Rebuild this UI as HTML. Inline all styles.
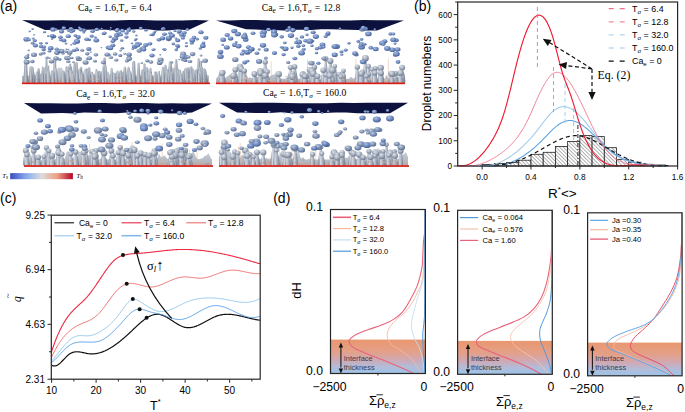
<!DOCTYPE html><html><head><meta charset="utf-8"><style>html,body{margin:0;padding:0;background:#fff;overflow:hidden;width:685px;height:412px;}svg{display:block;}</style></head><body>
<svg width="685" height="412" viewBox="0 0 685 412">
<rect width="685" height="412" fill="#fff"/>
<defs>
<radialGradient id="gd" cx="0.38" cy="0.32" r="0.75">
<stop offset="0" stop-color="#aabde0"/><stop offset="0.5" stop-color="#6f8bc2"/><stop offset="1" stop-color="#435886"/></radialGradient>
<radialGradient id="gg" cx="0.38" cy="0.32" r="0.75">
<stop offset="0" stop-color="#c2cddd"/><stop offset="0.5" stop-color="#8698b6"/><stop offset="1" stop-color="#566788"/></radialGradient>
<radialGradient id="gm" cx="0.38" cy="0.32" r="0.75"><stop offset="0" stop-color="#bccadf"/><stop offset="0.5" stop-color="#7d93ba"/><stop offset="1" stop-color="#506389"/></radialGradient>
<radialGradient id="gc" cx="0.38" cy="0.3" r="0.75"><stop offset="0" stop-color="#dfe4ea"/><stop offset="0.5" stop-color="#a6b0bf"/><stop offset="1" stop-color="#687387"/></radialGradient>
<linearGradient id="gs" x1="0" y1="0" x2="1" y2="0"><stop offset="0" stop-color="#6f7a89"/><stop offset="0.35" stop-color="#c6ccd5"/><stop offset="0.7" stop-color="#9aa3b2"/><stop offset="1" stop-color="#606a7c"/></linearGradient>
<linearGradient id="gp" x1="0" y1="0" x2="1" y2="0">
<stop offset="0" stop-color="#7c879a"/><stop offset="0.3" stop-color="#d3d9e1"/><stop offset="0.6" stop-color="#a9b2c1"/><stop offset="1" stop-color="#6c778b"/></linearGradient>
<linearGradient id="gfloor" x1="0" y1="0" x2="0" y2="1">
<stop offset="0" stop-color="#c6cbd3"/><stop offset="0.7" stop-color="#b4bac4"/><stop offset="1" stop-color="#bfa297"/></linearGradient>
<linearGradient id="gcb" x1="0" y1="0" x2="1" y2="0">
<stop offset="0" stop-color="#3b4cc0"/><stop offset="0.25" stop-color="#86a9ee"/><stop offset="0.5" stop-color="#dcdcdc"/><stop offset="0.75" stop-color="#eda083"/><stop offset="1" stop-color="#b40426"/></linearGradient>
<linearGradient id="gband" x1="0" y1="0" x2="0" y2="1">
<stop offset="0" stop-color="#e9976f"/><stop offset="0.35" stop-color="#e4a088"/><stop offset="0.6" stop-color="#d0a9b4"/><stop offset="0.8" stop-color="#b2bcd9"/><stop offset="1" stop-color="#9dc3e8"/></linearGradient>
<pattern id="hatch" patternUnits="userSpaceOnUse" width="2.6" height="2.6" patternTransform="rotate(-45)">
<rect width="2.6" height="2.6" fill="#fff"/><line x1="0" y1="0" x2="0" y2="2.6" stroke="#4a4a4a" stroke-width="0.85"/></pattern>
</defs>
<text x="0.00" y="10.60" font-size="14.00" text-anchor="start" font-family='"Liberation Sans", sans-serif' >(a)</text>
<text x="414.00" y="10.60" font-size="14.00" text-anchor="start" font-family='"Liberation Sans", sans-serif' >(b)</text>
<text x="0.00" y="202.80" font-size="14.00" text-anchor="start" font-family='"Liberation Sans", sans-serif' >(c)</text>
<text x="273.20" y="202.60" font-size="14.00" text-anchor="start" font-family='"Liberation Sans", sans-serif' >(d)</text>
<path d="M22.0,20.1 L35.4,20.6 L48.7,20.6 L62.1,20.2 L75.4,20.4 L88.8,20.4 L102.1,20.5 L115.5,20.6 L128.9,20.1 L142.2,20.1 L155.6,20.6 L168.9,20.4 L182.3,20.6 L195.6,20.1 L209.0,20.4 L188.0,30.2 L177.8,29.6 L167.6,30.4 L157.4,30.4 L147.1,29.3 L136.9,29.3 L126.7,29.9 L116.5,30.4 L106.3,29.8 L96.1,29.6 L85.9,29.8 L75.6,29.3 L65.4,29.6 L55.2,29.8 L45.0,29.9 Z" fill="#0c123d"/>
<ellipse cx="79.4" cy="27.7" rx="1.4" ry="1.1" fill="url(#gd)"/>
<ellipse cx="110.9" cy="27.9" rx="1.0" ry="0.8" fill="url(#gd)"/>
<ellipse cx="163.4" cy="28.8" rx="2.2" ry="1.7" fill="url(#gd)"/>
<ellipse cx="72.8" cy="30.4" rx="2.5" ry="2.0" fill="url(#gd)"/>
<ellipse cx="63.8" cy="28.1" rx="2.3" ry="1.8" fill="url(#gd)"/>
<ellipse cx="145.9" cy="30.2" rx="1.8" ry="1.4" fill="url(#gd)"/>
<ellipse cx="162.4" cy="29.2" rx="1.5" ry="1.2" fill="url(#gd)"/>
<ellipse cx="128.7" cy="30.0" rx="2.5" ry="2.0" fill="url(#gd)"/>
<ellipse cx="117.2" cy="29.0" rx="1.1" ry="0.8" fill="url(#gd)"/>
<ellipse cx="80.7" cy="29.7" rx="1.7" ry="1.4" fill="url(#gd)"/>
<ellipse cx="71.0" cy="28.8" rx="2.3" ry="1.8" fill="url(#gd)"/>
<ellipse cx="140.8" cy="28.2" rx="1.8" ry="1.4" fill="url(#gd)"/>
<ellipse cx="117.7" cy="29.6" rx="1.9" ry="1.5" fill="url(#gd)"/>
<ellipse cx="101.7" cy="28.6" rx="1.1" ry="0.8" fill="url(#gd)"/>
<ellipse cx="53.0" cy="29.4" rx="2.8" ry="2.2" fill="url(#gd)"/>
<ellipse cx="129.5" cy="28.3" rx="1.3" ry="1.0" fill="url(#gd)"/>
<ellipse cx="116.8" cy="30.3" rx="2.4" ry="1.9" fill="url(#gd)"/>
<ellipse cx="122.0" cy="29.9" rx="1.4" ry="1.1" fill="url(#gd)"/>
<path d="M22.0,82.8 L22.0,75.8 L22.5,75.8 L23.0,75.8 L23.5,75.8 L24.0,75.8 L24.5,75.7 L25.0,75.4 L25.5,75.0 L26.0,74.9 L26.5,75.2 L27.0,75.5 L27.5,75.7 L28.0,75.8 L28.5,75.8 L29.0,75.8 L29.5,75.8 L30.0,75.6 L30.5,75.3 L31.0,74.6 L31.5,73.4 L32.0,71.9 L32.5,70.5 L33.0,70.0 L33.5,70.5 L34.0,71.9 L34.5,73.4 L35.0,74.6 L35.5,75.3 L36.0,75.6 L36.5,75.7 L37.0,75.6 L37.5,75.6 L38.0,75.4 L38.5,75.3 L39.0,75.0 L39.5,74.7 L40.0,74.3 L40.5,73.8 L41.0,73.4 L41.5,73.0 L42.0,72.8 L42.5,72.7 L43.0,72.9 L43.5,73.2 L44.0,73.6 L44.5,74.1 L45.0,74.6 L45.5,74.9 L46.0,75.2 L46.5,75.5 L47.0,75.6 L47.5,75.7 L48.0,75.7 L48.5,75.7 L49.0,75.6 L49.5,75.5 L50.0,75.3 L50.5,75.1 L51.0,74.8 L51.5,74.5 L52.0,74.2 L52.5,73.7 L53.0,73.1 L53.5,72.4 L54.0,71.5 L54.5,70.9 L55.0,70.5 L55.5,70.7 L56.0,71.1 L56.5,71.5 L57.0,71.1 L57.5,69.5 L58.0,67.8 L58.5,67.8 L59.0,67.8 L59.5,67.8 L60.0,67.8 L60.5,67.8 L61.0,67.8 L61.5,67.8 L62.0,67.9 L62.5,69.3 L63.0,70.4 L63.5,71.4 L64.0,72.3 L64.5,73.0 L65.0,73.6 L65.5,74.0 L66.0,74.3 L66.5,74.3 L67.0,74.1 L67.5,73.6 L68.0,73.0 L68.5,72.4 L69.0,71.9 L69.5,71.5 L70.0,71.2 L70.5,71.2 L71.0,71.2 L71.5,71.3 L72.0,71.5 L72.5,71.8 L73.0,72.1 L73.5,72.5 L74.0,73.0 L74.5,73.4 L75.0,73.6 L75.5,73.6 L76.0,73.3 L76.5,72.8 L77.0,72.3 L77.5,71.7 L78.0,71.3 L78.5,71.0 L79.0,70.9 L79.5,70.8 L80.0,70.9 L80.5,71.2 L81.0,71.5 L81.5,72.0 L82.0,72.5 L82.5,72.9 L83.0,73.1 L83.5,73.2 L84.0,73.0 L84.5,72.7 L85.0,72.2 L85.5,71.9 L86.0,71.7 L86.5,71.7 L87.0,71.9 L87.5,72.4 L88.0,73.0 L88.5,73.6 L89.0,74.2 L89.5,74.7 L90.0,75.1 L90.5,75.4 L91.0,75.5 L91.5,75.6 L92.0,75.5 L92.5,75.3 L93.0,75.1 L93.5,74.9 L94.0,74.7 L94.5,74.7 L95.0,74.8 L95.5,75.1 L96.0,75.3 L96.5,75.5 L97.0,75.7 L97.5,75.7 L98.0,75.8 L98.5,75.8 L99.0,75.7 L99.5,75.6 L100.0,75.2 L100.5,74.1 L101.0,72.2 L101.5,70.7 L102.0,71.0 L102.5,72.8 L103.0,74.5 L103.5,75.4 L104.0,75.7 L104.5,75.8 L105.0,75.7 L105.5,75.5 L106.0,74.9 L106.5,73.9 L107.0,72.4 L107.5,71.3 L108.0,71.2 L108.5,72.1 L109.0,73.3 L109.5,74.1 L110.0,74.5 L110.5,74.4 L111.0,73.9 L111.5,73.2 L112.0,72.6 L112.5,72.3 L113.0,72.2 L113.5,72.5 L114.0,73.0 L114.5,73.2 L115.0,73.1 L115.5,72.7 L116.0,71.9 L116.5,71.1 L117.0,70.5 L117.5,70.4 L118.0,70.6 L118.5,71.1 L119.0,71.7 L119.5,72.2 L120.0,72.5 L120.5,72.6 L121.0,72.4 L121.5,72.2 L122.0,71.9 L122.5,71.8 L123.0,72.0 L123.5,72.5 L124.0,73.1 L124.5,73.8 L125.0,74.5 L125.5,75.0 L126.0,75.3 L126.5,75.2 L127.0,74.6 L127.5,73.5 L128.0,71.9 L128.5,70.5 L129.0,69.8 L129.5,70.1 L130.0,71.1 L130.5,72.4 L131.0,73.7 L131.5,74.6 L132.0,75.3 L132.5,75.6 L133.0,75.7 L133.5,75.8 L134.0,75.8 L134.5,75.8 L135.0,75.8 L135.5,75.8 L136.0,75.8 L136.5,75.7 L137.0,75.7 L137.5,75.6 L138.0,75.5 L138.5,75.4 L139.0,75.4 L139.5,75.4 L140.0,75.5 L140.5,75.6 L141.0,75.7 L141.5,75.8 L142.0,75.8 L142.5,75.7 L143.0,75.7 L143.5,75.5 L144.0,75.3 L144.5,74.9 L145.0,74.3 L145.5,73.6 L146.0,72.6 L146.5,71.5 L147.0,70.5 L147.5,69.6 L148.0,69.1 L148.5,69.0 L149.0,69.5 L149.5,70.3 L150.0,71.4 L150.5,72.6 L151.0,73.6 L151.5,74.4 L152.0,75.0 L152.5,75.4 L153.0,75.6 L153.5,75.7 L154.0,75.6 L154.5,75.3 L155.0,74.5 L155.5,73.2 L156.0,71.8 L156.5,71.2 L157.0,71.6 L157.5,72.6 L158.0,73.8 L158.5,74.8 L159.0,75.4 L159.5,75.7 L160.0,75.8 L160.5,75.8 L161.0,75.7 L161.5,75.6 L162.0,75.5 L162.5,75.3 L163.0,75.2 L163.5,75.2 L164.0,75.3 L164.5,75.4 L165.0,75.6 L165.5,75.6 L166.0,75.5 L166.5,75.3 L167.0,74.8 L167.5,74.2 L168.0,73.6 L168.5,73.0 L169.0,72.4 L169.5,71.8 L170.0,71.2 L170.5,70.4 L171.0,69.6 L171.5,68.8 L172.0,68.0 L172.5,67.8 L173.0,67.8 L173.5,67.8 L174.0,67.8 L174.5,68.4 L175.0,69.1 L175.5,69.9 L176.0,70.8 L176.5,71.6 L177.0,72.4 L177.5,73.2 L178.0,73.8 L178.5,74.4 L179.0,74.8 L179.5,75.0 L180.0,75.0 L180.5,74.8 L181.0,74.5 L181.5,74.0 L182.0,73.4 L182.5,72.7 L183.0,71.9 L183.5,71.0 L184.0,69.8 L184.5,68.3 L185.0,67.8 L185.5,67.8 L186.0,67.8 L186.5,67.8 L187.0,67.9 L187.5,71.5 L188.0,73.8 L188.5,74.9 L189.0,75.4 L189.5,75.6 L190.0,75.7 L190.5,75.7 L191.0,75.8 L191.5,75.8 L192.0,75.8 L192.5,75.8 L193.0,75.8 L193.5,75.8 L194.0,75.8 L194.5,75.8 L195.0,75.8 L195.5,75.8 L196.0,75.8 L196.5,75.8 L197.0,75.8 L197.5,75.8 L198.0,75.8 L198.5,75.7 L199.0,75.5 L199.5,74.9 L200.0,73.3 L200.5,71.1 L201.0,69.7 L201.5,70.3 L202.0,71.8 L202.5,72.6 L203.0,72.6 L203.5,72.5 L204.0,72.4 L204.5,72.5 L205.0,72.7 L205.5,73.1 L206.0,73.6 L206.5,74.1 L207.0,74.6 L207.5,75.0 L208.0,75.3 L208.5,75.5 L209.0,75.7 L209.0,82.8 Z" fill="url(#gfloor)"/>
<path d="M101.7,82.8 L103.2,58.5 Q104.4,55.9 105.7,58.5 L107.1,82.8 Z" fill="url(#gs)"/>
<path d="M195.7,82.8 L197.6,59.2 Q198.7,57.0 199.7,59.2 L201.6,82.8 Z" fill="url(#gs)"/>
<path d="M23.5,82.8 L24.4,60.0 Q25.7,57.4 27.0,60.0 L28.0,82.8 Z" fill="url(#gs)"/>
<path d="M173.5,82.8 L175.1,60.0 Q176.2,57.8 177.3,60.0 L178.8,82.8 Z" fill="url(#gs)"/>
<path d="M44.3,82.8 L45.5,60.6 Q46.4,58.8 47.3,60.6 L48.4,82.8 Z" fill="url(#gs)"/>
<path d="M53.2,82.8 L53.6,61.2 Q54.8,58.7 56.1,61.2 L56.5,82.8 Z" fill="url(#gs)"/>
<path d="M199.1,82.8 L199.6,61.7 Q200.8,59.2 202.0,61.7 L202.5,82.8 Z" fill="url(#gs)"/>
<path d="M131.4,82.8 L132.3,62.0 Q133.7,59.3 135.1,62.0 L136.0,82.8 Z" fill="url(#gs)"/>
<path d="M167.6,82.8 L168.9,62.3 Q170.3,59.5 171.7,62.3 L172.9,82.8 Z" fill="url(#gs)"/>
<path d="M74.8,82.8 L75.5,62.9 Q76.5,60.8 77.6,62.9 L78.3,82.8 Z" fill="url(#gs)"/>
<path d="M72.1,82.8 L73.5,63.2 Q74.5,61.4 75.4,63.2 L76.8,82.8 Z" fill="url(#gs)"/>
<path d="M136.3,82.8 L137.6,63.4 Q138.6,61.5 139.5,63.4 L140.8,82.8 Z" fill="url(#gs)"/>
<path d="M68.1,82.8 L69.7,63.9 Q70.4,62.5 71.1,63.9 L72.7,82.8 Z" fill="url(#gs)"/>
<path d="M142.2,82.8 L143.4,64.3 Q144.4,62.3 145.4,64.3 L146.6,82.8 Z" fill="url(#gs)"/>
<path d="M68.0,82.8 L68.9,64.7 Q69.9,62.8 70.9,64.7 L71.9,82.8 Z" fill="url(#gs)"/>
<path d="M162.7,82.8 L164.2,65.8 Q165.4,63.4 166.6,65.8 L168.1,82.8 Z" fill="url(#gs)"/>
<path d="M45.6,82.8 L46.7,66.3 Q47.9,64.0 49.0,66.3 L50.1,82.8 Z" fill="url(#gs)"/>
<path d="M103.5,82.8 L104.7,66.2 Q105.6,64.5 106.4,66.2 L107.6,82.8 Z" fill="url(#gs)"/>
<path d="M65.0,82.8 L65.6,67.0 Q66.5,65.2 67.4,67.0 L68.0,82.8 Z" fill="url(#gs)"/>
<path d="M28.4,82.8 L29.5,67.4 Q30.8,64.8 32.1,67.4 L33.2,82.8 Z" fill="url(#gs)"/>
<path d="M173.1,82.8 L174.8,67.2 Q175.8,65.0 176.9,67.2 L178.6,82.8 Z" fill="url(#gs)"/>
<path d="M65.6,82.8 L67.6,67.2 Q68.6,65.1 69.6,67.2 L71.6,82.8 Z" fill="url(#gs)"/>
<path d="M68.2,82.8 L70.0,67.2 Q71.0,65.2 72.0,67.2 L73.7,82.8 Z" fill="url(#gs)"/>
<path d="M188.4,82.8 L189.6,67.6 Q191.0,64.9 192.4,67.6 L193.6,82.8 Z" fill="url(#gs)"/>
<path d="M40.7,82.8 L41.9,67.1 Q42.7,65.5 43.5,67.1 L44.6,82.8 Z" fill="url(#gs)"/>
<path d="M160.5,82.8 L161.9,67.5 Q162.9,65.3 164.0,67.5 L165.4,82.8 Z" fill="url(#gs)"/>
<path d="M126.5,82.8 L127.8,67.2 Q128.5,65.8 129.2,67.2 L130.5,82.8 Z" fill="url(#gs)"/>
<path d="M79.1,82.8 L80.1,67.5 Q81.1,65.5 82.1,67.5 L83.2,82.8 Z" fill="url(#gs)"/>
<path d="M67.9,82.8 L68.7,67.8 Q70.0,65.2 71.3,67.8 L72.1,82.8 Z" fill="url(#gs)"/>
<path d="M122.5,82.8 L123.7,67.8 Q124.9,65.3 126.1,67.8 L127.3,82.8 Z" fill="url(#gs)"/>
<path d="M29.5,82.8 L31.1,67.8 Q32.4,65.3 33.6,67.8 L35.2,82.8 Z" fill="url(#gs)"/>
<path d="M66.1,82.8 L67.1,67.8 Q68.4,65.3 69.6,67.8 L70.6,82.8 Z" fill="url(#gs)"/>
<path d="M167.3,82.8 L168.6,67.8 Q169.8,65.4 170.9,67.8 L172.2,82.8 Z" fill="url(#gs)"/>
<path d="M144.4,82.8 L145.9,67.7 Q146.9,65.7 147.8,67.7 L149.3,82.8 Z" fill="url(#gs)"/>
<path d="M199.5,82.8 L200.8,68.0 Q201.9,65.7 203.1,68.0 L204.4,82.8 Z" fill="url(#gs)"/>
<path d="M85.9,82.8 L87.6,68.3 Q88.8,65.8 90.1,68.3 L91.7,82.8 Z" fill="url(#gs)"/>
<path d="M197.3,82.8 L198.8,68.3 Q200.0,65.8 201.3,68.3 L202.8,82.8 Z" fill="url(#gs)"/>
<path d="M185.2,82.8 L186.8,68.2 Q188.0,66.0 189.1,68.2 L190.7,82.8 Z" fill="url(#gs)"/>
<path d="M101.1,82.8 L102.2,68.1 Q103.1,66.3 104.0,68.1 L105.1,82.8 Z" fill="url(#gs)"/>
<path d="M42.2,82.8 L43.5,68.6 Q44.8,66.0 46.1,68.6 L47.3,82.8 Z" fill="url(#gs)"/>
<path d="M195.8,82.8 L197.4,68.2 Q198.2,66.5 199.0,68.2 L200.5,82.8 Z" fill="url(#gs)"/>
<path d="M147.6,82.8 L149.3,68.4 Q150.4,66.4 151.4,68.4 L153.1,82.8 Z" fill="url(#gs)"/>
<path d="M188.9,82.8 L190.4,68.4 Q191.1,66.9 191.9,68.4 L193.3,82.8 Z" fill="url(#gs)"/>
<path d="M126.3,82.8 L127.3,69.0 Q128.5,66.5 129.7,69.0 L130.8,82.8 Z" fill="url(#gs)"/>
<path d="M109.5,82.8 L110.7,68.7 Q111.6,66.8 112.6,68.7 L113.7,82.8 Z" fill="url(#gs)"/>
<path d="M28.4,82.8 L30.2,68.6 Q30.9,67.2 31.6,68.6 L33.3,82.8 Z" fill="url(#gs)"/>
<path d="M77.8,82.8 L78.7,69.3 Q80.0,66.6 81.4,69.3 L82.3,82.8 Z" fill="url(#gs)"/>
<path d="M53.4,82.8 L55.0,68.9 Q55.9,67.0 56.9,68.9 L58.5,82.8 Z" fill="url(#gs)"/>
<path d="M44.0,82.8 L45.4,69.1 Q46.5,66.9 47.6,69.1 L49.1,82.8 Z" fill="url(#gs)"/>
<path d="M36.7,82.8 L37.7,68.9 Q38.5,67.2 39.4,68.9 L40.4,82.8 Z" fill="url(#gs)"/>
<path d="M35.6,82.8 L37.6,69.1 Q38.5,67.3 39.4,69.1 L41.3,82.8 Z" fill="url(#gs)"/>
<path d="M84.5,82.8 L84.8,69.6 Q86.1,67.0 87.4,69.6 L87.7,82.8 Z" fill="url(#gs)"/>
<path d="M190.4,82.8 L191.7,69.2 Q192.7,67.3 193.6,69.2 L194.9,82.8 Z" fill="url(#gs)"/>
<path d="M188.5,82.8 L189.6,69.5 Q190.8,67.1 192.0,69.5 L193.1,82.8 Z" fill="url(#gs)"/>
<path d="M202.5,82.8 L203.1,69.5 Q204.3,67.1 205.5,69.5 L206.0,82.8 Z" fill="url(#gs)"/>
<path d="M185.3,82.8 L186.6,69.6 Q187.9,67.1 189.2,69.6 L190.5,82.8 Z" fill="url(#gs)"/>
<path d="M184.1,82.8 L184.8,69.6 Q186.0,67.3 187.1,69.6 L187.9,82.8 Z" fill="url(#gs)"/>
<path d="M172.8,82.8 L173.6,69.6 Q174.7,67.4 175.8,69.6 L176.5,82.8 Z" fill="url(#gs)"/>
<path d="M78.2,82.8 L78.7,69.8 Q79.9,67.3 81.2,69.8 L81.7,82.8 Z" fill="url(#gs)"/>
<path d="M93.5,82.8 L95.4,69.6 Q96.3,67.7 97.2,69.6 L99.1,82.8 Z" fill="url(#gs)"/>
<path d="M176.4,82.8 L176.9,70.2 Q178.3,67.5 179.6,70.2 L180.1,82.8 Z" fill="url(#gs)"/>
<path d="M164.8,82.8 L166.1,70.2 Q167.4,67.7 168.7,70.2 L169.9,82.8 Z" fill="url(#gs)"/>
<path d="M195.0,82.8 L195.3,70.4 Q196.6,67.7 197.9,70.4 L198.1,82.8 Z" fill="url(#gs)"/>
<path d="M173.6,82.8 L175.1,70.0 Q176.0,68.2 176.9,70.0 L178.5,82.8 Z" fill="url(#gs)"/>
<path d="M140.3,82.8 L141.2,70.5 Q142.4,68.0 143.7,70.5 L144.6,82.8 Z" fill="url(#gs)"/>
<path d="M202.6,82.8 L204.5,70.1 Q205.3,68.5 206.2,70.1 L208.0,82.8 Z" fill="url(#gs)"/>
<path d="M140.4,82.8 L142.1,70.2 Q142.9,68.6 143.7,70.2 L145.3,82.8 Z" fill="url(#gs)"/>
<path d="M201.5,82.8 L203.4,70.5 Q204.4,68.5 205.5,70.5 L207.4,82.8 Z" fill="url(#gs)"/>
<path d="M130.4,82.8 L132.1,70.7 Q133.3,68.3 134.5,70.7 L136.1,82.8 Z" fill="url(#gs)"/>
<path d="M177.7,82.8 L179.3,70.4 Q180.1,68.7 181.0,70.4 L182.5,82.8 Z" fill="url(#gs)"/>
<path d="M191.4,82.8 L192.9,70.4 Q193.7,68.8 194.5,70.4 L196.0,82.8 Z" fill="url(#gs)"/>
<path d="M68.4,82.8 L68.9,70.9 Q70.1,68.5 71.3,70.9 L71.8,82.8 Z" fill="url(#gs)"/>
<path d="M65.3,82.8 L66.1,71.1 Q67.4,68.6 68.6,71.1 L69.4,82.8 Z" fill="url(#gs)"/>
<path d="M118.9,82.8 L119.6,71.1 Q120.8,68.7 122.0,71.1 L122.6,82.8 Z" fill="url(#gs)"/>
<path d="M49.3,82.8 L51.0,70.8 Q51.9,69.0 52.8,70.8 L54.4,82.8 Z" fill="url(#gs)"/>
<path d="M41.5,82.8 L42.2,71.0 Q43.2,69.0 44.1,71.0 L44.8,82.8 Z" fill="url(#gs)"/>
<path d="M85.3,82.8 L86.8,70.8 Q87.5,69.2 88.3,70.8 L89.8,82.8 Z" fill="url(#gs)"/>
<path d="M122.8,82.8 L123.8,71.0 Q124.6,69.5 125.3,71.0 L126.3,82.8 Z" fill="url(#gs)"/>
<path d="M68.8,82.8 L69.8,71.5 Q71.2,68.9 72.5,71.5 L73.6,82.8 Z" fill="url(#gs)"/>
<path d="M202.0,82.8 L203.1,71.0 Q203.8,69.5 204.5,71.0 L205.6,82.8 Z" fill="url(#gs)"/>
<path d="M82.5,82.8 L83.7,71.5 Q85.0,69.0 86.3,71.5 L87.6,82.8 Z" fill="url(#gs)"/>
<path d="M45.5,82.8 L47.3,71.4 Q48.4,69.2 49.5,71.4 L51.3,82.8 Z" fill="url(#gs)"/>
<path d="M97.3,82.8 L98.1,71.7 Q99.4,69.1 100.6,71.7 L101.4,82.8 Z" fill="url(#gs)"/>
<path d="M185.7,82.8 L186.2,71.6 Q187.4,69.2 188.6,71.6 L189.1,82.8 Z" fill="url(#gs)"/>
<path d="M61.9,82.8 L62.6,71.4 Q63.5,69.5 64.5,71.4 L65.2,82.8 Z" fill="url(#gs)"/>
<path d="M197.9,82.8 L199.2,71.4 Q200.2,69.5 201.1,71.4 L202.4,82.8 Z" fill="url(#gs)"/>
<path d="M157.2,82.8 L158.1,71.5 Q159.0,69.8 159.9,71.5 L160.8,82.8 Z" fill="url(#gs)"/>
<path d="M127.3,82.8 L129.0,71.7 Q130.0,69.6 131.1,71.7 L132.8,82.8 Z" fill="url(#gs)"/>
<path d="M160.8,82.8 L162.3,71.5 Q163.2,69.8 164.0,71.5 L165.5,82.8 Z" fill="url(#gs)"/>
<path d="M180.5,82.8 L182.2,71.6 Q183.1,69.8 184.0,71.6 L185.7,82.8 Z" fill="url(#gs)"/>
<path d="M94.9,82.8 L96.0,72.1 Q97.3,69.4 98.6,72.1 L99.7,82.8 Z" fill="url(#gs)"/>
<path d="M83.2,82.8 L85.5,71.5 Q86.2,70.1 87.0,71.5 L89.2,82.8 Z" fill="url(#gs)"/>
<path d="M60.4,82.8 L61.8,72.1 Q63.1,69.5 64.4,72.1 L65.8,82.8 Z" fill="url(#gs)"/>
<path d="M170.2,82.8 L171.2,71.9 Q172.2,69.9 173.1,71.9 L174.1,82.8 Z" fill="url(#gs)"/>
<path d="M35.0,82.8 L36.0,72.3 Q37.3,69.6 38.7,72.3 L39.7,82.8 Z" fill="url(#gs)"/>
<path d="M141.4,82.8 L142.2,72.3 Q143.5,69.7 144.8,72.3 L145.6,82.8 Z" fill="url(#gs)"/>
<path d="M71.5,82.8 L73.3,71.8 Q74.1,70.2 74.9,71.8 L76.8,82.8 Z" fill="url(#gs)"/>
<path d="M39.1,82.8 L41.2,71.8 Q41.9,70.4 42.6,71.8 L44.8,82.8 Z" fill="url(#gs)"/>
<path d="M148.4,82.8 L149.0,72.3 Q150.1,70.0 151.3,72.3 L151.8,82.8 Z" fill="url(#gs)"/>
<path d="M153.4,82.8 L154.1,72.2 Q155.0,70.2 156.0,72.2 L156.6,82.8 Z" fill="url(#gs)"/>
<path d="M90.2,82.8 L90.9,72.5 Q91.9,70.4 92.9,72.5 L93.6,82.8 Z" fill="url(#gs)"/>
<path d="M146.2,82.8 L147.6,72.9 Q148.9,70.3 150.3,72.9 L151.7,82.8 Z" fill="url(#gs)"/>
<path d="M52.3,82.8 L53.1,72.4 Q53.8,71.0 54.6,72.4 L55.4,82.8 Z" fill="url(#gs)"/>
<path d="M147.1,82.8 L149.1,72.4 Q149.8,71.0 150.5,72.4 L152.6,82.8 Z" fill="url(#gs)"/>
<path d="M66.0,82.8 L67.1,72.6 Q67.9,71.0 68.7,72.6 L69.8,82.8 Z" fill="url(#gs)"/>
<path d="M176.6,82.8 L177.5,72.5 Q178.2,71.1 178.9,72.5 L179.8,82.8 Z" fill="url(#gs)"/>
<path d="M50.4,82.8 L51.6,73.2 Q52.8,70.8 54.1,73.2 L55.3,82.8 Z" fill="url(#gs)"/>
<path d="M72.0,82.8 L73.2,73.4 Q74.5,70.8 75.8,73.4 L77.0,82.8 Z" fill="url(#gs)"/>
<path d="M74.5,82.8 L76.0,73.2 Q77.0,71.2 78.0,73.2 L79.5,82.8 Z" fill="url(#gs)"/>
<path d="M198.3,82.8 L199.4,73.7 Q200.8,70.9 202.1,73.7 L203.2,82.8 Z" fill="url(#gs)"/>
<path d="M166.1,82.8 L167.6,73.3 Q168.5,71.6 169.4,73.3 L171.0,82.8 Z" fill="url(#gs)"/>
<path d="M80.2,82.8 L80.4,74.0 Q81.8,71.3 83.1,74.0 L83.4,82.8 Z" fill="url(#gs)"/>
<path d="M148.5,82.8 L150.0,73.6 Q150.9,71.7 151.9,73.6 L153.3,82.8 Z" fill="url(#gs)"/>
<path d="M111.9,82.8 L113.2,73.8 Q114.3,71.6 115.4,73.8 L116.7,82.8 Z" fill="url(#gs)"/>
<path d="M34.7,82.8 L36.2,73.5 Q37.0,72.0 37.7,73.5 L39.3,82.8 Z" fill="url(#gs)"/>
<path d="M115.6,82.8 L116.7,73.8 Q117.7,71.9 118.6,73.8 L119.7,82.8 Z" fill="url(#gs)"/>
<path d="M42.9,82.8 L43.4,74.2 Q44.7,71.6 46.0,74.2 L46.5,82.8 Z" fill="url(#gs)"/>
<path d="M197.0,82.8 L197.9,74.1 Q199.1,71.8 200.3,74.1 L201.2,82.8 Z" fill="url(#gs)"/>
<path d="M178.5,82.8 L179.8,74.2 Q181.1,71.8 182.3,74.2 L183.6,82.8 Z" fill="url(#gs)"/>
<path d="M79.1,82.8 L80.4,74.3 Q81.7,71.8 82.9,74.3 L84.2,82.8 Z" fill="url(#gs)"/>
<path d="M169.5,82.8 L170.0,74.5 Q171.4,71.7 172.8,74.5 L173.3,82.8 Z" fill="url(#gs)"/>
<path d="M40.7,82.8 L41.1,74.4 Q42.4,71.8 43.8,74.4 L44.1,82.8 Z" fill="url(#gs)"/>
<path d="M69.9,82.8 L71.4,74.4 Q72.7,71.8 74.0,74.4 L75.5,82.8 Z" fill="url(#gs)"/>
<path d="M188.8,82.8 L189.6,73.9 Q190.4,72.4 191.1,73.9 L192.0,82.8 Z" fill="url(#gs)"/>
<path d="M188.8,82.8 L190.5,74.6 Q191.6,72.5 192.6,74.6 L194.3,82.8 Z" fill="url(#gs)"/>
<path d="M91.0,82.8 L91.7,75.0 Q93.1,72.2 94.5,75.0 L95.2,82.8 Z" fill="url(#gs)"/>
<path d="M29.4,82.8 L29.9,74.7 Q31.0,72.6 32.1,74.7 L32.6,82.8 Z" fill="url(#gs)"/>
<path d="M164.2,82.8 L165.5,74.5 Q166.3,72.9 167.1,74.5 L168.5,82.8 Z" fill="url(#gs)"/>
<ellipse cx="96.1" cy="80.3" rx="2.0" ry="0.4" fill="#c98f77" opacity="0.55"/>
<ellipse cx="39.7" cy="80.8" rx="0.9" ry="0.4" fill="#8e97a6" opacity="0.55"/>
<ellipse cx="33.8" cy="78.1" rx="1.8" ry="0.6" fill="#8e97a6" opacity="0.55"/>
<ellipse cx="172.3" cy="81.1" rx="1.2" ry="0.7" fill="#e0bda8" opacity="0.55"/>
<ellipse cx="116.0" cy="77.8" rx="2.1" ry="0.7" fill="#8e97a6" opacity="0.55"/>
<ellipse cx="199.9" cy="79.7" rx="0.9" ry="0.8" fill="#8e97a6" opacity="0.55"/>
<ellipse cx="119.9" cy="79.6" rx="2.0" ry="0.7" fill="#d9a98e" opacity="0.55"/>
<ellipse cx="188.9" cy="81.0" rx="1.2" ry="0.5" fill="#c98f77" opacity="0.55"/>
<ellipse cx="95.0" cy="78.4" rx="1.4" ry="0.5" fill="#d9a98e" opacity="0.55"/>
<ellipse cx="31.1" cy="80.9" rx="1.7" ry="0.6" fill="#c98f77" opacity="0.55"/>
<ellipse cx="82.0" cy="78.2" rx="1.8" ry="0.7" fill="#d9a98e" opacity="0.55"/>
<ellipse cx="120.3" cy="77.5" rx="2.1" ry="0.6" fill="#c98f77" opacity="0.55"/>
<ellipse cx="129.0" cy="79.1" rx="1.2" ry="0.7" fill="#c98f77" opacity="0.55"/>
<ellipse cx="194.6" cy="81.6" rx="1.9" ry="1.0" fill="#d9a98e" opacity="0.55"/>
<ellipse cx="47.9" cy="79.4" rx="1.6" ry="1.0" fill="#e0bda8" opacity="0.55"/>
<ellipse cx="153.0" cy="80.5" rx="1.3" ry="1.0" fill="#c98f77" opacity="0.55"/>
<ellipse cx="97.5" cy="79.1" rx="2.2" ry="0.7" fill="#e0bda8" opacity="0.55"/>
<ellipse cx="28.4" cy="78.1" rx="1.1" ry="0.5" fill="#d9a98e" opacity="0.55"/>
<ellipse cx="57.2" cy="78.9" rx="1.8" ry="0.4" fill="#d9a98e" opacity="0.55"/>
<ellipse cx="204.0" cy="80.2" rx="1.8" ry="0.5" fill="#d9a98e" opacity="0.55"/>
<ellipse cx="139.9" cy="79.4" rx="0.9" ry="0.4" fill="#e0bda8" opacity="0.55"/>
<ellipse cx="142.0" cy="77.7" rx="2.0" ry="0.4" fill="#c98f77" opacity="0.55"/>
<ellipse cx="189.5" cy="79.2" rx="1.9" ry="0.5" fill="#e0bda8" opacity="0.55"/>
<ellipse cx="133.6" cy="81.1" rx="2.0" ry="0.7" fill="#c98f77" opacity="0.55"/>
<ellipse cx="123.7" cy="81.5" rx="1.9" ry="0.8" fill="#c98f77" opacity="0.55"/>
<ellipse cx="98.4" cy="76.8" rx="1.5" ry="0.6" fill="#8e97a6" opacity="0.55"/>
<ellipse cx="37.1" cy="79.9" rx="1.5" ry="0.7" fill="#8e97a6" opacity="0.55"/>
<ellipse cx="30.4" cy="81.1" rx="1.4" ry="0.5" fill="#c98f77" opacity="0.55"/>
<ellipse cx="151.8" cy="80.0" rx="1.6" ry="0.9" fill="#c98f77" opacity="0.55"/>
<ellipse cx="202.6" cy="79.5" rx="1.6" ry="0.7" fill="#8e97a6" opacity="0.55"/>
<ellipse cx="123.3" cy="80.9" rx="2.1" ry="0.6" fill="#c98f77" opacity="0.55"/>
<ellipse cx="106.7" cy="77.5" rx="1.4" ry="0.5" fill="#e0bda8" opacity="0.55"/>
<ellipse cx="69.8" cy="76.8" rx="1.4" ry="0.8" fill="#d9a98e" opacity="0.55"/>
<ellipse cx="91.1" cy="78.8" rx="2.1" ry="0.9" fill="#d9a98e" opacity="0.55"/>
<ellipse cx="189.3" cy="81.4" rx="2.0" ry="0.6" fill="#8e97a6" opacity="0.55"/>
<ellipse cx="73.3" cy="80.7" rx="1.7" ry="0.9" fill="#c98f77" opacity="0.55"/>
<ellipse cx="94.9" cy="80.8" rx="1.5" ry="0.5" fill="#e0bda8" opacity="0.55"/>
<ellipse cx="56.1" cy="29.4" rx="1.5" ry="1.1" fill="url(#gd)"/>
<ellipse cx="77.0" cy="41.4" rx="3.1" ry="2.3" fill="url(#gd)"/>
<ellipse cx="158.9" cy="39.8" rx="2.5" ry="1.8" fill="url(#gd)"/>
<ellipse cx="112.9" cy="45.3" rx="2.5" ry="1.9" fill="url(#gd)"/>
<ellipse cx="154.6" cy="49.4" rx="1.2" ry="0.9" fill="url(#gd)"/>
<ellipse cx="66.5" cy="49.3" rx="1.1" ry="0.8" fill="url(#gd)"/>
<ellipse cx="197.3" cy="39.1" rx="1.8" ry="1.4" fill="url(#gd)"/>
<ellipse cx="41.1" cy="46.5" rx="2.3" ry="1.7" fill="url(#gd)"/>
<ellipse cx="121.7" cy="40.5" rx="1.7" ry="1.3" fill="url(#gd)"/>
<ellipse cx="43.7" cy="49.4" rx="2.2" ry="1.6" fill="url(#gd)"/>
<ellipse cx="46.5" cy="43.1" rx="1.6" ry="1.2" fill="url(#gd)"/>
<ellipse cx="168.6" cy="39.1" rx="2.8" ry="2.1" fill="url(#gd)"/>
<ellipse cx="40.8" cy="43.2" rx="1.8" ry="1.3" fill="url(#gd)"/>
<ellipse cx="116.9" cy="35.2" rx="2.9" ry="2.1" fill="url(#gd)"/>
<ellipse cx="44.2" cy="46.9" rx="1.8" ry="1.3" fill="url(#gd)"/>
<ellipse cx="119.3" cy="33.2" rx="1.9" ry="1.4" fill="url(#gd)"/>
<ellipse cx="77.2" cy="49.8" rx="2.0" ry="1.5" fill="url(#gd)"/>
<ellipse cx="63.8" cy="40.4" rx="2.6" ry="1.9" fill="url(#gd)"/>
<ellipse cx="26.5" cy="39.2" rx="3.1" ry="2.3" fill="url(#gd)"/>
<ellipse cx="200.3" cy="48.4" rx="1.6" ry="1.2" fill="url(#gd)"/>
<ellipse cx="162.5" cy="38.2" rx="2.8" ry="2.0" fill="url(#gd)"/>
<ellipse cx="152.8" cy="34.8" rx="1.9" ry="1.4" fill="url(#gd)"/>
<ellipse cx="126.5" cy="33.1" rx="2.3" ry="1.7" fill="url(#gd)"/>
<ellipse cx="135.2" cy="40.2" rx="1.3" ry="1.0" fill="url(#gd)"/>
<ellipse cx="150.9" cy="34.9" rx="1.6" ry="1.2" fill="url(#gd)"/>
<ellipse cx="110.2" cy="36.7" rx="1.7" ry="1.3" fill="url(#gd)"/>
<ellipse cx="184.3" cy="32.8" rx="2.5" ry="1.8" fill="url(#gd)"/>
<ellipse cx="84.0" cy="30.2" rx="2.4" ry="1.8" fill="url(#gd)"/>
<ellipse cx="186.4" cy="46.1" rx="1.7" ry="1.2" fill="url(#gd)"/>
<ellipse cx="48.2" cy="35.9" rx="1.3" ry="1.0" fill="url(#gd)"/>
<ellipse cx="122.5" cy="30.8" rx="2.5" ry="1.8" fill="url(#gd)"/>
<ellipse cx="66.0" cy="43.4" rx="1.4" ry="1.0" fill="url(#gd)"/>
<ellipse cx="101.4" cy="47.6" rx="1.0" ry="0.7" fill="url(#gd)"/>
<ellipse cx="136.4" cy="35.4" rx="1.2" ry="0.9" fill="url(#gd)"/>
<ellipse cx="203.3" cy="43.3" rx="1.7" ry="1.3" fill="url(#gd)"/>
<ellipse cx="29.2" cy="39.9" rx="1.7" ry="1.3" fill="url(#gd)"/>
<ellipse cx="164.4" cy="34.3" rx="2.4" ry="1.8" fill="url(#gd)"/>
<ellipse cx="156.2" cy="30.6" rx="1.2" ry="0.9" fill="url(#gd)"/>
<ellipse cx="34.0" cy="34.7" rx="1.1" ry="0.8" fill="url(#gd)"/>
<ellipse cx="194.0" cy="37.4" rx="2.3" ry="1.7" fill="url(#gd)"/>
<ellipse cx="74.5" cy="43.3" rx="2.1" ry="1.5" fill="url(#gd)"/>
<ellipse cx="88.8" cy="48.9" rx="2.7" ry="2.0" fill="url(#gd)"/>
<ellipse cx="134.7" cy="46.7" rx="2.8" ry="2.1" fill="url(#gd)"/>
<ellipse cx="137.3" cy="43.3" rx="2.1" ry="1.6" fill="url(#gd)"/>
<ellipse cx="96.3" cy="40.3" rx="2.9" ry="2.1" fill="url(#gd)"/>
<ellipse cx="34.8" cy="40.5" rx="2.1" ry="1.5" fill="url(#gd)"/>
<ellipse cx="103.7" cy="33.5" rx="2.1" ry="1.6" fill="url(#gd)"/>
<ellipse cx="121.0" cy="34.7" rx="2.0" ry="1.5" fill="url(#gd)"/>
<ellipse cx="92.6" cy="31.2" rx="2.4" ry="1.8" fill="url(#gd)"/>
<ellipse cx="177.7" cy="40.4" rx="2.5" ry="1.9" fill="url(#gd)"/>
<ellipse cx="80.8" cy="29.6" rx="2.4" ry="1.8" fill="url(#gd)"/>
<ellipse cx="50.7" cy="48.2" rx="2.8" ry="2.1" fill="url(#gd)"/>
<ellipse cx="178.5" cy="46.7" rx="1.7" ry="1.3" fill="url(#gd)"/>
<ellipse cx="178.7" cy="32.4" rx="1.8" ry="1.3" fill="url(#gd)"/>
<ellipse cx="133.8" cy="31.5" rx="1.6" ry="1.2" fill="url(#gd)"/>
<ellipse cx="134.3" cy="45.8" rx="1.0" ry="0.8" fill="url(#gd)"/>
<ellipse cx="141.4" cy="48.3" rx="1.8" ry="1.3" fill="url(#gd)"/>
<ellipse cx="108.2" cy="47.5" rx="2.6" ry="2.0" fill="url(#gd)"/>
<ellipse cx="194.0" cy="37.9" rx="1.9" ry="1.4" fill="url(#gd)"/>
<ellipse cx="110.2" cy="30.1" rx="1.1" ry="0.8" fill="url(#gd)"/>
<ellipse cx="32.6" cy="29.0" rx="1.2" ry="0.9" fill="url(#gd)"/>
<ellipse cx="89.5" cy="39.7" rx="1.6" ry="1.2" fill="url(#gd)"/>
<ellipse cx="143.5" cy="48.1" rx="2.7" ry="2.0" fill="url(#gd)"/>
<ellipse cx="171.3" cy="34.1" rx="1.5" ry="1.1" fill="url(#gd)"/>
<ellipse cx="53.7" cy="36.5" rx="2.6" ry="1.9" fill="url(#gd)"/>
<ellipse cx="184.2" cy="35.6" rx="1.7" ry="1.3" fill="url(#gd)"/>
<ellipse cx="164.7" cy="49.9" rx="1.1" ry="0.8" fill="url(#gd)"/>
<ellipse cx="78.2" cy="36.9" rx="2.7" ry="2.0" fill="url(#gd)"/>
<ellipse cx="139.9" cy="43.7" rx="2.1" ry="1.5" fill="url(#gd)"/>
<ellipse cx="186.3" cy="43.1" rx="1.4" ry="1.0" fill="url(#gd)"/>
<ellipse cx="86.7" cy="39.2" rx="2.5" ry="1.8" fill="url(#gd)"/>
<ellipse cx="187.4" cy="29.5" rx="1.8" ry="1.3" fill="url(#gd)"/>
<ellipse cx="154.7" cy="32.7" rx="1.2" ry="0.9" fill="url(#gd)"/>
<ellipse cx="143.8" cy="49.4" rx="2.6" ry="2.0" fill="url(#gd)"/>
<ellipse cx="114.2" cy="38.9" rx="2.6" ry="1.9" fill="url(#gd)"/>
<ellipse cx="104.7" cy="33.1" rx="2.1" ry="1.6" fill="url(#gd)"/>
<ellipse cx="177.0" cy="48.5" rx="1.3" ry="1.0" fill="url(#gd)"/>
<ellipse cx="29.7" cy="31.3" rx="1.2" ry="0.9" fill="url(#gd)"/>
<ellipse cx="145.8" cy="45.1" rx="2.7" ry="2.0" fill="url(#gd)"/>
<ellipse cx="201.0" cy="32.3" rx="2.7" ry="2.0" fill="url(#gd)"/>
<ellipse cx="96.8" cy="29.4" rx="2.3" ry="1.7" fill="url(#gd)"/>
<ellipse cx="122.3" cy="48.2" rx="1.8" ry="1.3" fill="url(#gd)"/>
<ellipse cx="202.8" cy="45.9" rx="2.9" ry="2.1" fill="url(#gd)"/>
<ellipse cx="68.3" cy="36.2" rx="2.6" ry="1.9" fill="url(#gd)"/>
<ellipse cx="56.8" cy="49.2" rx="2.2" ry="1.6" fill="url(#gd)"/>
<ellipse cx="168.8" cy="38.0" rx="3.0" ry="2.2" fill="url(#gd)"/>
<ellipse cx="150.0" cy="43.7" rx="2.4" ry="1.8" fill="url(#gd)"/>
<ellipse cx="166.1" cy="34.2" rx="1.3" ry="0.9" fill="url(#gd)"/>
<ellipse cx="126.4" cy="37.1" rx="2.3" ry="1.7" fill="url(#gd)"/>
<ellipse cx="68.3" cy="49.5" rx="1.0" ry="0.8" fill="url(#gd)"/>
<ellipse cx="75.3" cy="35.6" rx="1.9" ry="1.4" fill="url(#gd)"/>
<ellipse cx="153.1" cy="49.7" rx="1.7" ry="1.2" fill="url(#gd)"/>
<ellipse cx="115.8" cy="38.4" rx="1.9" ry="1.4" fill="url(#gd)"/>
<ellipse cx="95.4" cy="37.3" rx="1.4" ry="1.1" fill="url(#gd)"/>
<ellipse cx="52.4" cy="36.6" rx="2.2" ry="1.6" fill="url(#gd)"/>
<ellipse cx="137.6" cy="45.4" rx="2.5" ry="1.9" fill="url(#gd)"/>
<ellipse cx="71.2" cy="32.0" rx="1.7" ry="1.3" fill="url(#gd)"/>
<ellipse cx="52.0" cy="38.8" rx="1.3" ry="0.9" fill="url(#gd)"/>
<ellipse cx="170.1" cy="33.1" rx="2.1" ry="1.6" fill="url(#gd)"/>
<ellipse cx="182.8" cy="38.0" rx="2.2" ry="1.6" fill="url(#gd)"/>
<ellipse cx="60.4" cy="37.2" rx="2.3" ry="1.7" fill="url(#gd)"/>
<ellipse cx="35.4" cy="45.5" rx="2.6" ry="1.9" fill="url(#gd)"/>
<ellipse cx="132.0" cy="43.3" rx="1.3" ry="0.9" fill="url(#gd)"/>
<ellipse cx="68.7" cy="30.6" rx="1.8" ry="1.3" fill="url(#gd)"/>
<ellipse cx="203.6" cy="42.9" rx="1.7" ry="1.3" fill="url(#gd)"/>
<ellipse cx="153.4" cy="33.7" rx="1.7" ry="1.3" fill="url(#gd)"/>
<ellipse cx="174.8" cy="30.9" rx="1.4" ry="1.1" fill="url(#gd)"/>
<ellipse cx="171.6" cy="35.1" rx="2.2" ry="1.7" fill="url(#gd)"/>
<ellipse cx="71.1" cy="44.8" rx="1.1" ry="0.8" fill="url(#gd)"/>
<ellipse cx="172.0" cy="35.6" rx="3.0" ry="2.2" fill="url(#gd)"/>
<ellipse cx="179.6" cy="31.2" rx="2.3" ry="1.7" fill="url(#gd)"/>
<ellipse cx="116.9" cy="33.4" rx="1.3" ry="0.9" fill="url(#gd)"/>
<ellipse cx="173.3" cy="43.9" rx="1.8" ry="1.3" fill="url(#gd)"/>
<ellipse cx="154.6" cy="31.8" rx="1.5" ry="1.1" fill="url(#gd)"/>
<ellipse cx="61.5" cy="31.5" rx="2.6" ry="1.9" fill="url(#gd)"/>
<ellipse cx="136.1" cy="39.1" rx="1.6" ry="1.2" fill="url(#gd)"/>
<ellipse cx="191.8" cy="43.1" rx="2.1" ry="1.5" fill="url(#gd)"/>
<ellipse cx="164.2" cy="49.3" rx="1.9" ry="1.4" fill="url(#gd)"/>
<ellipse cx="175.4" cy="31.1" rx="1.3" ry="0.9" fill="url(#gd)"/>
<ellipse cx="33.1" cy="38.5" rx="1.5" ry="1.1" fill="url(#gd)"/>
<ellipse cx="192.3" cy="40.3" rx="2.9" ry="2.2" fill="url(#gd)"/>
<ellipse cx="32.7" cy="43.2" rx="1.9" ry="1.4" fill="url(#gd)"/>
<ellipse cx="132.8" cy="49.1" rx="1.4" ry="1.0" fill="url(#gd)"/>
<ellipse cx="60.7" cy="40.0" rx="1.8" ry="1.3" fill="url(#gd)"/>
<ellipse cx="165.6" cy="49.6" rx="1.1" ry="0.8" fill="url(#gd)"/>
<ellipse cx="176.0" cy="38.6" rx="1.4" ry="1.0" fill="url(#gd)"/>
<ellipse cx="76.7" cy="48.0" rx="1.1" ry="0.8" fill="url(#gd)"/>
<ellipse cx="176.2" cy="49.8" rx="1.8" ry="1.4" fill="url(#gd)"/>
<ellipse cx="177.4" cy="45.7" rx="2.4" ry="1.7" fill="url(#gd)"/>
<ellipse cx="110.2" cy="48.0" rx="3.0" ry="2.2" fill="url(#gd)"/>
<ellipse cx="111.4" cy="48.1" rx="1.9" ry="1.4" fill="url(#gd)"/>
<ellipse cx="52.0" cy="35.7" rx="2.2" ry="1.7" fill="url(#gd)"/>
<ellipse cx="181.6" cy="34.8" rx="2.7" ry="2.0" fill="url(#gd)"/>
<ellipse cx="205.8" cy="37.7" rx="2.7" ry="2.0" fill="url(#gd)"/>
<ellipse cx="128.9" cy="31.4" rx="1.0" ry="0.8" fill="url(#gd)"/>
<ellipse cx="91.7" cy="36.1" rx="2.2" ry="1.6" fill="url(#gd)"/>
<ellipse cx="112.8" cy="41.2" rx="2.3" ry="1.7" fill="url(#gd)"/>
<ellipse cx="115.5" cy="38.4" rx="2.7" ry="2.0" fill="url(#gd)"/>
<ellipse cx="83.8" cy="32.4" rx="1.4" ry="1.1" fill="url(#gd)"/>
<ellipse cx="44.5" cy="32.1" rx="1.7" ry="1.2" fill="url(#gd)"/>
<ellipse cx="205.2" cy="60.7" rx="2.8" ry="2.1" fill="url(#gg)"/>
<ellipse cx="139.2" cy="50.8" rx="2.7" ry="2.0" fill="url(#gm)"/>
<ellipse cx="128.9" cy="57.2" rx="2.3" ry="1.7" fill="url(#gg)"/>
<ellipse cx="73.4" cy="62.2" rx="1.2" ry="0.9" fill="url(#gm)"/>
<ellipse cx="63.1" cy="53.4" rx="1.6" ry="1.2" fill="url(#gm)"/>
<ellipse cx="183.1" cy="53.9" rx="3.0" ry="2.3" fill="url(#gg)"/>
<ellipse cx="192.6" cy="54.1" rx="2.8" ry="2.1" fill="url(#gg)"/>
<ellipse cx="160.3" cy="54.7" rx="1.1" ry="0.8" fill="url(#gm)"/>
<ellipse cx="32.4" cy="61.5" rx="2.2" ry="1.7" fill="url(#gm)"/>
<ellipse cx="201.1" cy="55.5" rx="1.4" ry="1.0" fill="url(#gg)"/>
<ellipse cx="47.2" cy="57.6" rx="1.6" ry="1.2" fill="url(#gg)"/>
<ellipse cx="85.6" cy="62.5" rx="3.0" ry="2.2" fill="url(#gg)"/>
<ellipse cx="26.7" cy="62.1" rx="3.1" ry="2.3" fill="url(#gg)"/>
<ellipse cx="26.7" cy="57.2" rx="2.6" ry="1.9" fill="url(#gm)"/>
<ellipse cx="120.6" cy="50.5" rx="1.4" ry="1.1" fill="url(#gg)"/>
<ellipse cx="95.9" cy="54.8" rx="2.4" ry="1.8" fill="url(#gg)"/>
<ellipse cx="78.8" cy="58.9" rx="3.0" ry="2.2" fill="url(#gg)"/>
<ellipse cx="28.7" cy="50.3" rx="1.2" ry="0.9" fill="url(#gm)"/>
<ellipse cx="103.3" cy="62.4" rx="2.5" ry="1.8" fill="url(#gg)"/>
<ellipse cx="152.0" cy="55.5" rx="2.7" ry="2.0" fill="url(#gd)"/>
<ellipse cx="127.0" cy="60.8" rx="2.2" ry="1.6" fill="url(#gg)"/>
<ellipse cx="129.2" cy="58.8" rx="2.8" ry="2.1" fill="url(#gg)"/>
<ellipse cx="147.3" cy="60.8" rx="2.1" ry="1.6" fill="url(#gm)"/>
<ellipse cx="71.9" cy="57.9" rx="1.7" ry="1.2" fill="url(#gg)"/>
<ellipse cx="186.4" cy="55.9" rx="1.5" ry="1.1" fill="url(#gm)"/>
<ellipse cx="151.0" cy="62.0" rx="2.3" ry="1.7" fill="url(#gg)"/>
<ellipse cx="89.5" cy="58.3" rx="2.6" ry="2.0" fill="url(#gm)"/>
<ellipse cx="80.5" cy="59.6" rx="1.0" ry="0.8" fill="url(#gm)"/>
<ellipse cx="182.5" cy="60.2" rx="1.4" ry="1.1" fill="url(#gg)"/>
<ellipse cx="141.8" cy="62.9" rx="1.3" ry="0.9" fill="url(#gm)"/>
<ellipse cx="67.1" cy="57.9" rx="3.0" ry="2.2" fill="url(#gg)"/>
<ellipse cx="116.3" cy="60.0" rx="2.2" ry="1.6" fill="url(#gg)"/>
<ellipse cx="120.3" cy="55.5" rx="2.0" ry="1.5" fill="url(#gd)"/>
<ellipse cx="61.0" cy="51.0" rx="3.0" ry="2.2" fill="url(#gm)"/>
<ellipse cx="69.1" cy="58.2" rx="1.8" ry="1.4" fill="url(#gg)"/>
<ellipse cx="159.6" cy="62.9" rx="2.8" ry="2.1" fill="url(#gm)"/>
<ellipse cx="115.1" cy="54.0" rx="2.4" ry="1.8" fill="url(#gg)"/>
<ellipse cx="183.3" cy="57.2" rx="2.1" ry="1.5" fill="url(#gm)"/>
<ellipse cx="77.9" cy="57.6" rx="2.2" ry="1.6" fill="url(#gg)"/>
<ellipse cx="40.6" cy="54.0" rx="2.0" ry="1.5" fill="url(#gm)"/>
<ellipse cx="160.6" cy="59.7" rx="3.1" ry="2.3" fill="url(#gg)"/>
<ellipse cx="43.6" cy="53.0" rx="2.1" ry="1.5" fill="url(#gg)"/>
<ellipse cx="202.1" cy="62.0" rx="1.1" ry="0.8" fill="url(#gg)"/>
<ellipse cx="179.3" cy="59.5" rx="1.1" ry="0.8" fill="url(#gm)"/>
<ellipse cx="28.4" cy="54.3" rx="1.0" ry="0.8" fill="url(#gg)"/>
<ellipse cx="124.7" cy="53.8" rx="1.5" ry="1.1" fill="url(#gg)"/>
<ellipse cx="68.2" cy="61.5" rx="2.2" ry="1.6" fill="url(#gg)"/>
<ellipse cx="27.9" cy="55.3" rx="1.4" ry="1.0" fill="url(#gm)"/>
<ellipse cx="57.0" cy="52.8" rx="2.9" ry="2.1" fill="url(#gm)"/>
<ellipse cx="51.5" cy="61.4" rx="2.7" ry="2.0" fill="url(#gg)"/>
<ellipse cx="87.3" cy="53.7" rx="2.2" ry="1.7" fill="url(#gm)"/>
<ellipse cx="46.6" cy="58.6" rx="1.4" ry="1.1" fill="url(#gg)"/>
<ellipse cx="171.9" cy="62.4" rx="1.5" ry="1.1" fill="url(#gg)"/>
<ellipse cx="70.0" cy="55.5" rx="1.1" ry="0.8" fill="url(#gg)"/>
<ellipse cx="107.2" cy="54.5" rx="2.8" ry="2.1" fill="url(#gm)"/>
<ellipse cx="95.0" cy="61.2" rx="1.9" ry="1.4" fill="url(#gm)"/>
<ellipse cx="189.9" cy="61.4" rx="2.3" ry="1.7" fill="url(#gg)"/>
<ellipse cx="185.3" cy="60.4" rx="2.1" ry="1.6" fill="url(#gd)"/>
<ellipse cx="161.6" cy="62.1" rx="1.8" ry="1.3" fill="url(#gg)"/>
<ellipse cx="110.3" cy="55.1" rx="1.0" ry="0.8" fill="url(#gg)"/>
<ellipse cx="182.8" cy="57.4" rx="2.5" ry="1.8" fill="url(#gg)"/>
<ellipse cx="49.5" cy="58.2" rx="1.2" ry="0.9" fill="url(#gg)"/>
<ellipse cx="56.0" cy="58.4" rx="2.8" ry="2.1" fill="url(#gg)"/>
<ellipse cx="185.4" cy="57.1" rx="2.9" ry="2.2" fill="url(#gm)"/>
<ellipse cx="58.8" cy="50.9" rx="2.1" ry="1.6" fill="url(#gd)"/>
<ellipse cx="59.7" cy="59.4" rx="1.7" ry="1.3" fill="url(#gd)"/>
<ellipse cx="182.5" cy="56.6" rx="2.8" ry="2.1" fill="url(#gm)"/>
<ellipse cx="86.9" cy="58.7" rx="1.3" ry="0.9" fill="url(#gd)"/>
<ellipse cx="74.0" cy="50.4" rx="2.3" ry="1.7" fill="url(#gd)"/>
<ellipse cx="69.7" cy="52.7" rx="2.8" ry="2.1" fill="url(#gg)"/>
<ellipse cx="34.0" cy="54.7" rx="3.0" ry="2.2" fill="url(#gg)"/>
<ellipse cx="49.5" cy="51.3" rx="1.8" ry="1.3" fill="url(#gd)"/>
<ellipse cx="66.3" cy="51.8" rx="1.7" ry="1.2" fill="url(#gm)"/>
<ellipse cx="188.5" cy="57.0" rx="2.1" ry="1.6" fill="url(#gm)"/>
<ellipse cx="111.0" cy="57.6" rx="2.1" ry="1.5" fill="url(#gg)"/>
<ellipse cx="62.1" cy="51.0" rx="2.6" ry="1.9" fill="url(#gg)"/>
<ellipse cx="90.7" cy="52.1" rx="1.1" ry="0.8" fill="url(#gm)"/>
<ellipse cx="182.0" cy="58.8" rx="1.2" ry="0.9" fill="url(#gg)"/>
<ellipse cx="129.1" cy="54.5" rx="2.8" ry="2.0" fill="url(#gm)"/>
<ellipse cx="82.2" cy="50.2" rx="2.0" ry="1.5" fill="url(#gg)"/>
<rect x="22.0" y="82.5" width="188.0" height="1.7" fill="#d81c14"/>
<path d="M216.0,20.6 L229.4,20.6 L242.9,20.0 L256.3,20.0 L269.7,20.5 L283.1,20.5 L296.6,20.4 L310.0,20.2 L323.4,20.4 L336.9,20.4 L350.3,20.4 L363.7,20.1 L377.1,20.3 L390.6,20.2 L404.0,20.5 L377.0,30.5 L367.6,30.4 L358.3,30.0 L348.9,29.8 L339.6,29.6 L330.2,29.3 L320.9,29.3 L311.5,29.9 L302.1,29.7 L292.8,29.8 L283.4,30.4 L274.1,29.9 L264.7,30.0 L255.4,29.6 L246.0,29.3 Z" fill="#0c123d"/>
<ellipse cx="289.3" cy="27.4" rx="1.9" ry="1.5" fill="url(#gd)"/>
<ellipse cx="374.8" cy="29.3" rx="1.3" ry="1.0" fill="url(#gd)"/>
<ellipse cx="361.5" cy="29.7" rx="2.3" ry="1.8" fill="url(#gd)"/>
<ellipse cx="363.1" cy="29.6" rx="2.4" ry="1.9" fill="url(#gd)"/>
<ellipse cx="292.9" cy="30.3" rx="2.7" ry="2.1" fill="url(#gd)"/>
<ellipse cx="268.5" cy="29.5" rx="2.3" ry="1.8" fill="url(#gd)"/>
<ellipse cx="306.6" cy="28.8" rx="1.9" ry="1.5" fill="url(#gd)"/>
<ellipse cx="365.5" cy="28.7" rx="2.5" ry="1.9" fill="url(#gd)"/>
<ellipse cx="292.9" cy="30.0" rx="2.6" ry="2.0" fill="url(#gd)"/>
<ellipse cx="306.5" cy="28.9" rx="2.7" ry="2.1" fill="url(#gd)"/>
<ellipse cx="339.9" cy="28.6" rx="1.4" ry="1.1" fill="url(#gd)"/>
<ellipse cx="289.2" cy="29.3" rx="1.3" ry="1.0" fill="url(#gd)"/>
<ellipse cx="363.3" cy="27.8" rx="2.6" ry="2.1" fill="url(#gd)"/>
<ellipse cx="287.3" cy="30.3" rx="2.3" ry="1.8" fill="url(#gd)"/>
<path d="M216.0,82.8 L216.0,78.6 L216.5,78.3 L217.0,77.8 L217.5,77.1 L218.0,76.1 L218.5,74.9 L219.0,73.6 L219.5,72.7 L220.0,72.7 L220.5,73.6 L221.0,75.0 L221.5,76.4 L222.0,77.3 L222.5,77.8 L223.0,78.0 L223.5,78.2 L224.0,78.2 L224.5,78.2 L225.0,78.0 L225.5,77.7 L226.0,77.4 L226.5,77.0 L227.0,76.6 L227.5,76.2 L228.0,75.8 L228.5,75.4 L229.0,75.1 L229.5,74.8 L230.0,74.7 L230.5,74.6 L231.0,74.8 L231.5,75.0 L232.0,75.3 L232.5,75.6 L233.0,75.9 L233.5,76.2 L234.0,76.6 L234.5,76.9 L235.0,77.3 L235.5,77.6 L236.0,78.0 L236.5,78.2 L237.0,78.5 L237.5,78.6 L238.0,78.7 L238.5,78.7 L239.0,78.8 L239.5,78.8 L240.0,78.8 L240.5,78.8 L241.0,78.8 L241.5,78.7 L242.0,78.6 L242.5,78.5 L243.0,78.3 L243.5,77.6 L244.0,76.3 L244.5,74.8 L245.0,73.5 L245.5,72.5 L246.0,72.4 L246.5,73.3 L247.0,75.1 L247.5,76.8 L248.0,77.7 L248.5,78.0 L249.0,77.8 L249.5,77.6 L250.0,77.4 L250.5,77.5 L251.0,77.8 L251.5,78.0 L252.0,78.1 L252.5,78.1 L253.0,77.9 L253.5,77.6 L254.0,77.2 L254.5,76.9 L255.0,76.7 L255.5,76.5 L256.0,76.5 L256.5,76.6 L257.0,76.8 L257.5,77.0 L258.0,77.3 L258.5,77.6 L259.0,77.7 L259.5,77.9 L260.0,77.8 L260.5,77.7 L261.0,77.3 L261.5,76.8 L262.0,76.3 L262.5,75.9 L263.0,75.6 L263.5,75.7 L264.0,76.1 L264.5,76.6 L265.0,77.2 L265.5,77.7 L266.0,78.0 L266.5,78.2 L267.0,78.2 L267.5,78.0 L268.0,77.8 L268.5,77.5 L269.0,77.1 L269.5,76.8 L270.0,76.4 L270.5,76.0 L271.0,75.6 L271.5,75.2 L272.0,74.9 L272.5,74.7 L273.0,74.6 L273.5,74.6 L274.0,74.6 L274.5,74.4 L275.0,74.2 L275.5,74.5 L276.0,75.5 L276.5,76.7 L277.0,77.7 L277.5,78.2 L278.0,78.2 L278.5,77.6 L279.0,76.8 L279.5,76.6 L280.0,77.2 L280.5,78.0 L281.0,78.6 L281.5,78.8 L282.0,78.8 L282.5,78.8 L283.0,78.8 L283.5,78.8 L284.0,78.8 L284.5,78.8 L285.0,78.8 L285.5,78.8 L286.0,78.8 L286.5,78.6 L287.0,77.9 L287.5,76.4 L288.0,74.4 L288.5,73.4 L289.0,74.2 L289.5,76.0 L290.0,77.4 L290.5,78.0 L291.0,78.2 L291.5,78.3 L292.0,78.4 L292.5,78.3 L293.0,78.1 L293.5,77.6 L294.0,76.7 L294.5,75.5 L295.0,75.1 L295.5,76.0 L296.0,77.3 L296.5,78.1 L297.0,78.5 L297.5,78.7 L298.0,78.7 L298.5,78.8 L299.0,78.8 L299.5,78.8 L300.0,78.8 L300.5,78.8 L301.0,78.8 L301.5,78.8 L302.0,78.7 L302.5,78.6 L303.0,78.2 L303.5,77.5 L304.0,76.5 L304.5,75.7 L305.0,75.5 L305.5,76.0 L306.0,76.8 L306.5,77.5 L307.0,77.7 L307.5,77.5 L308.0,76.7 L308.5,75.5 L309.0,73.9 L309.5,72.0 L310.0,71.8 L310.5,71.8 L311.0,71.8 L311.5,71.8 L312.0,71.8 L312.5,71.8 L313.0,71.8 L313.5,71.8 L314.0,71.8 L314.5,71.8 L315.0,71.8 L315.5,73.4 L316.0,75.0 L316.5,76.2 L317.0,77.2 L317.5,77.8 L318.0,78.2 L318.5,78.5 L319.0,78.6 L319.5,78.7 L320.0,78.8 L320.5,78.8 L321.0,78.8 L321.5,78.8 L322.0,78.8 L322.5,78.8 L323.0,78.8 L323.5,78.8 L324.0,78.7 L324.5,78.6 L325.0,78.4 L325.5,78.1 L326.0,77.9 L326.5,77.8 L327.0,77.8 L327.5,78.0 L328.0,78.3 L328.5,78.4 L329.0,78.5 L329.5,78.5 L330.0,78.4 L330.5,78.3 L331.0,78.3 L331.5,78.2 L332.0,78.2 L332.5,78.3 L333.0,78.4 L333.5,78.4 L334.0,78.4 L334.5,78.2 L335.0,77.5 L335.5,76.4 L336.0,75.1 L336.5,74.3 L337.0,74.5 L337.5,75.6 L338.0,77.0 L338.5,78.0 L339.0,78.5 L339.5,78.7 L340.0,78.8 L340.5,78.8 L341.0,78.8 L341.5,78.8 L342.0,78.8 L342.5,78.8 L343.0,78.8 L343.5,78.8 L344.0,78.8 L344.5,78.8 L345.0,78.8 L345.5,78.8 L346.0,78.8 L346.5,78.8 L347.0,78.8 L347.5,78.8 L348.0,78.8 L348.5,78.8 L349.0,78.7 L349.5,78.4 L350.0,77.7 L350.5,77.0 L351.0,76.8 L351.5,77.2 L352.0,77.8 L352.5,78.2 L353.0,78.3 L353.5,78.4 L354.0,78.3 L354.5,78.1 L355.0,77.7 L355.5,77.2 L356.0,76.5 L356.5,75.6 L357.0,74.7 L357.5,73.8 L358.0,72.9 L358.5,72.2 L359.0,71.8 L359.5,71.8 L360.0,72.2 L360.5,72.9 L361.0,73.9 L361.5,74.9 L362.0,76.0 L362.5,76.8 L363.0,77.5 L363.5,77.8 L364.0,78.0 L364.5,77.9 L365.0,77.8 L365.5,77.7 L366.0,77.5 L366.5,77.5 L367.0,77.6 L367.5,77.7 L368.0,78.0 L368.5,78.2 L369.0,78.4 L369.5,78.5 L370.0,78.7 L370.5,78.7 L371.0,78.8 L371.5,78.8 L372.0,78.8 L372.5,78.8 L373.0,78.8 L373.5,78.8 L374.0,78.8 L374.5,78.8 L375.0,78.8 L375.5,78.8 L376.0,78.8 L376.5,78.8 L377.0,78.8 L377.5,78.8 L378.0,78.7 L378.5,78.5 L379.0,78.0 L379.5,77.2 L380.0,76.2 L380.5,75.9 L381.0,76.4 L381.5,77.3 L382.0,78.2 L382.5,78.6 L383.0,78.7 L383.5,78.8 L384.0,78.7 L384.5,78.5 L385.0,77.9 L385.5,76.9 L386.0,75.8 L386.5,75.1 L387.0,75.3 L387.5,76.3 L388.0,77.4 L388.5,78.2 L389.0,78.6 L389.5,78.7 L390.0,78.8 L390.5,78.8 L391.0,78.8 L391.5,78.8 L392.0,78.8 L392.5,78.7 L393.0,78.6 L393.5,78.3 L394.0,77.6 L394.5,75.9 L395.0,73.5 L395.5,71.8 L396.0,71.8 L396.5,72.4 L397.0,73.6 L397.5,74.8 L398.0,75.9 L398.5,76.8 L399.0,77.5 L399.5,77.9 L400.0,78.2 L400.5,78.4 L401.0,78.3 L401.5,77.9 L402.0,77.3 L402.5,76.8 L403.0,76.6 L403.5,76.8 L404.0,77.4 L404.0,82.8 Z" fill="url(#gfloor)"/>
<line x1="307.5" y1="59.7" x2="307.5" y2="79.8" stroke="#dcae90" stroke-width="0.5"/>
<line x1="326.0" y1="58.6" x2="326.0" y2="79.8" stroke="#dcae90" stroke-width="0.5"/>
<line x1="271.2" y1="61.0" x2="271.2" y2="79.8" stroke="#dcae90" stroke-width="0.5"/>
<line x1="388.3" y1="58.6" x2="388.3" y2="79.8" stroke="#dcae90" stroke-width="0.5"/>
<line x1="355.9" y1="59.5" x2="355.9" y2="79.8" stroke="#dcae90" stroke-width="0.5"/>
<path d="M362.5,82.8 C362.5,77.9 363.0,74.2 363.1,71.7 C363.2,68.1 364.3,63.3 364.3,59.9 L366.5,59.9 C366.5,63.3 367.5,68.1 367.6,71.7 C367.7,74.2 368.2,77.9 368.2,82.8 Z" fill="url(#gp)"/>
<ellipse cx="365.4" cy="58.2" rx="3.4" ry="3.2" fill="url(#gc)"/>
<path d="M323.4,82.8 C323.4,78.0 323.7,74.4 323.8,72.0 C323.9,68.4 324.7,63.0 324.7,60.1 L326.7,60.1 C326.7,63.0 327.5,68.4 327.6,72.0 C327.7,74.4 328.0,78.0 328.0,82.8 Z" fill="url(#gp)"/>
<ellipse cx="325.7" cy="58.7" rx="2.8" ry="2.7" fill="url(#gc)"/>
<path d="M327.1,82.8 C327.1,78.4 327.7,75.1 327.8,72.9 C327.9,69.7 329.1,65.6 329.1,62.5 L331.8,62.5 C331.8,65.6 332.9,69.7 333.1,72.9 C333.2,75.1 333.7,78.4 333.7,82.8 Z" fill="url(#gp)"/>
<ellipse cx="330.4" cy="60.9" rx="3.1" ry="3.0" fill="url(#gc)"/>
<path d="M262.3,82.8 C262.3,78.7 262.8,75.6 262.9,73.5 C263.0,70.4 263.8,66.1 263.8,63.4 L266.5,63.4 C266.5,66.1 267.3,70.4 267.5,73.5 C267.6,75.6 268.0,78.7 268.0,82.8 Z" fill="url(#gp)"/>
<ellipse cx="265.2" cy="62.1" rx="2.7" ry="2.5" fill="url(#gc)"/>
<path d="M332.4,82.8 C332.4,79.5 332.8,77.0 332.9,75.3 C333.0,72.8 333.7,69.6 333.7,67.3 L336.2,67.3 C336.2,69.6 336.9,72.8 337.0,75.3 C337.1,77.0 337.5,79.5 337.5,82.8 Z" fill="url(#gp)"/>
<ellipse cx="334.9" cy="66.1" rx="2.3" ry="2.2" fill="url(#gc)"/>
<path d="M366.1,82.8 C366.1,79.5 366.5,77.0 366.6,75.3 C366.7,72.8 367.1,69.9 367.1,67.4 L369.8,67.4 C369.8,69.9 370.3,72.8 370.4,75.3 C370.4,77.0 370.8,79.5 370.8,82.8 Z" fill="url(#gp)"/>
<ellipse cx="368.5" cy="66.2" rx="2.5" ry="2.4" fill="url(#gc)"/>
<path d="M291.4,82.8 C291.4,79.6 291.9,77.2 292.1,75.6 C292.2,73.2 293.2,70.8 293.2,68.1 L296.0,68.1 C296.0,70.8 297.0,73.2 297.2,75.6 C297.3,77.2 297.8,79.6 297.8,82.8 Z" fill="url(#gp)"/>
<ellipse cx="294.6" cy="66.7" rx="2.7" ry="2.6" fill="url(#gc)"/>
<path d="M236.9,82.8 C236.9,79.6 237.4,77.2 237.6,75.6 C237.7,73.2 238.6,71.7 238.6,68.5 L241.4,68.5 C241.4,71.7 242.4,73.2 242.5,75.6 C242.6,77.2 243.1,79.6 243.1,82.8 Z" fill="url(#gp)"/>
<ellipse cx="240.0" cy="66.9" rx="3.3" ry="3.1" fill="url(#gc)"/>
<path d="M354.9,82.8 C354.9,79.6 355.3,77.3 355.4,75.7 C355.5,73.3 356.2,71.1 356.2,68.4 L358.4,68.4 C358.4,71.1 359.2,73.3 359.3,75.7 C359.4,77.3 359.7,79.6 359.7,82.8 Z" fill="url(#gp)"/>
<ellipse cx="357.3" cy="67.0" rx="2.7" ry="2.6" fill="url(#gc)"/>
<path d="M378.3,82.8 C378.3,79.7 378.8,77.3 378.9,75.7 C379.0,73.4 380.0,70.6 380.0,68.2 L382.3,68.2 C382.3,70.6 383.3,73.4 383.4,75.7 C383.5,77.3 384.0,79.7 384.0,82.8 Z" fill="url(#gp)"/>
<ellipse cx="381.2" cy="67.1" rx="2.3" ry="2.2" fill="url(#gc)"/>
<path d="M311.5,82.8 C311.5,79.7 312.0,77.3 312.1,75.8 C312.2,73.4 313.0,71.3 313.0,68.6 L315.9,68.6 C315.9,71.3 316.7,73.4 316.8,75.8 C316.9,77.3 317.4,79.7 317.4,82.8 Z" fill="url(#gp)"/>
<ellipse cx="314.4" cy="67.2" rx="2.7" ry="2.6" fill="url(#gc)"/>
<path d="M287.7,82.8 C287.7,79.7 288.1,77.4 288.2,75.8 C288.4,73.5 289.4,71.5 289.4,68.7 L291.8,68.7 C291.8,71.5 292.8,73.5 292.9,75.8 C293.0,77.4 293.5,79.7 293.5,82.8 Z" fill="url(#gp)"/>
<ellipse cx="290.6" cy="67.3" rx="2.8" ry="2.6" fill="url(#gc)"/>
<path d="M398.7,82.8 C398.7,79.8 399.3,77.5 399.4,76.0 C399.5,73.7 400.9,72.1 400.9,69.1 L403.2,69.1 C403.2,72.1 404.6,73.7 404.8,76.0 C404.9,77.5 405.4,79.8 405.4,82.8 Z" fill="url(#gp)"/>
<ellipse cx="402.1" cy="67.6" rx="3.0" ry="2.9" fill="url(#gc)"/>
<path d="M377.8,82.8 C377.8,79.8 378.2,77.6 378.4,76.1 C378.5,73.9 379.4,72.9 379.4,69.6 L381.9,69.6 C381.9,72.9 382.8,73.9 382.9,76.1 C383.0,77.6 383.5,79.8 383.5,82.8 Z" fill="url(#gp)"/>
<ellipse cx="380.6" cy="67.9" rx="3.3" ry="3.1" fill="url(#gc)"/>
<path d="M372.8,82.8 C372.8,79.9 373.2,77.8 373.3,76.3 C373.4,74.2 373.7,72.4 373.7,69.7 L376.5,69.7 C376.5,72.4 376.9,74.2 377.0,76.3 C377.1,77.8 377.5,79.9 377.5,82.8 Z" fill="url(#gp)"/>
<ellipse cx="375.1" cy="68.4" rx="2.6" ry="2.5" fill="url(#gc)"/>
<path d="M238.2,82.8 C238.2,80.1 238.7,78.0 238.8,76.7 C239.0,74.6 239.9,73.7 239.9,70.7 L242.7,70.7 C242.7,73.7 243.6,74.6 243.7,76.7 C243.8,78.0 244.3,80.1 244.3,82.8 Z" fill="url(#gp)"/>
<ellipse cx="241.3" cy="69.2" rx="3.0" ry="2.9" fill="url(#gc)"/>
<path d="M369.4,82.8 C369.4,80.1 369.9,78.0 370.0,76.7 C370.1,74.6 370.7,72.8 370.7,70.4 L373.6,70.4 C373.6,72.8 374.2,74.6 374.4,76.7 C374.5,78.0 374.9,80.1 374.9,82.8 Z" fill="url(#gp)"/>
<ellipse cx="372.2" cy="69.2" rx="2.4" ry="2.3" fill="url(#gc)"/>
<path d="M232.2,82.8 C232.2,80.2 232.7,78.3 232.8,77.0 C232.9,75.0 234.1,74.2 234.1,71.3 L236.4,71.3 C236.4,74.2 237.6,75.0 237.7,77.0 C237.8,78.3 238.3,80.2 238.3,82.8 Z" fill="url(#gp)"/>
<ellipse cx="235.3" cy="69.8" rx="2.9" ry="2.7" fill="url(#gc)"/>
<path d="M306.3,82.8 C306.3,80.2 306.8,78.3 307.0,77.0 C307.1,75.0 308.2,74.3 308.2,71.4 L311.0,71.4 C311.0,74.3 312.1,75.0 312.3,77.0 C312.4,78.3 312.9,80.2 312.9,82.8 Z" fill="url(#gp)"/>
<ellipse cx="309.6" cy="69.9" rx="3.0" ry="2.8" fill="url(#gc)"/>
<path d="M320.6,82.8 C320.6,80.3 321.0,78.4 321.1,77.1 C321.2,75.3 322.1,74.4 322.1,71.6 L324.4,71.6 C324.4,74.4 325.2,75.3 325.3,77.1 C325.5,78.4 325.9,80.3 325.9,82.8 Z" fill="url(#gp)"/>
<ellipse cx="323.2" cy="70.2" rx="2.8" ry="2.7" fill="url(#gc)"/>
<path d="M329.9,82.8 C329.9,80.3 330.3,78.4 330.4,77.2 C330.5,75.3 331.3,75.4 331.3,72.0 L333.6,72.0 C333.6,75.4 334.4,75.3 334.5,77.2 C334.6,78.4 335.0,80.3 335.0,82.8 Z" fill="url(#gp)"/>
<ellipse cx="332.4" cy="70.3" rx="3.4" ry="3.2" fill="url(#gc)"/>
<path d="M263.1,82.8 C263.1,80.4 263.5,78.5 263.6,77.3 C263.7,75.5 264.1,74.7 264.1,72.0 L266.9,72.0 C266.9,74.7 267.3,75.5 267.4,77.3 C267.5,78.5 267.9,80.4 267.9,82.8 Z" fill="url(#gp)"/>
<ellipse cx="265.5" cy="70.6" rx="2.7" ry="2.6" fill="url(#gc)"/>
<path d="M340.8,82.8 C340.8,80.4 341.2,78.6 341.3,77.4 C341.4,75.6 342.3,74.3 342.3,71.9 L344.7,71.9 C344.7,74.3 345.6,75.6 345.7,77.4 C345.8,78.6 346.2,80.4 346.2,82.8 Z" fill="url(#gp)"/>
<ellipse cx="343.5" cy="70.7" rx="2.4" ry="2.3" fill="url(#gc)"/>
<path d="M241.5,82.8 C241.5,80.4 241.9,78.6 242.0,77.4 C242.1,75.6 243.2,74.9 243.2,72.2 L245.4,72.2 C245.4,74.9 246.4,75.6 246.5,77.4 C246.7,78.6 247.1,80.4 247.1,82.8 Z" fill="url(#gp)"/>
<ellipse cx="244.3" cy="70.8" rx="2.8" ry="2.6" fill="url(#gc)"/>
<path d="M309.3,82.8 C309.3,80.5 309.7,78.7 309.8,77.6 C309.9,75.8 310.4,76.2 310.4,72.9 L313.3,72.9 C313.3,76.2 313.9,75.8 314.0,77.6 C314.1,78.7 314.5,80.5 314.5,82.8 Z" fill="url(#gp)"/>
<ellipse cx="311.9" cy="71.2" rx="3.3" ry="3.1" fill="url(#gc)"/>
<path d="M257.5,82.8 C257.5,80.5 258.0,78.8 258.1,77.6 C258.2,75.9 259.0,76.3 259.0,72.9 L261.7,72.9 C261.7,76.3 262.5,75.9 262.6,77.6 C262.7,78.8 263.2,80.5 263.2,82.8 Z" fill="url(#gp)"/>
<ellipse cx="260.4" cy="71.3" rx="3.3" ry="3.2" fill="url(#gc)"/>
<path d="M264.6,82.8 C264.6,80.6 265.0,78.9 265.1,77.8 C265.2,76.1 266.2,75.5 266.2,73.0 L268.3,73.0 C268.3,75.5 269.3,76.1 269.4,77.8 C269.5,78.9 269.9,80.6 269.9,82.8 Z" fill="url(#gp)"/>
<ellipse cx="267.3" cy="71.7" rx="2.6" ry="2.4" fill="url(#gc)"/>
<path d="M359.8,82.8 C359.8,80.7 360.2,79.1 360.3,78.0 C360.4,76.4 361.0,76.3 361.0,73.5 L363.7,73.5 C363.7,76.3 364.2,76.4 364.3,78.0 C364.4,79.1 364.8,80.7 364.8,82.8 Z" fill="url(#gp)"/>
<ellipse cx="362.3" cy="72.2" rx="2.7" ry="2.6" fill="url(#gc)"/>
<path d="M220.2,82.8 C220.2,80.7 220.7,79.2 220.8,78.1 C220.9,76.6 221.5,76.3 221.5,73.7 L224.3,73.7 C224.3,76.3 225.0,76.6 225.1,78.1 C225.2,79.2 225.6,80.7 225.6,82.8 Z" fill="url(#gp)"/>
<ellipse cx="222.9" cy="72.4" rx="2.6" ry="2.4" fill="url(#gc)"/>
<path d="M371.5,82.8 C371.5,80.8 372.0,79.3 372.2,78.4 C372.3,76.9 373.4,77.0 373.4,74.3 L376.1,74.3 C376.1,77.0 377.2,76.9 377.4,78.4 C377.5,79.3 378.0,80.8 378.0,82.8 Z" fill="url(#gp)"/>
<ellipse cx="374.8" cy="72.9" rx="2.7" ry="2.6" fill="url(#gc)"/>
<path d="M397.1,82.8 C397.1,80.8 397.6,79.4 397.8,78.4 C397.9,76.9 399.2,77.9 399.2,74.6 L401.6,74.6 C401.6,77.9 402.9,76.9 403.0,78.4 C403.2,79.4 403.7,80.8 403.7,82.8 Z" fill="url(#gp)"/>
<ellipse cx="400.4" cy="73.0" rx="3.3" ry="3.1" fill="url(#gc)"/>
<path d="M377.5,82.8 C377.5,80.8 378.0,79.4 378.2,78.4 C378.3,76.9 379.6,77.6 379.6,74.6 L382.1,74.6 C382.1,77.6 383.5,76.9 383.6,78.4 C383.8,79.4 384.3,80.8 384.3,82.8 Z" fill="url(#gp)"/>
<ellipse cx="380.9" cy="73.0" rx="3.1" ry="2.9" fill="url(#gc)"/>
<path d="M218.6,82.8 C218.6,80.9 219.2,79.4 219.3,78.4 C219.5,77.0 220.7,77.8 220.7,74.7 L223.4,74.7 C223.4,77.8 224.7,77.0 224.8,78.4 C224.9,79.4 225.5,80.9 225.5,82.8 Z" fill="url(#gp)"/>
<ellipse cx="222.1" cy="73.1" rx="3.1" ry="3.0" fill="url(#gc)"/>
<path d="M257.0,82.8 C257.0,80.9 257.6,79.5 257.7,78.5 C257.8,77.1 258.9,77.9 258.9,74.8 L261.8,74.8 C261.8,77.9 262.9,77.1 263.0,78.5 C263.2,79.5 263.7,80.9 263.7,82.8 Z" fill="url(#gp)"/>
<ellipse cx="260.4" cy="73.2" rx="3.1" ry="3.0" fill="url(#gc)"/>
<path d="M391.6,82.8 C391.6,80.9 392.1,79.5 392.3,78.6 C392.4,77.2 393.9,78.0 393.9,75.0 L396.2,75.0 C396.2,78.0 397.7,77.2 397.8,78.6 C398.0,79.5 398.5,80.9 398.5,82.8 Z" fill="url(#gp)"/>
<ellipse cx="395.0" cy="73.5" rx="3.0" ry="2.8" fill="url(#gc)"/>
<path d="M299.7,82.8 C299.7,81.0 300.2,79.6 300.3,78.7 C300.4,77.3 301.6,77.7 301.6,75.0 L304.0,75.0 C304.0,77.7 305.1,77.3 305.2,78.7 C305.4,79.6 305.9,81.0 305.9,82.8 Z" fill="url(#gp)"/>
<ellipse cx="302.8" cy="73.6" rx="2.7" ry="2.6" fill="url(#gc)"/>
<path d="M388.3,82.8 C388.3,81.0 388.7,79.6 388.8,78.7 C388.9,77.3 389.3,77.7 389.3,75.0 L392.3,75.0 C392.3,77.7 392.7,77.3 392.8,78.7 C392.9,79.6 393.3,81.0 393.3,82.8 Z" fill="url(#gp)"/>
<ellipse cx="390.8" cy="73.6" rx="2.7" ry="2.6" fill="url(#gc)"/>
<path d="M289.6,82.8 C289.6,81.0 290.0,79.6 290.1,78.7 C290.2,77.3 291.0,77.4 291.0,74.9 L293.9,74.9 C293.9,77.4 294.6,77.3 294.7,78.7 C294.8,79.6 295.3,81.0 295.3,82.8 Z" fill="url(#gp)"/>
<ellipse cx="292.4" cy="73.7" rx="2.5" ry="2.4" fill="url(#gc)"/>
<path d="M300.0,82.8 C300.0,81.0 300.5,79.6 300.7,78.7 C300.8,77.3 302.4,77.2 302.4,74.9 L304.5,74.9 C304.5,77.2 306.1,77.3 306.2,78.7 C306.3,79.6 306.9,81.0 306.9,82.8 Z" fill="url(#gp)"/>
<ellipse cx="303.4" cy="73.7" rx="2.3" ry="2.2" fill="url(#gc)"/>
<path d="M310.4,82.8 C310.4,81.0 310.8,79.6 310.9,78.7 C311.0,77.4 311.9,78.7 311.9,75.4 L314.2,75.4 C314.2,78.7 315.1,77.4 315.2,78.7 C315.3,79.6 315.7,81.0 315.7,82.8 Z" fill="url(#gp)"/>
<ellipse cx="313.1" cy="73.7" rx="3.3" ry="3.1" fill="url(#gc)"/>
<path d="M357.9,82.8 C357.9,81.0 358.5,79.7 358.6,78.8 C358.7,77.4 359.9,78.0 359.9,75.2 L362.7,75.2 C362.7,78.0 363.8,77.4 364.0,78.8 C364.1,79.7 364.6,81.0 364.6,82.8 Z" fill="url(#gp)"/>
<ellipse cx="361.3" cy="73.8" rx="2.8" ry="2.6" fill="url(#gc)"/>
<path d="M389.1,82.8 C389.1,81.0 389.5,79.7 389.7,78.8 C389.8,77.4 390.9,78.7 390.9,75.5 L393.1,75.5 C393.1,78.7 394.2,77.4 394.3,78.8 C394.5,79.7 394.9,81.0 394.9,82.8 Z" fill="url(#gp)"/>
<ellipse cx="392.0" cy="73.9" rx="3.2" ry="3.1" fill="url(#gc)"/>
<path d="M251.7,82.8 C251.7,81.0 252.1,79.7 252.2,78.9 C252.3,77.5 253.3,78.5 253.3,75.5 L255.6,75.5 C255.6,78.5 256.5,77.5 256.6,78.9 C256.7,79.7 257.2,81.0 257.2,82.8 Z" fill="url(#gp)"/>
<ellipse cx="254.4" cy="74.0" rx="3.0" ry="2.9" fill="url(#gc)"/>
<path d="M276.2,82.8 C276.2,81.1 276.6,79.7 276.7,78.9 C276.8,77.6 277.5,79.0 277.5,75.7 L279.8,75.7 C279.8,79.0 280.5,77.6 280.6,78.9 C280.7,79.7 281.1,81.1 281.1,82.8 Z" fill="url(#gp)"/>
<ellipse cx="278.7" cy="74.1" rx="3.3" ry="3.2" fill="url(#gc)"/>
<path d="M300.8,82.8 C300.8,81.1 301.2,79.8 301.3,78.9 C301.4,77.6 302.1,77.9 302.1,75.4 L304.3,75.4 C304.3,77.9 305.0,77.6 305.1,78.9 C305.2,79.8 305.6,81.1 305.6,82.8 Z" fill="url(#gp)"/>
<ellipse cx="303.2" cy="74.1" rx="2.5" ry="2.4" fill="url(#gc)"/>
<path d="M336.8,82.8 C336.8,81.1 337.2,79.8 337.3,78.9 C337.4,77.7 338.1,78.1 338.1,75.5 L340.5,75.5 C340.5,78.1 341.3,77.7 341.4,78.9 C341.5,79.8 341.9,81.1 341.9,82.8 Z" fill="url(#gp)"/>
<ellipse cx="339.3" cy="74.2" rx="2.6" ry="2.4" fill="url(#gc)"/>
<path d="M365.7,82.8 C365.7,81.1 366.1,79.8 366.2,79.0 C366.4,77.7 367.3,78.1 367.3,75.6 L369.5,75.6 C369.5,78.1 370.4,77.7 370.5,79.0 C370.6,79.8 371.1,81.1 371.1,82.8 Z" fill="url(#gp)"/>
<ellipse cx="368.4" cy="74.3" rx="2.6" ry="2.4" fill="url(#gc)"/>
<path d="M299.0,82.8 C299.0,81.2 299.5,79.9 299.6,79.1 C299.8,77.9 300.9,78.7 300.9,76.0 L303.2,76.0 C303.2,78.7 304.3,77.9 304.5,79.1 C304.6,79.9 305.1,81.2 305.1,82.8 Z" fill="url(#gp)"/>
<ellipse cx="302.1" cy="74.6" rx="2.7" ry="2.6" fill="url(#gc)"/>
<path d="M322.7,82.8 C322.7,81.2 323.2,80.0 323.3,79.2 C323.5,78.0 324.9,78.5 324.9,76.1 L326.9,76.1 C326.9,78.5 328.3,78.0 328.5,79.2 C328.6,80.0 329.1,81.2 329.1,82.8 Z" fill="url(#gp)"/>
<ellipse cx="325.9" cy="74.8" rx="2.5" ry="2.3" fill="url(#gc)"/>
<path d="M261.8,82.8 C261.8,81.4 262.3,80.3 262.4,79.6 C262.6,78.5 263.9,80.4 263.9,77.2 L266.3,77.2 C266.3,80.4 267.6,78.5 267.7,79.6 C267.9,80.3 268.4,81.4 268.4,82.8 Z" fill="url(#gp)"/>
<ellipse cx="265.1" cy="75.7" rx="3.2" ry="3.0" fill="url(#gc)"/>
<path d="M231.0,82.8 C231.0,81.4 231.4,80.3 231.5,79.6 C231.6,78.5 232.2,80.5 232.2,77.3 L234.7,77.3 C234.7,80.5 235.3,78.5 235.4,79.6 C235.5,80.3 235.9,81.4 235.9,82.8 Z" fill="url(#gp)"/>
<ellipse cx="233.4" cy="75.7" rx="3.2" ry="3.1" fill="url(#gc)"/>
<path d="M327.0,82.8 C327.0,81.4 327.4,80.3 327.6,79.6 C327.7,78.6 328.3,80.2 328.3,77.3 L331.1,77.3 C331.1,80.2 331.7,78.6 331.8,79.6 C331.9,80.3 332.4,81.4 332.4,82.8 Z" fill="url(#gp)"/>
<ellipse cx="329.7" cy="75.8" rx="3.0" ry="2.8" fill="url(#gc)"/>
<path d="M340.4,82.8 C340.4,81.4 340.8,80.4 340.9,79.7 C341.1,78.7 341.6,80.0 341.6,77.3 L344.6,77.3 C344.6,80.0 345.2,78.7 345.3,79.7 C345.4,80.4 345.9,81.4 345.9,82.8 Z" fill="url(#gp)"/>
<ellipse cx="343.1" cy="75.9" rx="2.7" ry="2.6" fill="url(#gc)"/>
<path d="M363.5,82.8 C363.5,81.5 363.9,80.4 364.0,79.8 C364.1,78.8 365.0,80.0 365.0,77.4 L367.6,77.4 C367.6,80.0 368.5,78.8 368.6,79.8 C368.7,80.4 369.1,81.5 369.1,82.8 Z" fill="url(#gp)"/>
<ellipse cx="366.3" cy="76.1" rx="2.6" ry="2.5" fill="url(#gc)"/>
<path d="M314.3,82.8 C314.3,81.5 314.8,80.5 314.9,79.9 C315.1,78.9 316.3,80.7 316.3,77.7 L318.9,77.7 C318.9,80.7 320.1,78.9 320.2,79.9 C320.3,80.5 320.9,81.5 320.9,82.8 Z" fill="url(#gp)"/>
<ellipse cx="317.6" cy="76.3" rx="2.9" ry="2.8" fill="url(#gc)"/>
<path d="M302.9,82.8 C302.9,81.5 303.4,80.5 303.5,79.9 C303.6,78.9 304.4,81.4 304.4,78.0 L307.3,78.0 C307.3,81.4 308.1,78.9 308.2,79.9 C308.3,80.5 308.8,81.5 308.8,82.8 Z" fill="url(#gp)"/>
<ellipse cx="305.8" cy="76.3" rx="3.4" ry="3.2" fill="url(#gc)"/>
<path d="M301.6,82.8 C301.6,81.5 302.1,80.6 302.3,79.9 C302.4,79.0 303.7,80.5 303.7,77.8 L306.1,77.8 C306.1,80.5 307.4,79.0 307.6,79.9 C307.7,80.6 308.2,81.5 308.2,82.8 Z" fill="url(#gp)"/>
<ellipse cx="304.9" cy="76.4" rx="2.8" ry="2.6" fill="url(#gc)"/>
<path d="M338.0,82.8 C338.0,81.6 338.4,80.6 338.6,80.0 C338.7,79.1 339.9,80.2 339.9,77.8 L341.9,77.8 C341.9,80.2 343.1,79.1 343.2,80.0 C343.3,80.6 343.8,81.6 343.8,82.8 Z" fill="url(#gp)"/>
<ellipse cx="340.9" cy="76.6" rx="2.4" ry="2.3" fill="url(#gc)"/>
<path d="M288.8,82.8 C288.8,81.6 289.3,80.7 289.5,80.1 C289.6,79.2 291.2,81.7 291.2,78.4 L293.3,78.4 C293.3,81.7 294.9,79.2 295.1,80.1 C295.2,80.7 295.8,81.6 295.8,82.8 Z" fill="url(#gp)"/>
<ellipse cx="292.3" cy="76.7" rx="3.3" ry="3.2" fill="url(#gc)"/>
<ellipse cx="343.4" cy="81.4" rx="0.9" ry="0.6" fill="#d9a98e" opacity="0.55"/>
<ellipse cx="264.0" cy="80.1" rx="1.1" ry="0.4" fill="#8e97a6" opacity="0.55"/>
<ellipse cx="341.6" cy="77.3" rx="2.2" ry="0.8" fill="#d9a98e" opacity="0.55"/>
<ellipse cx="376.6" cy="79.2" rx="0.9" ry="0.5" fill="#d9a98e" opacity="0.55"/>
<ellipse cx="242.8" cy="79.3" rx="0.9" ry="0.5" fill="#d9a98e" opacity="0.55"/>
<ellipse cx="369.9" cy="79.4" rx="1.8" ry="0.9" fill="#e0bda8" opacity="0.55"/>
<ellipse cx="286.1" cy="76.8" rx="1.6" ry="0.5" fill="#8e97a6" opacity="0.55"/>
<ellipse cx="256.4" cy="77.1" rx="1.1" ry="0.6" fill="#8e97a6" opacity="0.55"/>
<ellipse cx="385.2" cy="80.4" rx="1.5" ry="1.0" fill="#e0bda8" opacity="0.55"/>
<ellipse cx="312.0" cy="81.0" rx="1.0" ry="1.0" fill="#e0bda8" opacity="0.55"/>
<ellipse cx="287.2" cy="78.3" rx="1.4" ry="0.7" fill="#8e97a6" opacity="0.55"/>
<ellipse cx="275.3" cy="78.3" rx="0.9" ry="0.5" fill="#c98f77" opacity="0.55"/>
<ellipse cx="269.9" cy="80.6" rx="2.2" ry="0.5" fill="#e0bda8" opacity="0.55"/>
<ellipse cx="347.0" cy="80.1" rx="0.8" ry="0.7" fill="#e0bda8" opacity="0.55"/>
<ellipse cx="256.5" cy="78.8" rx="0.9" ry="0.5" fill="#d9a98e" opacity="0.55"/>
<ellipse cx="355.0" cy="80.3" rx="1.5" ry="0.4" fill="#e0bda8" opacity="0.55"/>
<ellipse cx="372.4" cy="79.8" rx="0.9" ry="0.5" fill="#d9a98e" opacity="0.55"/>
<ellipse cx="243.1" cy="80.3" rx="2.1" ry="0.9" fill="#d9a98e" opacity="0.55"/>
<ellipse cx="398.9" cy="81.3" rx="1.4" ry="0.6" fill="#e0bda8" opacity="0.55"/>
<ellipse cx="246.3" cy="78.4" rx="1.9" ry="0.9" fill="#d9a98e" opacity="0.55"/>
<ellipse cx="293.8" cy="78.9" rx="1.8" ry="0.7" fill="#d9a98e" opacity="0.55"/>
<ellipse cx="335.4" cy="80.5" rx="2.1" ry="0.4" fill="#8e97a6" opacity="0.55"/>
<ellipse cx="279.0" cy="79.5" rx="1.3" ry="0.7" fill="#e0bda8" opacity="0.55"/>
<ellipse cx="296.9" cy="77.4" rx="1.0" ry="0.9" fill="#8e97a6" opacity="0.55"/>
<ellipse cx="397.5" cy="78.7" rx="1.7" ry="0.8" fill="#8e97a6" opacity="0.55"/>
<ellipse cx="299.8" cy="80.6" rx="2.0" ry="0.6" fill="#d9a98e" opacity="0.55"/>
<ellipse cx="248.7" cy="79.8" rx="2.0" ry="0.5" fill="#e0bda8" opacity="0.55"/>
<ellipse cx="343.9" cy="78.3" rx="1.1" ry="0.9" fill="#c98f77" opacity="0.55"/>
<ellipse cx="235.2" cy="80.7" rx="0.8" ry="1.0" fill="#d9a98e" opacity="0.55"/>
<ellipse cx="276.3" cy="78.1" rx="1.8" ry="0.6" fill="#8e97a6" opacity="0.55"/>
<ellipse cx="230.4" cy="79.2" rx="1.8" ry="0.6" fill="#e0bda8" opacity="0.55"/>
<ellipse cx="256.5" cy="77.6" rx="1.9" ry="0.8" fill="#8e97a6" opacity="0.55"/>
<ellipse cx="387.1" cy="80.0" rx="1.5" ry="0.9" fill="#e0bda8" opacity="0.55"/>
<ellipse cx="245.1" cy="78.3" rx="2.2" ry="1.0" fill="#e0bda8" opacity="0.55"/>
<ellipse cx="332.0" cy="81.4" rx="1.3" ry="0.8" fill="#8e97a6" opacity="0.55"/>
<ellipse cx="314.5" cy="78.0" rx="1.1" ry="0.4" fill="#e0bda8" opacity="0.55"/>
<ellipse cx="242.7" cy="79.9" rx="1.3" ry="0.7" fill="#8e97a6" opacity="0.55"/>
<ellipse cx="305.4" cy="40.8" rx="2.3" ry="1.7" fill="url(#gd)"/>
<ellipse cx="315.9" cy="36.6" rx="3.1" ry="2.3" fill="url(#gd)"/>
<ellipse cx="341.8" cy="54.6" rx="1.6" ry="1.2" fill="url(#gd)"/>
<ellipse cx="312.7" cy="41.0" rx="1.7" ry="1.3" fill="url(#gd)"/>
<ellipse cx="361.4" cy="44.0" rx="2.7" ry="2.0" fill="url(#gd)"/>
<ellipse cx="259.2" cy="49.4" rx="1.5" ry="1.1" fill="url(#gd)"/>
<ellipse cx="244.8" cy="34.2" rx="2.1" ry="1.6" fill="url(#gd)"/>
<ellipse cx="336.6" cy="46.4" rx="3.4" ry="2.5" fill="url(#gd)"/>
<ellipse cx="234.8" cy="44.9" rx="2.8" ry="2.1" fill="url(#gd)"/>
<ellipse cx="275.5" cy="34.5" rx="2.8" ry="2.1" fill="url(#gd)"/>
<ellipse cx="283.6" cy="54.6" rx="2.2" ry="1.6" fill="url(#gd)"/>
<ellipse cx="238.5" cy="46.1" rx="3.1" ry="2.3" fill="url(#gd)"/>
<ellipse cx="334.7" cy="54.7" rx="3.1" ry="2.3" fill="url(#gd)"/>
<ellipse cx="395.0" cy="43.7" rx="1.6" ry="1.1" fill="url(#gd)"/>
<ellipse cx="220.5" cy="51.9" rx="2.8" ry="2.1" fill="url(#gd)"/>
<ellipse cx="375.9" cy="48.9" rx="1.7" ry="1.2" fill="url(#gd)"/>
<ellipse cx="298.3" cy="46.2" rx="2.3" ry="1.7" fill="url(#gd)"/>
<ellipse cx="227.2" cy="35.1" rx="2.7" ry="2.0" fill="url(#gd)"/>
<ellipse cx="341.5" cy="51.7" rx="2.1" ry="1.5" fill="url(#gd)"/>
<ellipse cx="263.9" cy="32.0" rx="3.1" ry="2.3" fill="url(#gd)"/>
<ellipse cx="384.5" cy="41.1" rx="1.7" ry="1.3" fill="url(#gd)"/>
<ellipse cx="261.5" cy="32.7" rx="1.9" ry="1.4" fill="url(#gd)"/>
<ellipse cx="310.0" cy="41.1" rx="2.1" ry="1.5" fill="url(#gd)"/>
<ellipse cx="313.2" cy="32.3" rx="2.6" ry="1.9" fill="url(#gd)"/>
<ellipse cx="242.0" cy="53.9" rx="2.4" ry="1.7" fill="url(#gd)"/>
<ellipse cx="396.2" cy="40.3" rx="2.6" ry="2.0" fill="url(#gd)"/>
<ellipse cx="298.6" cy="42.0" rx="3.4" ry="2.5" fill="url(#gd)"/>
<ellipse cx="248.6" cy="47.2" rx="2.7" ry="2.0" fill="url(#gd)"/>
<ellipse cx="223.2" cy="39.8" rx="2.9" ry="2.2" fill="url(#gd)"/>
<ellipse cx="322.7" cy="46.9" rx="2.0" ry="1.5" fill="url(#gd)"/>
<ellipse cx="296.0" cy="42.6" rx="2.0" ry="1.5" fill="url(#gd)"/>
<ellipse cx="392.3" cy="49.8" rx="3.1" ry="2.3" fill="url(#gd)"/>
<ellipse cx="274.0" cy="31.7" rx="3.2" ry="2.4" fill="url(#gd)"/>
<ellipse cx="322.5" cy="44.7" rx="2.9" ry="2.1" fill="url(#gd)"/>
<ellipse cx="285.4" cy="48.8" rx="3.2" ry="2.4" fill="url(#gd)"/>
<ellipse cx="320.2" cy="47.6" rx="2.6" ry="1.9" fill="url(#gd)"/>
<ellipse cx="356.4" cy="54.8" rx="2.3" ry="1.7" fill="url(#gd)"/>
<ellipse cx="355.0" cy="53.4" rx="2.8" ry="2.1" fill="url(#gd)"/>
<ellipse cx="327.8" cy="33.9" rx="2.7" ry="2.0" fill="url(#gd)"/>
<ellipse cx="395.1" cy="55.1" rx="2.3" ry="1.7" fill="url(#gd)"/>
<ellipse cx="345.7" cy="50.1" rx="2.2" ry="1.6" fill="url(#gd)"/>
<ellipse cx="245.7" cy="39.7" rx="2.8" ry="2.1" fill="url(#gd)"/>
<ellipse cx="309.8" cy="41.2" rx="3.5" ry="2.6" fill="url(#gd)"/>
<ellipse cx="384.9" cy="41.2" rx="2.6" ry="2.0" fill="url(#gd)"/>
<ellipse cx="361.6" cy="47.2" rx="3.3" ry="2.4" fill="url(#gd)"/>
<ellipse cx="292.0" cy="47.7" rx="1.6" ry="1.2" fill="url(#gd)"/>
<ellipse cx="390.5" cy="33.9" rx="2.2" ry="1.6" fill="url(#gd)"/>
<ellipse cx="251.5" cy="49.3" rx="3.2" ry="2.3" fill="url(#gd)"/>
<ellipse cx="328.2" cy="33.0" rx="2.3" ry="1.7" fill="url(#gd)"/>
<ellipse cx="236.2" cy="42.1" rx="1.5" ry="1.1" fill="url(#gd)"/>
<ellipse cx="349.0" cy="43.3" rx="1.6" ry="1.2" fill="url(#gd)"/>
<ellipse cx="382.4" cy="43.0" rx="3.4" ry="2.5" fill="url(#gd)"/>
<ellipse cx="323.7" cy="47.0" rx="1.9" ry="1.4" fill="url(#gd)"/>
<ellipse cx="274.2" cy="35.1" rx="3.2" ry="2.3" fill="url(#gd)"/>
<ellipse cx="303.7" cy="49.2" rx="2.1" ry="1.5" fill="url(#gd)"/>
<ellipse cx="263.0" cy="45.3" rx="3.2" ry="2.4" fill="url(#gd)"/>
<ellipse cx="263.1" cy="35.5" rx="3.1" ry="2.3" fill="url(#gd)"/>
<ellipse cx="325.6" cy="36.6" rx="2.0" ry="1.5" fill="url(#gd)"/>
<ellipse cx="312.0" cy="45.7" rx="1.8" ry="1.3" fill="url(#gd)"/>
<ellipse cx="284.8" cy="42.8" rx="1.9" ry="1.4" fill="url(#gd)"/>
<ellipse cx="387.3" cy="48.5" rx="3.2" ry="2.4" fill="url(#gd)"/>
<ellipse cx="243.3" cy="50.8" rx="1.9" ry="1.4" fill="url(#gd)"/>
<ellipse cx="234.3" cy="31.0" rx="3.1" ry="2.3" fill="url(#gd)"/>
<ellipse cx="291.0" cy="35.6" rx="3.2" ry="2.3" fill="url(#gd)"/>
<ellipse cx="274.5" cy="52.9" rx="2.6" ry="2.0" fill="url(#gd)"/>
<ellipse cx="393.4" cy="34.0" rx="1.9" ry="1.4" fill="url(#gd)"/>
<ellipse cx="301.6" cy="53.0" rx="3.4" ry="2.5" fill="url(#gd)"/>
<ellipse cx="307.0" cy="34.7" rx="1.6" ry="1.2" fill="url(#gd)"/>
<ellipse cx="364.4" cy="44.2" rx="2.1" ry="1.5" fill="url(#gd)"/>
<ellipse cx="256.9" cy="53.3" rx="2.3" ry="1.7" fill="url(#gd)"/>
<ellipse cx="303.4" cy="45.7" rx="1.9" ry="1.4" fill="url(#gd)"/>
<ellipse cx="361.6" cy="39.4" rx="1.8" ry="1.3" fill="url(#gd)"/>
<ellipse cx="334.6" cy="46.5" rx="3.1" ry="2.3" fill="url(#gd)"/>
<ellipse cx="247.3" cy="52.2" rx="3.3" ry="2.5" fill="url(#gd)"/>
<ellipse cx="237.9" cy="34.0" rx="3.1" ry="2.3" fill="url(#gd)"/>
<ellipse cx="396.4" cy="54.0" rx="3.4" ry="2.5" fill="url(#gd)"/>
<ellipse cx="393.2" cy="39.8" rx="3.0" ry="2.2" fill="url(#gd)"/>
<ellipse cx="222.7" cy="44.8" rx="1.5" ry="1.1" fill="url(#gd)"/>
<ellipse cx="375.7" cy="49.0" rx="3.0" ry="2.2" fill="url(#gd)"/>
<ellipse cx="397.6" cy="49.4" rx="2.9" ry="2.1" fill="url(#gd)"/>
<ellipse cx="230.6" cy="38.4" rx="2.8" ry="2.0" fill="url(#gd)"/>
<ellipse cx="368.4" cy="33.9" rx="3.3" ry="2.4" fill="url(#gd)"/>
<ellipse cx="247.3" cy="52.1" rx="2.1" ry="1.6" fill="url(#gd)"/>
<ellipse cx="316.5" cy="53.0" rx="1.7" ry="1.2" fill="url(#gd)"/>
<ellipse cx="360.8" cy="45.3" rx="2.0" ry="1.5" fill="url(#gd)"/>
<ellipse cx="253.0" cy="33.3" rx="2.4" ry="1.8" fill="url(#gd)"/>
<ellipse cx="370.7" cy="47.4" rx="2.2" ry="1.6" fill="url(#gd)"/>
<ellipse cx="281.8" cy="47.3" rx="1.9" ry="1.4" fill="url(#gd)"/>
<ellipse cx="226.8" cy="47.4" rx="2.9" ry="2.1" fill="url(#gd)"/>
<ellipse cx="358.3" cy="41.5" rx="1.9" ry="1.4" fill="url(#gd)"/>
<ellipse cx="383.6" cy="44.5" rx="1.7" ry="1.2" fill="url(#gd)"/>
<ellipse cx="251.3" cy="49.0" rx="2.8" ry="2.1" fill="url(#gd)"/>
<ellipse cx="316.8" cy="48.7" rx="2.1" ry="1.6" fill="url(#gd)"/>
<ellipse cx="301.9" cy="36.9" rx="2.3" ry="1.7" fill="url(#gd)"/>
<ellipse cx="281.7" cy="36.8" rx="2.3" ry="1.7" fill="url(#gd)"/>
<ellipse cx="266.2" cy="49.7" rx="2.6" ry="1.9" fill="url(#gd)"/>
<ellipse cx="244.4" cy="36.7" rx="3.4" ry="2.5" fill="url(#gd)"/>
<ellipse cx="250.2" cy="51.8" rx="1.8" ry="1.3" fill="url(#gd)"/>
<ellipse cx="296.6" cy="38.5" rx="1.5" ry="1.1" fill="url(#gd)"/>
<ellipse cx="370.8" cy="48.2" rx="1.9" ry="1.4" fill="url(#gd)"/>
<ellipse cx="288.2" cy="62.4" rx="2.1" ry="1.6" fill="url(#gg)"/>
<ellipse cx="265.8" cy="58.1" rx="2.0" ry="1.5" fill="url(#gm)"/>
<ellipse cx="294.8" cy="58.5" rx="2.5" ry="1.8" fill="url(#gd)"/>
<ellipse cx="398.3" cy="62.1" rx="1.8" ry="1.4" fill="url(#gd)"/>
<ellipse cx="323.9" cy="58.4" rx="2.6" ry="1.9" fill="url(#gg)"/>
<ellipse cx="220.4" cy="56.6" rx="3.4" ry="2.5" fill="url(#gd)"/>
<ellipse cx="235.3" cy="59.7" rx="3.2" ry="2.4" fill="url(#gg)"/>
<ellipse cx="247.7" cy="61.1" rx="1.9" ry="1.4" fill="url(#gd)"/>
<ellipse cx="398.0" cy="61.9" rx="2.4" ry="1.8" fill="url(#gd)"/>
<ellipse cx="311.4" cy="63.1" rx="3.3" ry="2.4" fill="url(#gg)"/>
<ellipse cx="244.7" cy="62.5" rx="2.5" ry="1.9" fill="url(#gd)"/>
<ellipse cx="259.1" cy="61.4" rx="3.1" ry="2.3" fill="url(#gm)"/>
<ellipse cx="318.4" cy="63.2" rx="2.1" ry="1.6" fill="url(#gd)"/>
<ellipse cx="363.1" cy="61.8" rx="3.3" ry="2.4" fill="url(#gd)"/>
<rect x="216.0" y="82.5" width="189.0" height="1.7" fill="#d81c14"/>
<path d="M24.0,103.1 L37.4,103.3 L50.9,103.2 L64.3,103.4 L77.7,103.4 L91.1,103.0 L104.6,103.0 L118.0,103.5 L131.4,103.1 L144.9,103.1 L158.3,103.6 L171.7,103.3 L185.1,103.5 L198.6,103.3 L212.0,103.4 L192.0,112.6 L181.2,113.2 L170.4,113.4 L159.6,113.0 L148.9,113.3 L138.1,113.2 L127.3,112.5 L116.5,113.3 L105.7,113.1 L94.9,112.8 L84.1,112.4 L73.4,113.4 L62.6,113.0 L51.8,113.3 L41.0,113.5 Z" fill="#0c123d"/>
<ellipse cx="148.0" cy="113.2" rx="1.7" ry="1.3" fill="url(#gd)"/>
<ellipse cx="160.7" cy="111.6" rx="2.7" ry="2.1" fill="url(#gd)"/>
<ellipse cx="172.2" cy="110.3" rx="1.2" ry="1.0" fill="url(#gd)"/>
<ellipse cx="74.9" cy="113.4" rx="1.8" ry="1.4" fill="url(#gd)"/>
<ellipse cx="135.1" cy="111.1" rx="1.9" ry="1.5" fill="url(#gd)"/>
<ellipse cx="99.7" cy="111.2" rx="2.1" ry="1.6" fill="url(#gd)"/>
<ellipse cx="128.9" cy="113.2" rx="2.2" ry="1.7" fill="url(#gd)"/>
<ellipse cx="179.6" cy="113.0" rx="2.8" ry="2.2" fill="url(#gd)"/>
<ellipse cx="141.7" cy="110.6" rx="2.5" ry="2.0" fill="url(#gd)"/>
<ellipse cx="184.8" cy="113.2" rx="2.0" ry="1.6" fill="url(#gd)"/>
<ellipse cx="147.9" cy="110.7" rx="2.5" ry="1.9" fill="url(#gd)"/>
<ellipse cx="127.3" cy="111.0" rx="1.1" ry="0.9" fill="url(#gd)"/>
<path d="M24.0,165.5 L24.0,159.5 L24.5,159.5 L25.0,159.4 L25.5,159.2 L26.0,158.8 L26.5,158.0 L27.0,156.4 L27.5,153.9 L28.0,151.7 L28.5,151.5 L29.0,151.5 L29.5,152.0 L30.0,153.1 L30.5,154.5 L31.0,156.1 L31.5,157.4 L32.0,158.3 L32.5,158.8 L33.0,159.1 L33.5,159.2 L34.0,159.3 L34.5,159.4 L35.0,159.4 L35.5,159.5 L36.0,159.5 L36.5,159.5 L37.0,159.5 L37.5,159.5 L38.0,159.5 L38.5,159.5 L39.0,159.5 L39.5,159.5 L40.0,159.5 L40.5,159.5 L41.0,159.5 L41.5,159.5 L42.0,159.5 L42.5,159.5 L43.0,159.5 L43.5,159.5 L44.0,159.5 L44.5,159.5 L45.0,159.5 L45.5,159.3 L46.0,159.0 L46.5,158.3 L47.0,157.3 L47.5,156.0 L48.0,155.0 L48.5,154.8 L49.0,155.4 L49.5,156.6 L50.0,157.8 L50.5,158.7 L51.0,159.2 L51.5,159.2 L52.0,158.5 L52.5,156.6 L53.0,154.4 L53.5,154.0 L54.0,155.8 L54.5,158.0 L55.0,159.0 L55.5,159.0 L56.0,158.6 L56.5,157.6 L57.0,156.1 L57.5,154.1 L58.0,152.1 L58.5,151.5 L59.0,151.5 L59.5,151.5 L60.0,152.5 L60.5,153.8 L61.0,154.9 L61.5,156.0 L62.0,156.9 L62.5,157.7 L63.0,158.3 L63.5,158.7 L64.0,159.0 L64.5,158.8 L65.0,158.0 L65.5,156.2 L66.0,153.8 L66.5,152.0 L67.0,151.5 L67.5,151.5 L68.0,151.5 L68.5,151.5 L69.0,151.5 L69.5,152.9 L70.0,155.2 L70.5,157.2 L71.0,158.5 L71.5,159.1 L72.0,159.3 L72.5,159.2 L73.0,158.8 L73.5,158.3 L74.0,157.6 L74.5,157.0 L75.0,156.6 L75.5,156.5 L76.0,156.6 L76.5,156.5 L77.0,156.2 L77.5,155.5 L78.0,154.4 L78.5,153.1 L79.0,151.7 L79.5,151.5 L80.0,151.5 L80.5,151.5 L81.0,151.5 L81.5,151.5 L82.0,151.5 L82.5,151.5 L83.0,151.5 L83.5,151.9 L84.0,154.6 L84.5,156.2 L85.0,156.9 L85.5,156.9 L86.0,156.8 L86.5,156.5 L87.0,156.2 L87.5,155.9 L88.0,155.6 L88.5,155.2 L89.0,154.9 L89.5,154.6 L90.0,154.5 L90.5,154.7 L91.0,155.2 L91.5,156.0 L92.0,156.8 L92.5,157.6 L93.0,158.2 L93.5,158.7 L94.0,159.1 L94.5,159.3 L95.0,159.4 L95.5,159.5 L96.0,159.5 L96.5,159.5 L97.0,159.5 L97.5,159.5 L98.0,159.5 L98.5,159.5 L99.0,159.4 L99.5,159.3 L100.0,159.0 L100.5,158.5 L101.0,157.6 L101.5,156.4 L102.0,155.1 L102.5,154.1 L103.0,153.9 L103.5,154.4 L104.0,155.6 L104.5,156.9 L105.0,158.0 L105.5,158.8 L106.0,159.2 L106.5,159.4 L107.0,159.5 L107.5,159.5 L108.0,159.5 L108.5,159.5 L109.0,159.5 L109.5,159.5 L110.0,159.5 L110.5,159.5 L111.0,159.5 L111.5,159.5 L112.0,159.5 L112.5,159.5 L113.0,159.5 L113.5,159.5 L114.0,159.5 L114.5,159.5 L115.0,159.5 L115.5,159.4 L116.0,159.3 L116.5,159.0 L117.0,158.5 L117.5,157.7 L118.0,156.6 L118.5,155.4 L119.0,154.3 L119.5,153.5 L120.0,153.0 L120.5,152.7 L121.0,152.5 L121.5,152.8 L122.0,153.4 L122.5,154.5 L123.0,155.8 L123.5,156.9 L124.0,157.9 L124.5,158.5 L125.0,158.8 L125.5,158.8 L126.0,158.6 L126.5,158.0 L127.0,157.2 L127.5,156.2 L128.0,155.1 L128.5,154.3 L129.0,153.9 L129.5,154.0 L130.0,154.6 L130.5,155.6 L131.0,156.7 L131.5,157.6 L132.0,158.4 L132.5,158.8 L133.0,159.0 L133.5,158.8 L134.0,158.4 L134.5,157.9 L135.0,157.4 L135.5,157.3 L136.0,157.5 L136.5,158.0 L137.0,158.5 L137.5,158.8 L138.0,158.9 L138.5,158.7 L139.0,158.5 L139.5,158.1 L140.0,157.4 L140.5,156.6 L141.0,155.6 L141.5,154.8 L142.0,154.3 L142.5,154.2 L143.0,154.4 L143.5,154.7 L144.0,154.8 L144.5,154.9 L145.0,154.9 L145.5,155.0 L146.0,155.2 L146.5,155.5 L147.0,156.0 L147.5,156.6 L148.0,157.3 L148.5,157.9 L149.0,158.4 L149.5,158.8 L150.0,159.0 L150.5,159.2 L151.0,159.4 L151.5,159.4 L152.0,159.5 L152.5,159.5 L153.0,159.4 L153.5,159.3 L154.0,158.8 L154.5,158.2 L155.0,157.6 L155.5,157.6 L156.0,158.0 L156.5,158.4 L157.0,158.1 L157.5,157.3 L158.0,156.0 L158.5,154.7 L159.0,154.1 L159.5,154.4 L160.0,155.3 L160.5,156.4 L161.0,157.1 L161.5,157.4 L162.0,157.2 L162.5,156.7 L163.0,156.2 L163.5,155.8 L164.0,155.5 L164.5,155.6 L165.0,155.9 L165.5,156.4 L166.0,157.0 L166.5,157.7 L167.0,158.2 L167.5,158.7 L168.0,159.0 L168.5,159.2 L169.0,159.4 L169.5,159.4 L170.0,159.5 L170.5,159.5 L171.0,159.5 L171.5,159.4 L172.0,159.4 L172.5,159.2 L173.0,159.0 L173.5,158.8 L174.0,158.7 L174.5,158.6 L175.0,158.7 L175.5,158.8 L176.0,159.0 L176.5,159.2 L177.0,159.4 L177.5,159.4 L178.0,159.5 L178.5,159.5 L179.0,159.5 L179.5,159.5 L180.0,159.4 L180.5,159.4 L181.0,159.4 L181.5,159.3 L182.0,159.2 L182.5,159.1 L183.0,158.8 L183.5,158.2 L184.0,157.4 L184.5,156.5 L185.0,155.7 L185.5,154.9 L186.0,153.9 L186.5,152.8 L187.0,152.0 L187.5,152.1 L188.0,152.9 L188.5,154.1 L189.0,155.2 L189.5,155.8 L190.0,156.0 L190.5,155.7 L191.0,155.0 L191.5,153.9 L192.0,152.8 L192.5,151.9 L193.0,151.5 L193.5,151.6 L194.0,152.3 L194.5,153.3 L195.0,154.6 L195.5,155.8 L196.0,156.9 L196.5,157.8 L197.0,158.5 L197.5,158.9 L198.0,159.1 L198.5,159.2 L199.0,159.2 L199.5,159.1 L200.0,158.9 L200.5,158.7 L201.0,158.5 L201.5,158.4 L202.0,158.2 L202.5,158.0 L203.0,157.8 L203.5,157.4 L204.0,156.8 L204.5,156.1 L205.0,155.7 L205.5,155.7 L206.0,155.7 L206.5,155.6 L207.0,155.0 L207.5,154.2 L208.0,153.6 L208.5,153.5 L209.0,154.1 L209.5,155.2 L210.0,156.4 L210.5,157.6 L211.0,158.4 L211.5,159.0 L212.0,159.3 L212.0,165.5 Z" fill="url(#gfloor)"/>
<line x1="189.4" y1="149.2" x2="189.4" y2="162.5" stroke="#dcae90" stroke-width="0.5"/>
<line x1="131.9" y1="142.1" x2="131.9" y2="162.5" stroke="#dcae90" stroke-width="0.5"/>
<line x1="162.2" y1="143.4" x2="162.2" y2="162.5" stroke="#dcae90" stroke-width="0.5"/>
<line x1="82.0" y1="147.3" x2="82.0" y2="162.5" stroke="#dcae90" stroke-width="0.5"/>
<line x1="122.5" y1="145.3" x2="122.5" y2="162.5" stroke="#dcae90" stroke-width="0.5"/>
<line x1="197.0" y1="146.9" x2="197.0" y2="162.5" stroke="#dcae90" stroke-width="0.5"/>
<line x1="89.4" y1="144.0" x2="89.4" y2="162.5" stroke="#dcae90" stroke-width="0.5"/>
<line x1="183.1" y1="145.8" x2="183.1" y2="162.5" stroke="#dcae90" stroke-width="0.5"/>
<path d="M116.6,165.5 C116.6,161.9 117.2,159.2 117.3,157.4 C117.5,154.7 119.0,151.4 119.0,148.8 L121.1,148.8 C121.1,151.4 122.7,154.7 122.8,157.4 C122.9,159.2 123.5,161.9 123.5,165.5 Z" fill="url(#gp)"/>
<ellipse cx="120.1" cy="147.4" rx="2.7" ry="2.5" fill="url(#gc)"/>
<path d="M43.5,165.5 C43.5,161.9 43.9,159.3 44.1,157.5 C44.2,154.8 45.0,151.6 45.0,149.0 L47.8,149.0 C47.8,151.6 48.7,154.8 48.8,157.5 C48.9,159.3 49.4,161.9 49.4,165.5 Z" fill="url(#gp)"/>
<ellipse cx="46.4" cy="147.7" rx="2.6" ry="2.4" fill="url(#gc)"/>
<path d="M31.1,165.5 C31.1,162.0 31.5,159.3 31.6,157.6 C31.7,154.9 32.5,152.4 32.5,149.4 L34.7,149.4 C34.7,152.4 35.5,154.9 35.6,157.6 C35.7,159.3 36.1,162.0 36.1,165.5 Z" fill="url(#gp)"/>
<ellipse cx="33.6" cy="147.9" rx="3.0" ry="2.8" fill="url(#gc)"/>
<path d="M129.2,165.5 C129.2,162.0 129.7,159.4 129.8,157.7 C130.0,155.1 131.2,152.2 131.2,149.5 L133.6,149.5 C133.6,152.2 134.8,155.1 134.9,157.7 C135.1,159.4 135.6,162.0 135.6,165.5 Z" fill="url(#gp)"/>
<ellipse cx="132.4" cy="148.2" rx="2.7" ry="2.6" fill="url(#gc)"/>
<path d="M176.4,165.5 C176.4,162.3 176.9,159.9 177.0,158.3 C177.1,155.9 178.0,153.7 178.0,151.0 L180.4,151.0 C180.4,153.7 181.3,155.9 181.4,158.3 C181.5,159.9 181.9,162.3 181.9,165.5 Z" fill="url(#gp)"/>
<ellipse cx="179.2" cy="149.6" rx="2.8" ry="2.6" fill="url(#gc)"/>
<path d="M131.9,165.5 C131.9,162.4 132.3,160.1 132.4,158.5 C132.4,156.2 133.0,155.1 133.0,151.7 L135.5,151.7 C135.5,155.1 136.0,156.2 136.1,158.5 C136.2,160.1 136.6,162.4 136.6,165.5 Z" fill="url(#gp)"/>
<ellipse cx="134.2" cy="150.0" rx="3.4" ry="3.2" fill="url(#gc)"/>
<path d="M55.9,165.5 C55.9,162.4 56.3,160.1 56.4,158.6 C56.5,156.3 57.3,153.9 57.3,151.4 L60.0,151.4 C60.0,153.9 60.7,156.3 60.9,158.6 C61.0,160.1 61.4,162.4 61.4,165.5 Z" fill="url(#gp)"/>
<ellipse cx="58.6" cy="150.2" rx="2.5" ry="2.4" fill="url(#gc)"/>
<path d="M182.0,165.5 C182.0,162.5 182.5,160.2 182.6,158.7 C182.7,156.4 183.7,154.9 183.7,151.9 L186.5,151.9 C186.5,154.9 187.4,156.4 187.6,158.7 C187.7,160.2 188.2,162.5 188.2,165.5 Z" fill="url(#gp)"/>
<ellipse cx="185.1" cy="150.4" rx="3.0" ry="2.9" fill="url(#gc)"/>
<path d="M22.9,165.5 C22.9,162.5 23.4,160.2 23.5,158.7 C23.6,156.4 24.6,154.9 24.6,151.9 L27.1,151.9 C27.1,154.9 28.0,156.4 28.2,158.7 C28.3,160.2 28.7,162.5 28.7,165.5 Z" fill="url(#gp)"/>
<ellipse cx="25.8" cy="150.4" rx="3.0" ry="2.9" fill="url(#gc)"/>
<path d="M150.7,165.5 C150.7,162.5 151.3,160.3 151.4,158.8 C151.5,156.5 153.0,154.1 153.0,151.7 L155.2,151.7 C155.2,154.1 156.7,156.5 156.8,158.8 C156.9,160.3 157.5,162.5 157.5,165.5 Z" fill="url(#gp)"/>
<ellipse cx="154.1" cy="150.5" rx="2.4" ry="2.3" fill="url(#gc)"/>
<path d="M92.7,165.5 C92.7,162.5 93.2,160.3 93.3,158.8 C93.4,156.6 94.4,154.9 94.4,152.0 L97.3,152.0 C97.3,154.9 98.3,156.6 98.4,158.8 C98.5,160.3 99.0,162.5 99.0,165.5 Z" fill="url(#gp)"/>
<ellipse cx="95.8" cy="150.6" rx="2.9" ry="2.7" fill="url(#gc)"/>
<path d="M180.8,165.5 C180.8,162.5 181.2,160.3 181.3,158.8 C181.4,156.6 182.2,154.4 182.2,151.9 L184.9,151.9 C184.9,154.4 185.7,156.6 185.8,158.8 C185.9,160.3 186.4,162.5 186.4,165.5 Z" fill="url(#gp)"/>
<ellipse cx="183.6" cy="150.6" rx="2.5" ry="2.4" fill="url(#gc)"/>
<path d="M31.1,165.5 C31.1,162.5 31.5,160.3 31.6,158.8 C31.7,156.6 32.6,155.1 32.6,152.2 L34.8,152.2 C34.8,155.1 35.7,156.6 35.8,158.8 C35.9,160.3 36.3,162.5 36.3,165.5 Z" fill="url(#gp)"/>
<ellipse cx="33.7" cy="150.7" rx="2.9" ry="2.8" fill="url(#gc)"/>
<path d="M127.2,165.5 C127.2,162.6 127.6,160.3 127.7,158.9 C127.8,156.7 128.7,155.4 128.7,152.3 L130.9,152.3 C130.9,155.4 131.8,156.7 131.9,158.9 C132.0,160.3 132.5,162.6 132.5,165.5 Z" fill="url(#gp)"/>
<ellipse cx="129.8" cy="150.8" rx="3.1" ry="2.9" fill="url(#gc)"/>
<path d="M177.7,165.5 C177.7,162.6 178.3,160.4 178.4,158.9 C178.6,156.7 180.0,155.5 180.0,152.4 L182.3,152.4 C182.3,155.5 183.8,156.7 183.9,158.9 C184.1,160.4 184.6,162.6 184.6,165.5 Z" fill="url(#gp)"/>
<ellipse cx="181.2" cy="150.9" rx="3.1" ry="2.9" fill="url(#gc)"/>
<path d="M108.6,165.5 C108.6,162.6 109.0,160.4 109.2,158.9 C109.3,156.8 109.9,155.3 109.9,152.4 L112.8,152.4 C112.8,155.3 113.5,156.8 113.6,158.9 C113.7,160.4 114.1,162.6 114.1,165.5 Z" fill="url(#gp)"/>
<ellipse cx="111.4" cy="150.9" rx="2.9" ry="2.8" fill="url(#gc)"/>
<path d="M83.7,165.5 C83.7,162.6 84.2,160.4 84.3,158.9 C84.4,156.8 85.2,154.4 85.2,152.1 L87.4,152.1 C87.4,154.4 88.3,156.8 88.4,158.9 C88.5,160.4 88.9,162.6 88.9,165.5 Z" fill="url(#gp)"/>
<ellipse cx="86.3" cy="150.9" rx="2.3" ry="2.2" fill="url(#gc)"/>
<path d="M46.1,165.5 C46.1,162.6 46.6,160.4 46.7,158.9 C46.8,156.8 47.8,154.7 47.8,152.2 L50.2,152.2 C50.2,154.7 51.1,156.8 51.2,158.9 C51.4,160.4 51.8,162.6 51.8,165.5 Z" fill="url(#gp)"/>
<ellipse cx="49.0" cy="150.9" rx="2.5" ry="2.4" fill="url(#gc)"/>
<path d="M173.9,165.5 C173.9,162.7 174.3,160.5 174.4,159.1 C174.6,157.0 175.4,156.0 175.4,152.9 L177.8,152.9 C177.8,156.0 178.7,157.0 178.8,159.1 C178.9,160.5 179.3,162.7 179.3,165.5 Z" fill="url(#gp)"/>
<ellipse cx="176.6" cy="151.3" rx="3.2" ry="3.0" fill="url(#gc)"/>
<path d="M89.8,165.5 C89.8,162.7 90.2,160.6 90.3,159.2 C90.4,157.1 90.8,155.7 90.8,152.8 L93.8,152.8 C93.8,155.7 94.1,157.1 94.2,159.2 C94.3,160.6 94.7,162.7 94.7,165.5 Z" fill="url(#gp)"/>
<ellipse cx="92.3" cy="151.4" rx="2.8" ry="2.7" fill="url(#gc)"/>
<path d="M168.8,165.5 C168.8,162.8 169.3,160.8 169.4,159.4 C169.5,157.4 170.6,156.8 170.6,153.6 L173.1,153.6 C173.1,156.8 174.1,157.4 174.2,159.4 C174.3,160.8 174.8,162.8 174.8,165.5 Z" fill="url(#gp)"/>
<ellipse cx="171.8" cy="152.0" rx="3.2" ry="3.1" fill="url(#gc)"/>
<path d="M72.4,165.5 C72.4,162.8 73.0,160.8 73.1,159.4 C73.2,157.4 74.4,156.3 74.4,153.4 L77.0,153.4 C77.0,156.3 78.2,157.4 78.3,159.4 C78.5,160.8 79.0,162.8 79.0,165.5 Z" fill="url(#gp)"/>
<ellipse cx="75.7" cy="152.0" rx="2.8" ry="2.7" fill="url(#gc)"/>
<path d="M115.2,165.5 C115.2,162.9 115.7,160.9 115.9,159.6 C116.0,157.6 117.0,156.5 117.0,153.7 L119.8,153.7 C119.8,156.5 120.8,157.6 120.9,159.6 C121.0,160.9 121.5,162.9 121.5,165.5 Z" fill="url(#gp)"/>
<ellipse cx="118.4" cy="152.4" rx="2.7" ry="2.6" fill="url(#gc)"/>
<path d="M80.5,165.5 C80.5,162.9 81.0,161.0 81.2,159.7 C81.3,157.8 82.2,156.9 82.2,154.0 L85.2,154.0 C85.2,156.9 86.1,157.8 86.2,159.7 C86.4,161.0 86.9,162.9 86.9,165.5 Z" fill="url(#gp)"/>
<ellipse cx="83.7" cy="152.6" rx="2.8" ry="2.7" fill="url(#gc)"/>
<path d="M167.7,165.5 C167.7,162.9 168.1,161.0 168.2,159.7 C168.3,157.8 169.1,157.3 169.1,154.2 L171.3,154.2 C171.3,157.3 172.2,157.8 172.3,159.7 C172.4,161.0 172.8,162.9 172.8,165.5 Z" fill="url(#gp)"/>
<ellipse cx="170.2" cy="152.6" rx="3.1" ry="2.9" fill="url(#gc)"/>
<path d="M55.4,165.5 C55.4,163.0 55.9,161.1 56.1,159.8 C56.2,157.9 57.1,157.7 57.1,154.4 L60.0,154.4 C60.0,157.7 60.9,157.9 61.0,159.8 C61.1,161.1 61.6,163.0 61.6,165.5 Z" fill="url(#gp)"/>
<ellipse cx="58.5" cy="152.8" rx="3.2" ry="3.1" fill="url(#gc)"/>
<path d="M153.0,165.5 C153.0,163.0 153.4,161.2 153.5,159.9 C153.6,158.1 154.4,157.0 154.4,154.4 L156.6,154.4 C156.6,157.0 157.5,158.1 157.6,159.9 C157.7,161.2 158.1,163.0 158.1,165.5 Z" fill="url(#gp)"/>
<ellipse cx="155.5" cy="153.2" rx="2.6" ry="2.5" fill="url(#gc)"/>
<path d="M120.6,165.5 C120.6,163.0 121.0,161.2 121.1,160.0 C121.2,158.1 121.7,158.0 121.7,154.8 L124.4,154.8 C124.4,158.0 124.9,158.1 125.0,160.0 C125.1,161.2 125.5,163.0 125.5,165.5 Z" fill="url(#gp)"/>
<ellipse cx="123.0" cy="153.2" rx="3.2" ry="3.1" fill="url(#gc)"/>
<path d="M100.7,165.5 C100.7,163.0 101.3,161.2 101.4,160.0 C101.5,158.1 103.0,158.1 103.0,154.8 L105.2,154.8 C105.2,158.1 106.7,158.1 106.8,160.0 C106.9,161.2 107.5,163.0 107.5,165.5 Z" fill="url(#gp)"/>
<ellipse cx="104.1" cy="153.2" rx="3.3" ry="3.1" fill="url(#gc)"/>
<path d="M138.1,165.5 C138.1,163.0 138.5,161.2 138.6,160.0 C138.7,158.1 139.5,157.9 139.5,154.8 L142.0,154.8 C142.0,157.9 142.7,158.1 142.9,160.0 C143.0,161.2 143.4,163.0 143.4,165.5 Z" fill="url(#gp)"/>
<ellipse cx="140.7" cy="153.2" rx="3.1" ry="2.9" fill="url(#gc)"/>
<path d="M151.6,165.5 C151.6,163.1 151.9,161.3 152.0,160.1 C152.1,158.3 152.9,158.3 152.9,155.1 L155.0,155.1 C155.0,158.3 155.7,158.3 155.8,160.1 C155.9,161.3 156.3,163.1 156.3,165.5 Z" fill="url(#gp)"/>
<ellipse cx="153.9" cy="153.5" rx="3.2" ry="3.1" fill="url(#gc)"/>
<path d="M91.8,165.5 C91.8,163.1 92.2,161.4 92.3,160.2 C92.4,158.4 93.2,158.1 93.2,155.2 L95.6,155.2 C95.6,158.1 96.4,158.4 96.5,160.2 C96.6,161.4 97.0,163.1 97.0,165.5 Z" fill="url(#gp)"/>
<ellipse cx="94.4" cy="153.7" rx="2.9" ry="2.8" fill="url(#gc)"/>
<path d="M58.9,165.5 C58.9,163.2 59.4,161.5 59.5,160.3 C59.7,158.6 61.0,158.0 61.0,155.3 L63.0,155.3 C63.0,158.0 64.4,158.6 64.5,160.3 C64.6,161.5 65.1,163.2 65.1,165.5 Z" fill="url(#gp)"/>
<ellipse cx="62.0" cy="154.0" rx="2.7" ry="2.5" fill="url(#gc)"/>
<path d="M68.0,165.5 C68.0,163.2 68.5,161.5 68.6,160.3 C68.7,158.6 69.6,157.8 69.6,155.3 L72.1,155.3 C72.1,157.8 73.0,158.6 73.1,160.3 C73.2,161.5 73.6,163.2 73.6,165.5 Z" fill="url(#gp)"/>
<ellipse cx="70.8" cy="154.0" rx="2.5" ry="2.4" fill="url(#gc)"/>
<path d="M142.2,165.5 C142.2,163.3 142.7,161.6 142.8,160.5 C142.9,158.8 143.7,158.5 143.7,155.8 L146.7,155.8 C146.7,158.5 147.4,158.8 147.6,160.5 C147.7,161.6 148.2,163.3 148.2,165.5 Z" fill="url(#gp)"/>
<ellipse cx="145.2" cy="154.4" rx="2.7" ry="2.6" fill="url(#gc)"/>
<path d="M24.0,165.5 C24.0,163.3 24.4,161.7 24.5,160.6 C24.7,159.0 25.8,158.6 25.8,156.0 L27.9,156.0 C27.9,158.6 29.1,159.0 29.2,160.6 C29.3,161.7 29.8,163.3 29.8,165.5 Z" fill="url(#gp)"/>
<ellipse cx="26.9" cy="154.7" rx="2.6" ry="2.5" fill="url(#gc)"/>
<path d="M172.9,165.5 C172.9,163.4 173.4,161.8 173.5,160.8 C173.6,159.2 174.9,159.9 174.9,156.6 L177.0,156.6 C177.0,159.9 178.3,159.2 178.4,160.8 C178.5,161.8 179.0,163.4 179.0,165.5 Z" fill="url(#gp)"/>
<ellipse cx="175.9" cy="155.0" rx="3.3" ry="3.1" fill="url(#gc)"/>
<path d="M178.2,165.5 C178.2,163.4 178.8,161.8 178.9,160.8 C179.1,159.2 180.6,160.1 180.6,156.7 L182.7,156.7 C182.7,160.1 184.2,159.2 184.3,160.8 C184.5,161.8 185.0,163.4 185.0,165.5 Z" fill="url(#gp)"/>
<ellipse cx="181.6" cy="155.1" rx="3.3" ry="3.2" fill="url(#gc)"/>
<path d="M125.6,165.5 C125.6,163.5 126.0,162.0 126.1,160.9 C126.2,159.4 126.9,160.1 126.9,156.9 L129.7,156.9 C129.7,160.1 130.3,159.4 130.4,160.9 C130.6,162.0 131.0,163.5 131.0,165.5 Z" fill="url(#gp)"/>
<ellipse cx="128.3" cy="155.4" rx="3.1" ry="3.0" fill="url(#gc)"/>
<path d="M146.4,165.5 C146.4,163.5 146.8,162.0 146.9,161.0 C147.0,159.5 147.7,160.0 147.7,157.0 L150.3,157.0 C150.3,160.0 151.0,159.5 151.1,161.0 C151.2,162.0 151.6,163.5 151.6,165.5 Z" fill="url(#gp)"/>
<ellipse cx="149.0" cy="155.5" rx="3.0" ry="2.9" fill="url(#gc)"/>
<path d="M48.8,165.5 C48.8,163.6 49.3,162.1 49.4,161.1 C49.6,159.7 50.9,160.5 50.9,157.4 L53.2,157.4 C53.2,160.5 54.5,159.7 54.7,161.1 C54.8,162.1 55.3,163.6 55.3,165.5 Z" fill="url(#gp)"/>
<ellipse cx="52.1" cy="155.8" rx="3.1" ry="3.0" fill="url(#gc)"/>
<path d="M109.5,165.5 C109.5,163.6 110.1,162.1 110.2,161.1 C110.4,159.7 111.7,160.2 111.7,157.3 L114.3,157.3 C114.3,160.2 115.6,159.7 115.7,161.1 C115.9,162.1 116.4,163.6 116.4,165.5 Z" fill="url(#gp)"/>
<ellipse cx="113.0" cy="155.8" rx="2.9" ry="2.7" fill="url(#gc)"/>
<path d="M134.9,165.5 C134.9,163.6 135.3,162.1 135.4,161.2 C135.5,159.7 136.1,159.9 136.1,157.2 L138.6,157.2 C138.6,159.9 139.1,159.7 139.2,161.2 C139.3,162.1 139.7,163.6 139.7,165.5 Z" fill="url(#gp)"/>
<ellipse cx="137.3" cy="155.9" rx="2.7" ry="2.6" fill="url(#gc)"/>
<path d="M186.5,165.5 C186.5,163.6 187.0,162.2 187.1,161.2 C187.3,159.8 188.3,160.3 188.3,157.4 L191.0,157.4 C191.0,160.3 192.1,159.8 192.2,161.2 C192.3,162.2 192.8,163.6 192.8,165.5 Z" fill="url(#gp)"/>
<ellipse cx="189.7" cy="155.9" rx="2.9" ry="2.8" fill="url(#gc)"/>
<path d="M93.4,165.5 C93.4,163.6 93.8,162.2 93.9,161.2 C94.0,159.8 94.5,160.5 94.5,157.5 L97.2,157.5 C97.2,160.5 97.7,159.8 97.8,161.2 C97.9,162.2 98.3,163.6 98.3,165.5 Z" fill="url(#gp)"/>
<ellipse cx="95.8" cy="156.0" rx="3.0" ry="2.8" fill="url(#gc)"/>
<path d="M172.1,165.5 C172.1,163.6 172.5,162.2 172.6,161.3 C172.7,159.9 173.2,160.7 173.2,157.7 L176.1,157.7 C176.1,160.7 176.5,159.9 176.6,161.3 C176.7,162.2 177.1,163.6 177.1,165.5 Z" fill="url(#gp)"/>
<ellipse cx="174.6" cy="156.2" rx="3.0" ry="2.9" fill="url(#gc)"/>
<path d="M41.5,165.5 C41.5,163.7 41.9,162.4 41.9,161.5 C42.0,160.2 42.4,160.3 42.4,157.8 L45.3,157.8 C45.3,160.3 45.7,160.2 45.8,161.5 C45.9,162.4 46.3,163.7 46.3,165.5 Z" fill="url(#gp)"/>
<ellipse cx="43.9" cy="156.6" rx="2.5" ry="2.3" fill="url(#gc)"/>
<path d="M92.1,165.5 C92.1,163.7 92.5,162.4 92.6,161.6 C92.7,160.2 93.4,161.2 93.4,158.2 L96.1,158.2 C96.1,161.2 96.8,160.2 96.9,161.6 C97.0,162.4 97.4,163.7 97.4,165.5 Z" fill="url(#gp)"/>
<ellipse cx="94.7" cy="156.7" rx="3.0" ry="2.8" fill="url(#gc)"/>
<path d="M169.0,165.5 C169.0,163.8 169.5,162.5 169.6,161.6 C169.7,160.3 170.6,161.1 170.6,158.3 L173.3,158.3 C173.3,161.1 174.2,160.3 174.3,161.6 C174.4,162.5 174.9,163.8 174.9,165.5 Z" fill="url(#gp)"/>
<ellipse cx="172.0" cy="156.9" rx="2.8" ry="2.7" fill="url(#gc)"/>
<path d="M185.6,165.5 C185.6,163.8 186.0,162.5 186.1,161.7 C186.2,160.4 187.2,160.6 187.2,158.2 L189.3,158.2 C189.3,160.6 190.2,160.4 190.4,161.7 C190.5,162.5 190.9,163.8 190.9,165.5 Z" fill="url(#gp)"/>
<ellipse cx="188.2" cy="157.0" rx="2.4" ry="2.3" fill="url(#gc)"/>
<path d="M35.0,165.5 C35.0,163.9 35.5,162.6 35.6,161.8 C35.8,160.6 36.8,161.7 36.8,158.8 L39.5,158.8 C39.5,161.7 40.5,160.6 40.7,161.8 C40.8,162.6 41.3,163.9 41.3,165.5 Z" fill="url(#gp)"/>
<ellipse cx="38.2" cy="157.3" rx="2.9" ry="2.8" fill="url(#gc)"/>
<ellipse cx="162.6" cy="161.3" rx="1.2" ry="0.6" fill="#e0bda8" opacity="0.55"/>
<ellipse cx="32.8" cy="162.0" rx="1.1" ry="0.9" fill="#c98f77" opacity="0.55"/>
<ellipse cx="187.8" cy="164.2" rx="1.4" ry="0.9" fill="#d9a98e" opacity="0.55"/>
<ellipse cx="90.6" cy="163.7" rx="1.0" ry="0.6" fill="#d9a98e" opacity="0.55"/>
<ellipse cx="151.8" cy="162.3" rx="2.1" ry="0.5" fill="#e0bda8" opacity="0.55"/>
<ellipse cx="130.5" cy="162.9" rx="1.3" ry="1.0" fill="#e0bda8" opacity="0.55"/>
<ellipse cx="135.1" cy="160.2" rx="1.4" ry="0.5" fill="#e0bda8" opacity="0.55"/>
<ellipse cx="130.7" cy="160.5" rx="1.2" ry="0.9" fill="#d9a98e" opacity="0.55"/>
<ellipse cx="181.7" cy="161.7" rx="1.4" ry="0.9" fill="#c98f77" opacity="0.55"/>
<ellipse cx="127.8" cy="162.4" rx="1.7" ry="1.0" fill="#c98f77" opacity="0.55"/>
<ellipse cx="191.6" cy="162.8" rx="0.8" ry="0.5" fill="#d9a98e" opacity="0.55"/>
<ellipse cx="45.0" cy="163.3" rx="1.1" ry="0.5" fill="#8e97a6" opacity="0.55"/>
<ellipse cx="62.0" cy="163.4" rx="1.1" ry="0.9" fill="#8e97a6" opacity="0.55"/>
<ellipse cx="45.8" cy="160.9" rx="1.7" ry="0.5" fill="#8e97a6" opacity="0.55"/>
<ellipse cx="172.4" cy="162.6" rx="0.9" ry="0.6" fill="#e0bda8" opacity="0.55"/>
<ellipse cx="119.1" cy="162.0" rx="0.8" ry="0.6" fill="#c98f77" opacity="0.55"/>
<ellipse cx="186.9" cy="163.0" rx="1.0" ry="0.9" fill="#d9a98e" opacity="0.55"/>
<ellipse cx="158.2" cy="163.2" rx="1.3" ry="0.9" fill="#d9a98e" opacity="0.55"/>
<ellipse cx="185.2" cy="161.7" rx="1.9" ry="0.7" fill="#d9a98e" opacity="0.55"/>
<ellipse cx="171.4" cy="161.5" rx="2.0" ry="0.8" fill="#8e97a6" opacity="0.55"/>
<ellipse cx="117.5" cy="163.0" rx="1.6" ry="0.7" fill="#8e97a6" opacity="0.55"/>
<ellipse cx="81.7" cy="161.8" rx="1.9" ry="0.6" fill="#e0bda8" opacity="0.55"/>
<ellipse cx="109.7" cy="159.7" rx="1.2" ry="0.9" fill="#8e97a6" opacity="0.55"/>
<ellipse cx="123.5" cy="162.5" rx="1.1" ry="0.4" fill="#e0bda8" opacity="0.55"/>
<ellipse cx="73.1" cy="161.3" rx="2.0" ry="0.7" fill="#e0bda8" opacity="0.55"/>
<ellipse cx="63.9" cy="160.4" rx="1.4" ry="0.5" fill="#d9a98e" opacity="0.55"/>
<ellipse cx="50.9" cy="162.5" rx="1.4" ry="0.5" fill="#d9a98e" opacity="0.55"/>
<ellipse cx="100.0" cy="161.1" rx="0.8" ry="0.8" fill="#e0bda8" opacity="0.55"/>
<ellipse cx="100.0" cy="161.5" rx="0.8" ry="1.0" fill="#e0bda8" opacity="0.55"/>
<ellipse cx="69.9" cy="161.4" rx="1.1" ry="0.6" fill="#d9a98e" opacity="0.55"/>
<ellipse cx="89.4" cy="160.1" rx="0.9" ry="0.8" fill="#c98f77" opacity="0.55"/>
<ellipse cx="207.5" cy="164.2" rx="1.9" ry="1.0" fill="#8e97a6" opacity="0.55"/>
<ellipse cx="71.5" cy="160.8" rx="1.9" ry="0.8" fill="#c98f77" opacity="0.55"/>
<ellipse cx="84.0" cy="159.8" rx="1.4" ry="0.5" fill="#d9a98e" opacity="0.55"/>
<ellipse cx="44.5" cy="162.9" rx="0.8" ry="0.7" fill="#8e97a6" opacity="0.55"/>
<ellipse cx="35.0" cy="162.8" rx="2.1" ry="0.5" fill="#8e97a6" opacity="0.55"/>
<ellipse cx="88.2" cy="161.9" rx="1.3" ry="0.8" fill="#8e97a6" opacity="0.55"/>
<ellipse cx="137.5" cy="119.7" rx="4.1" ry="3.0" fill="url(#gg)"/>
<ellipse cx="47.9" cy="126.2" rx="2.9" ry="2.1" fill="url(#gd)"/>
<ellipse cx="196.0" cy="124.2" rx="2.4" ry="1.8" fill="url(#gd)"/>
<ellipse cx="179.1" cy="124.8" rx="3.2" ry="2.4" fill="url(#gd)"/>
<ellipse cx="102.5" cy="120.4" rx="2.5" ry="1.9" fill="url(#gd)"/>
<ellipse cx="76.0" cy="121.8" rx="2.4" ry="1.8" fill="url(#gd)"/>
<ellipse cx="156.3" cy="123.3" rx="2.9" ry="2.1" fill="url(#gd)"/>
<ellipse cx="156.3" cy="117.8" rx="2.1" ry="1.5" fill="url(#gd)"/>
<ellipse cx="150.3" cy="125.1" rx="2.2" ry="1.6" fill="url(#gd)"/>
<ellipse cx="143.9" cy="126.1" rx="3.9" ry="2.9" fill="url(#gd)"/>
<ellipse cx="190.2" cy="121.4" rx="3.6" ry="2.7" fill="url(#gd)"/>
<ellipse cx="40.1" cy="120.4" rx="2.9" ry="2.1" fill="url(#gd)"/>
<ellipse cx="130.5" cy="117.3" rx="2.2" ry="1.7" fill="url(#gm)"/>
<ellipse cx="35.9" cy="133.3" rx="2.3" ry="1.7" fill="url(#gm)"/>
<ellipse cx="68.8" cy="128.3" rx="4.1" ry="3.1" fill="url(#gm)"/>
<ellipse cx="169.2" cy="137.2" rx="3.3" ry="2.5" fill="url(#gm)"/>
<ellipse cx="59.3" cy="132.1" rx="2.2" ry="1.6" fill="url(#gg)"/>
<ellipse cx="202.9" cy="128.5" rx="2.4" ry="1.8" fill="url(#gg)"/>
<ellipse cx="67.5" cy="138.2" rx="3.8" ry="2.8" fill="url(#gm)"/>
<ellipse cx="185.6" cy="144.8" rx="2.8" ry="2.0" fill="url(#gg)"/>
<ellipse cx="179.0" cy="130.4" rx="3.3" ry="2.4" fill="url(#gg)"/>
<ellipse cx="111.5" cy="139.9" rx="3.6" ry="2.7" fill="url(#gg)"/>
<ellipse cx="40.0" cy="138.7" rx="3.2" ry="2.4" fill="url(#gg)"/>
<ellipse cx="137.3" cy="142.3" rx="2.5" ry="1.8" fill="url(#gm)"/>
<ellipse cx="105.4" cy="135.4" rx="2.2" ry="1.6" fill="url(#gg)"/>
<ellipse cx="159.2" cy="148.5" rx="3.9" ry="2.9" fill="url(#gd)"/>
<ellipse cx="196.5" cy="141.5" rx="3.2" ry="2.4" fill="url(#gm)"/>
<ellipse cx="199.8" cy="147.9" rx="3.1" ry="2.3" fill="url(#gg)"/>
<ellipse cx="194.5" cy="149.9" rx="2.6" ry="2.0" fill="url(#gd)"/>
<ellipse cx="44.4" cy="132.1" rx="3.6" ry="2.7" fill="url(#gm)"/>
<ellipse cx="34.4" cy="142.1" rx="3.6" ry="2.7" fill="url(#gg)"/>
<ellipse cx="162.1" cy="135.6" rx="3.6" ry="2.7" fill="url(#gg)"/>
<ellipse cx="101.8" cy="134.6" rx="2.2" ry="1.6" fill="url(#gm)"/>
<ellipse cx="204.7" cy="143.4" rx="4.2" ry="3.1" fill="url(#gg)"/>
<ellipse cx="83.8" cy="131.5" rx="3.0" ry="2.2" fill="url(#gm)"/>
<ellipse cx="182.2" cy="135.9" rx="2.6" ry="1.9" fill="url(#gm)"/>
<ellipse cx="81.1" cy="145.8" rx="2.5" ry="1.9" fill="url(#gg)"/>
<ellipse cx="123.6" cy="130.9" rx="3.2" ry="2.4" fill="url(#gg)"/>
<ellipse cx="167.1" cy="132.5" rx="3.0" ry="2.2" fill="url(#gd)"/>
<ellipse cx="205.2" cy="145.3" rx="2.1" ry="1.5" fill="url(#gg)"/>
<ellipse cx="88.6" cy="137.5" rx="2.1" ry="1.6" fill="url(#gg)"/>
<ellipse cx="72.0" cy="134.9" rx="3.8" ry="2.8" fill="url(#gg)"/>
<ellipse cx="105.2" cy="129.0" rx="3.4" ry="2.5" fill="url(#gm)"/>
<ellipse cx="72.0" cy="145.8" rx="2.3" ry="1.7" fill="url(#gm)"/>
<ellipse cx="178.2" cy="139.2" rx="3.2" ry="2.4" fill="url(#gg)"/>
<ellipse cx="144.0" cy="128.4" rx="4.0" ry="2.9" fill="url(#gd)"/>
<ellipse cx="148.1" cy="138.3" rx="4.0" ry="3.0" fill="url(#gm)"/>
<ellipse cx="121.4" cy="137.1" rx="2.4" ry="1.8" fill="url(#gm)"/>
<ellipse cx="126.6" cy="149.8" rx="2.9" ry="2.1" fill="url(#gg)"/>
<ellipse cx="109.4" cy="145.7" rx="4.1" ry="3.0" fill="url(#gg)"/>
<ellipse cx="102.0" cy="139.5" rx="3.9" ry="2.9" fill="url(#gm)"/>
<ellipse cx="32.6" cy="141.5" rx="3.3" ry="2.4" fill="url(#gg)"/>
<ellipse cx="156.1" cy="134.2" rx="4.0" ry="3.0" fill="url(#gm)"/>
<ellipse cx="120.7" cy="136.2" rx="4.0" ry="2.9" fill="url(#gd)"/>
<ellipse cx="62.5" cy="142.2" rx="4.0" ry="3.0" fill="url(#gg)"/>
<ellipse cx="84.5" cy="146.2" rx="2.6" ry="1.9" fill="url(#gd)"/>
<ellipse cx="84.8" cy="148.8" rx="2.9" ry="2.1" fill="url(#gg)"/>
<ellipse cx="205.4" cy="133.5" rx="2.2" ry="1.6" fill="url(#gg)"/>
<ellipse cx="122.8" cy="129.7" rx="3.6" ry="2.7" fill="url(#gm)"/>
<ellipse cx="28.0" cy="146.0" rx="2.6" ry="1.9" fill="url(#gd)"/>
<ellipse cx="75.7" cy="129.5" rx="3.1" ry="2.3" fill="url(#gm)"/>
<ellipse cx="69.9" cy="129.0" rx="4.1" ry="3.0" fill="url(#gm)"/>
<ellipse cx="207.7" cy="131.9" rx="3.5" ry="2.6" fill="url(#gg)"/>
<ellipse cx="165.2" cy="129.2" rx="2.4" ry="1.8" fill="url(#gm)"/>
<ellipse cx="35.9" cy="147.2" rx="4.1" ry="3.0" fill="url(#gg)"/>
<ellipse cx="98.0" cy="130.4" rx="4.2" ry="3.1" fill="url(#gg)"/>
<ellipse cx="50.1" cy="131.2" rx="2.8" ry="2.1" fill="url(#gd)"/>
<ellipse cx="61.9" cy="129.7" rx="4.1" ry="3.0" fill="url(#gd)"/>
<ellipse cx="71.8" cy="149.6" rx="2.8" ry="2.1" fill="url(#gd)"/>
<ellipse cx="155.0" cy="138.7" rx="2.7" ry="2.0" fill="url(#gg)"/>
<ellipse cx="169.3" cy="144.5" rx="3.3" ry="2.4" fill="url(#gm)"/>
<ellipse cx="124.3" cy="137.7" rx="3.8" ry="2.8" fill="url(#gm)"/>
<ellipse cx="181.4" cy="148.5" rx="2.4" ry="1.8" fill="url(#gd)"/>
<ellipse cx="57.6" cy="146.5" rx="2.6" ry="1.9" fill="url(#gg)"/>
<ellipse cx="101.5" cy="149.5" rx="3.9" ry="2.9" fill="url(#gg)"/>
<rect x="24.0" y="165.2" width="189.0" height="1.7" fill="#d81c14"/>
<path d="M219.0,102.8 L232.5,102.7 L246.0,102.9 L259.5,102.8 L273.0,102.7 L286.5,102.9 L300.0,103.3 L313.5,103.2 L327.0,103.2 L340.5,102.8 L354.0,103.0 L367.5,102.8 L381.0,102.8 L394.5,102.7 L408.0,102.8 L390.0,113.3 L379.1,113.2 L368.1,113.2 L357.2,113.2 L346.3,112.4 L335.4,112.6 L324.4,113.0 L313.5,113.1 L302.6,113.2 L291.6,113.3 L280.7,112.3 L269.8,112.9 L258.9,113.0 L247.9,112.8 L237.0,112.4 Z" fill="#0c123d"/>
<ellipse cx="309.6" cy="110.1" rx="2.7" ry="2.1" fill="url(#gd)"/>
<ellipse cx="368.0" cy="111.7" rx="1.5" ry="1.2" fill="url(#gd)"/>
<ellipse cx="374.4" cy="111.8" rx="2.6" ry="2.0" fill="url(#gd)"/>
<ellipse cx="365.4" cy="111.6" rx="1.7" ry="1.4" fill="url(#gd)"/>
<ellipse cx="328.2" cy="111.3" rx="1.3" ry="1.0" fill="url(#gd)"/>
<ellipse cx="284.5" cy="112.6" rx="1.1" ry="0.8" fill="url(#gd)"/>
<ellipse cx="245.9" cy="112.0" rx="1.5" ry="1.2" fill="url(#gd)"/>
<ellipse cx="318.7" cy="111.4" rx="1.6" ry="1.3" fill="url(#gd)"/>
<ellipse cx="387.6" cy="110.5" rx="1.7" ry="1.4" fill="url(#gd)"/>
<ellipse cx="269.2" cy="112.0" rx="1.5" ry="1.2" fill="url(#gd)"/>
<ellipse cx="292.0" cy="112.4" rx="1.6" ry="1.2" fill="url(#gd)"/>
<ellipse cx="322.2" cy="113.0" rx="1.2" ry="0.9" fill="url(#gd)"/>
<path d="M219.0,165.5 L219.0,156.6 L219.5,155.8 L220.0,155.1 L220.5,154.6 L221.0,154.4 L221.5,154.5 L222.0,154.9 L222.5,155.3 L223.0,155.7 L223.5,155.9 L224.0,155.8 L224.5,155.5 L225.0,155.0 L225.5,154.3 L226.0,153.2 L226.5,151.7 L227.0,151.5 L227.5,151.5 L228.0,151.5 L228.5,151.8 L229.0,152.5 L229.5,152.2 L230.0,151.5 L230.5,151.5 L231.0,152.6 L231.5,154.6 L232.0,156.6 L232.5,158.0 L233.0,158.8 L233.5,159.2 L234.0,159.4 L234.5,159.4 L235.0,159.5 L235.5,159.5 L236.0,159.5 L236.5,159.5 L237.0,159.5 L237.5,159.5 L238.0,159.4 L238.5,159.3 L239.0,159.0 L239.5,158.6 L240.0,157.9 L240.5,157.0 L241.0,156.0 L241.5,155.2 L242.0,154.9 L242.5,155.0 L243.0,155.6 L243.5,156.6 L244.0,157.5 L244.5,158.3 L245.0,158.8 L245.5,159.2 L246.0,159.3 L246.5,159.3 L247.0,159.2 L247.5,159.0 L248.0,158.6 L248.5,158.1 L249.0,157.4 L249.5,156.8 L250.0,156.3 L250.5,156.0 L251.0,156.0 L251.5,156.4 L252.0,156.9 L252.5,157.5 L253.0,158.1 L253.5,158.6 L254.0,159.0 L254.5,159.2 L255.0,159.4 L255.5,159.4 L256.0,159.5 L256.5,159.5 L257.0,159.5 L257.5,159.5 L258.0,159.5 L258.5,159.4 L259.0,159.4 L259.5,159.3 L260.0,159.2 L260.5,159.1 L261.0,158.9 L261.5,158.8 L262.0,158.7 L262.5,158.6 L263.0,158.6 L263.5,158.6 L264.0,158.6 L264.5,158.7 L265.0,158.7 L265.5,158.6 L266.0,158.4 L266.5,158.2 L267.0,158.1 L267.5,158.2 L268.0,158.5 L268.5,158.8 L269.0,158.9 L269.5,158.8 L270.0,158.5 L270.5,158.0 L271.0,157.4 L271.5,156.7 L272.0,156.1 L272.5,155.5 L273.0,155.1 L273.5,154.9 L274.0,154.9 L274.5,155.2 L275.0,155.8 L275.5,156.4 L276.0,157.0 L276.5,157.5 L277.0,157.9 L277.5,158.1 L278.0,157.9 L278.5,157.5 L279.0,156.8 L279.5,155.9 L280.0,154.6 L280.5,153.3 L281.0,152.0 L281.5,151.5 L282.0,151.5 L282.5,151.5 L283.0,151.5 L283.5,152.3 L284.0,153.6 L284.5,154.8 L285.0,155.7 L285.5,156.1 L286.0,156.2 L286.5,156.0 L287.0,155.8 L287.5,155.7 L288.0,155.9 L288.5,156.4 L289.0,157.0 L289.5,157.6 L290.0,158.2 L290.5,158.6 L291.0,158.8 L291.5,158.9 L292.0,158.7 L292.5,158.4 L293.0,157.9 L293.5,157.2 L294.0,156.3 L294.5,155.3 L295.0,154.4 L295.5,153.5 L296.0,152.8 L296.5,152.2 L297.0,151.5 L297.5,151.5 L298.0,151.5 L298.5,151.5 L299.0,151.5 L299.5,153.5 L300.0,155.7 L300.5,157.4 L301.0,158.3 L301.5,158.4 L302.0,158.0 L302.5,157.4 L303.0,157.2 L303.5,157.6 L304.0,158.3 L304.5,159.0 L305.0,159.3 L305.5,159.4 L306.0,159.4 L306.5,159.4 L307.0,159.4 L307.5,159.4 L308.0,159.3 L308.5,159.3 L309.0,159.2 L309.5,158.8 L310.0,157.8 L310.5,156.3 L311.0,154.5 L311.5,153.0 L312.0,152.6 L312.5,153.6 L313.0,155.6 L313.5,157.5 L314.0,158.7 L314.5,159.2 L315.0,159.4 L315.5,159.5 L316.0,159.5 L316.5,159.5 L317.0,159.5 L317.5,159.5 L318.0,159.5 L318.5,159.5 L319.0,159.5 L319.5,159.5 L320.0,159.5 L320.5,159.5 L321.0,159.5 L321.5,159.5 L322.0,159.5 L322.5,159.5 L323.0,159.5 L323.5,159.5 L324.0,159.5 L324.5,159.5 L325.0,159.5 L325.5,159.5 L326.0,159.5 L326.5,159.5 L327.0,159.5 L327.5,159.5 L328.0,159.5 L328.5,159.5 L329.0,159.5 L329.5,159.5 L330.0,159.5 L330.5,159.5 L331.0,159.5 L331.5,159.5 L332.0,159.5 L332.5,159.4 L333.0,159.3 L333.5,159.1 L334.0,158.6 L334.5,158.0 L335.0,157.6 L335.5,157.4 L336.0,157.7 L336.5,158.1 L337.0,158.3 L337.5,158.3 L338.0,157.9 L338.5,157.2 L339.0,156.4 L339.5,155.4 L340.0,154.4 L340.5,153.4 L341.0,152.5 L341.5,151.9 L342.0,151.6 L342.5,151.7 L343.0,152.3 L343.5,153.3 L344.0,154.4 L344.5,155.6 L345.0,156.7 L345.5,157.5 L346.0,158.0 L346.5,158.1 L347.0,158.0 L347.5,157.7 L348.0,157.2 L348.5,156.5 L349.0,155.7 L349.5,154.9 L350.0,154.2 L350.5,153.8 L351.0,153.8 L351.5,154.1 L352.0,154.8 L352.5,155.6 L353.0,156.4 L353.5,157.3 L354.0,157.9 L354.5,158.5 L355.0,158.8 L355.5,159.0 L356.0,159.1 L356.5,159.1 L357.0,159.0 L357.5,158.8 L358.0,158.6 L358.5,158.4 L359.0,158.3 L359.5,158.2 L360.0,158.1 L360.5,158.2 L361.0,158.3 L361.5,158.4 L362.0,158.5 L362.5,158.6 L363.0,158.6 L363.5,158.5 L364.0,158.3 L364.5,157.9 L365.0,157.5 L365.5,157.0 L366.0,156.6 L366.5,156.3 L367.0,156.2 L367.5,156.3 L368.0,156.6 L368.5,157.1 L369.0,157.6 L369.5,158.1 L370.0,158.5 L370.5,158.8 L371.0,159.0 L371.5,159.1 L372.0,159.0 L372.5,158.7 L373.0,158.5 L373.5,158.3 L374.0,158.4 L374.5,158.6 L375.0,158.8 L375.5,159.1 L376.0,159.2 L376.5,159.3 L377.0,159.3 L377.5,159.4 L378.0,159.4 L378.5,159.3 L379.0,159.2 L379.5,159.0 L380.0,158.6 L380.5,158.1 L381.0,157.4 L381.5,156.5 L382.0,155.5 L382.5,154.4 L383.0,152.8 L383.5,151.5 L384.0,151.5 L384.5,151.5 L385.0,151.5 L385.5,151.5 L386.0,151.8 L386.5,154.8 L387.0,156.8 L387.5,157.9 L388.0,158.6 L388.5,159.0 L389.0,159.2 L389.5,159.3 L390.0,159.3 L390.5,159.3 L391.0,159.3 L391.5,159.2 L392.0,159.1 L392.5,159.1 L393.0,159.1 L393.5,159.1 L394.0,159.1 L394.5,159.1 L395.0,159.2 L395.5,159.2 L396.0,159.3 L396.5,159.3 L397.0,159.3 L397.5,159.2 L398.0,159.1 L398.5,158.8 L399.0,158.5 L399.5,158.0 L400.0,157.4 L400.5,156.7 L401.0,156.1 L401.5,155.5 L402.0,155.0 L402.5,154.7 L403.0,154.4 L403.5,154.2 L404.0,153.9 L404.5,153.4 L405.0,152.8 L405.5,152.5 L406.0,152.5 L406.5,153.2 L407.0,154.4 L407.5,155.9 L408.0,157.3 L408.0,165.5 Z" fill="url(#gfloor)"/>
<line x1="238.4" y1="146.3" x2="238.4" y2="162.5" stroke="#dcae90" stroke-width="0.5"/>
<line x1="292.0" y1="148.3" x2="292.0" y2="162.5" stroke="#dcae90" stroke-width="0.5"/>
<line x1="279.3" y1="143.9" x2="279.3" y2="162.5" stroke="#dcae90" stroke-width="0.5"/>
<line x1="311.1" y1="149.7" x2="311.1" y2="162.5" stroke="#dcae90" stroke-width="0.5"/>
<line x1="240.2" y1="142.9" x2="240.2" y2="162.5" stroke="#dcae90" stroke-width="0.5"/>
<line x1="335.4" y1="149.1" x2="335.4" y2="162.5" stroke="#dcae90" stroke-width="0.5"/>
<line x1="315.8" y1="145.5" x2="315.8" y2="162.5" stroke="#dcae90" stroke-width="0.5"/>
<line x1="378.3" y1="148.2" x2="378.3" y2="162.5" stroke="#dcae90" stroke-width="0.5"/>
<path d="M221.4,165.5 C221.4,160.9 221.9,157.5 222.0,155.2 C222.1,151.8 223.2,147.7 223.2,144.3 L225.6,144.3 C225.6,147.7 226.7,151.8 226.8,155.2 C226.9,157.5 227.4,160.9 227.4,165.5 Z" fill="url(#gp)"/>
<ellipse cx="224.4" cy="142.7" rx="3.3" ry="3.2" fill="url(#gc)"/>
<path d="M383.5,165.5 C383.5,161.3 384.0,158.2 384.1,156.1 C384.2,153.0 385.4,148.2 385.4,145.8 L387.6,145.8 C387.6,148.2 388.8,153.0 388.9,156.1 C389.1,158.2 389.5,161.3 389.5,165.5 Z" fill="url(#gp)"/>
<ellipse cx="386.5" cy="144.6" rx="2.4" ry="2.3" fill="url(#gc)"/>
<path d="M270.5,165.5 C270.5,161.3 271.0,158.2 271.2,156.1 C271.3,153.0 272.4,149.7 272.4,146.4 L275.4,146.4 C275.4,149.7 276.6,153.0 276.7,156.1 C276.8,158.2 277.4,161.3 277.4,165.5 Z" fill="url(#gp)"/>
<ellipse cx="273.9" cy="144.7" rx="3.3" ry="3.1" fill="url(#gc)"/>
<path d="M317.9,165.5 C317.9,161.8 318.3,159.1 318.5,157.3 C318.6,154.5 319.7,150.8 319.7,148.4 L322.0,148.4 C322.0,150.8 323.1,154.5 323.3,157.3 C323.4,159.1 323.9,161.8 323.9,165.5 Z" fill="url(#gp)"/>
<ellipse cx="320.9" cy="147.2" rx="2.4" ry="2.3" fill="url(#gc)"/>
<path d="M292.7,165.5 C292.7,162.1 293.2,159.5 293.3,157.8 C293.4,155.2 294.2,153.3 294.2,150.0 L296.4,150.0 C296.4,153.3 297.3,155.2 297.4,157.8 C297.5,159.5 297.9,162.1 297.9,165.5 Z" fill="url(#gp)"/>
<ellipse cx="295.3" cy="148.4" rx="3.3" ry="3.2" fill="url(#gc)"/>
<path d="M273.0,165.5 C273.0,162.4 273.6,160.1 273.7,158.6 C273.8,156.3 275.0,153.9 275.0,151.4 L277.8,151.4 C277.8,153.9 279.0,156.3 279.1,158.6 C279.2,160.1 279.8,162.4 279.8,165.5 Z" fill="url(#gp)"/>
<ellipse cx="276.4" cy="150.2" rx="2.5" ry="2.3" fill="url(#gc)"/>
<path d="M242.7,165.5 C242.7,162.5 243.1,160.3 243.2,158.8 C243.3,156.6 244.1,155.6 244.1,152.3 L246.4,152.3 C246.4,155.6 247.2,156.6 247.3,158.8 C247.4,160.3 247.8,162.5 247.8,165.5 Z" fill="url(#gp)"/>
<ellipse cx="245.3" cy="150.6" rx="3.3" ry="3.2" fill="url(#gc)"/>
<path d="M398.2,165.5 C398.2,162.6 398.6,160.4 398.7,158.9 C398.8,156.7 399.2,155.4 399.2,152.4 L402.0,152.4 C402.0,155.4 402.5,156.7 402.6,158.9 C402.7,160.4 403.1,162.6 403.1,165.5 Z" fill="url(#gp)"/>
<ellipse cx="400.6" cy="150.9" rx="3.0" ry="2.9" fill="url(#gc)"/>
<path d="M366.1,165.5 C366.1,162.7 366.5,160.5 366.6,159.1 C366.8,157.0 367.5,155.1 367.5,152.5 L370.5,152.5 C370.5,155.1 371.2,157.0 371.3,159.1 C371.5,160.5 371.9,162.7 371.9,165.5 Z" fill="url(#gp)"/>
<ellipse cx="369.0" cy="151.3" rx="2.6" ry="2.5" fill="url(#gc)"/>
<path d="M380.2,165.5 C380.2,162.7 380.7,160.5 380.8,159.1 C380.9,157.0 382.0,154.9 382.0,152.5 L384.2,152.5 C384.2,154.9 385.3,157.0 385.4,159.1 C385.6,160.5 386.0,162.7 386.0,165.5 Z" fill="url(#gp)"/>
<ellipse cx="383.1" cy="151.3" rx="2.4" ry="2.3" fill="url(#gc)"/>
<path d="M392.3,165.5 C392.3,162.7 392.7,160.5 392.8,159.1 C392.9,157.0 393.5,155.0 393.5,152.6 L395.8,152.6 C395.8,155.0 396.4,157.0 396.5,159.1 C396.6,160.5 396.9,162.7 396.9,165.5 Z" fill="url(#gp)"/>
<ellipse cx="394.6" cy="151.3" rx="2.4" ry="2.3" fill="url(#gc)"/>
<path d="M232.3,165.5 C232.3,162.8 232.6,160.7 232.7,159.4 C232.8,157.3 233.1,155.8 233.1,153.1 L236.1,153.1 C236.1,155.8 236.3,157.3 236.4,159.4 C236.5,160.7 236.9,162.8 236.9,165.5 Z" fill="url(#gp)"/>
<ellipse cx="234.6" cy="151.8" rx="2.6" ry="2.5" fill="url(#gc)"/>
<path d="M253.6,165.5 C253.6,162.9 254.1,160.9 254.2,159.5 C254.4,157.6 255.6,156.9 255.6,153.8 L258.3,153.8 C258.3,156.9 259.5,157.6 259.6,159.5 C259.8,160.9 260.3,162.9 260.3,165.5 Z" fill="url(#gp)"/>
<ellipse cx="256.9" cy="152.3" rx="3.1" ry="2.9" fill="url(#gc)"/>
<path d="M372.0,165.5 C372.0,162.9 372.5,160.9 372.7,159.5 C372.8,157.6 373.6,157.2 373.6,153.9 L376.6,153.9 C376.6,157.2 377.4,157.6 377.6,159.5 C377.7,160.9 378.2,162.9 378.2,165.5 Z" fill="url(#gp)"/>
<ellipse cx="375.1" cy="152.3" rx="3.3" ry="3.1" fill="url(#gc)"/>
<path d="M386.9,165.5 C386.9,162.9 387.4,160.9 387.5,159.6 C387.6,157.6 388.7,156.9 388.7,153.8 L391.3,153.8 C391.3,156.9 392.4,157.6 392.5,159.6 C392.7,160.9 393.2,162.9 393.2,165.5 Z" fill="url(#gp)"/>
<ellipse cx="390.0" cy="152.3" rx="3.1" ry="2.9" fill="url(#gc)"/>
<path d="M348.2,165.5 C348.2,162.9 348.7,160.9 348.8,159.6 C349.0,157.6 350.1,156.6 350.1,153.7 L352.6,153.7 C352.6,156.6 353.8,157.6 353.9,159.6 C354.0,160.9 354.5,162.9 354.5,165.5 Z" fill="url(#gp)"/>
<ellipse cx="351.4" cy="152.3" rx="2.9" ry="2.7" fill="url(#gc)"/>
<path d="M219.1,165.5 C219.1,162.9 219.5,160.9 219.6,159.6 C219.7,157.6 220.1,156.6 220.1,153.8 L223.0,153.8 C223.0,156.6 223.4,157.6 223.5,159.6 C223.6,160.9 224.0,162.9 224.0,165.5 Z" fill="url(#gp)"/>
<ellipse cx="221.5" cy="152.3" rx="2.8" ry="2.7" fill="url(#gc)"/>
<path d="M331.5,165.5 C331.5,162.9 331.9,160.9 332.0,159.6 C332.1,157.6 332.8,157.2 332.8,154.0 L335.0,154.0 C335.0,157.2 335.6,157.6 335.7,159.6 C335.8,160.9 336.2,162.9 336.2,165.5 Z" fill="url(#gp)"/>
<ellipse cx="333.9" cy="152.3" rx="3.3" ry="3.1" fill="url(#gc)"/>
<path d="M260.8,165.5 C260.8,162.9 261.2,160.9 261.3,159.6 C261.4,157.7 262.2,157.0 262.2,154.0 L264.5,154.0 C264.5,157.0 265.3,157.7 265.4,159.6 C265.5,160.9 265.9,162.9 265.9,165.5 Z" fill="url(#gp)"/>
<ellipse cx="263.3" cy="152.4" rx="3.1" ry="2.9" fill="url(#gc)"/>
<path d="M338.9,165.5 C338.9,162.9 339.4,160.9 339.5,159.6 C339.7,157.7 341.0,156.5 341.0,153.8 L343.4,153.8 C343.4,156.5 344.7,157.7 344.9,159.6 C345.0,160.9 345.5,162.9 345.5,165.5 Z" fill="url(#gp)"/>
<ellipse cx="342.2" cy="152.5" rx="2.7" ry="2.6" fill="url(#gc)"/>
<path d="M375.4,165.5 C375.4,162.9 375.8,161.0 375.9,159.7 C376.0,157.8 377.1,157.6 377.1,154.3 L379.2,154.3 C379.2,157.6 380.3,157.8 380.4,159.7 C380.5,161.0 380.9,162.9 380.9,165.5 Z" fill="url(#gp)"/>
<ellipse cx="378.1" cy="152.7" rx="3.3" ry="3.1" fill="url(#gc)"/>
<path d="M235.6,165.5 C235.6,163.0 236.0,161.1 236.1,159.9 C236.2,158.0 236.4,156.7 236.4,154.3 L239.4,154.3 C239.4,156.7 239.6,158.0 239.7,159.9 C239.8,161.1 240.2,163.0 240.2,165.5 Z" fill="url(#gp)"/>
<ellipse cx="237.9" cy="153.0" rx="2.5" ry="2.3" fill="url(#gc)"/>
<path d="M390.6,165.5 C390.6,163.0 391.0,161.1 391.1,159.9 C391.2,158.0 391.7,157.9 391.7,154.6 L394.5,154.6 C394.5,157.9 394.9,158.0 395.0,159.9 C395.1,161.1 395.5,163.0 395.5,165.5 Z" fill="url(#gp)"/>
<ellipse cx="393.1" cy="153.0" rx="3.2" ry="3.0" fill="url(#gc)"/>
<path d="M373.5,165.5 C373.5,163.0 373.9,161.2 374.0,160.0 C374.1,158.1 374.8,157.4 374.8,154.6 L377.4,154.6 C377.4,157.4 378.0,158.1 378.1,160.0 C378.2,161.2 378.6,163.0 378.6,165.5 Z" fill="url(#gp)"/>
<ellipse cx="376.1" cy="153.2" rx="2.8" ry="2.7" fill="url(#gc)"/>
<path d="M331.4,165.5 C331.4,163.1 331.9,161.2 332.0,160.0 C332.1,158.2 333.4,158.1 333.4,154.9 L335.6,154.9 C335.6,158.1 336.9,158.2 337.0,160.0 C337.2,161.2 337.7,163.1 337.7,165.5 Z" fill="url(#gp)"/>
<ellipse cx="334.5" cy="153.3" rx="3.2" ry="3.0" fill="url(#gc)"/>
<path d="M386.8,165.5 C386.8,163.1 387.3,161.3 387.5,160.1 C387.6,158.3 388.9,158.5 388.9,155.2 L391.6,155.2 C391.6,158.5 392.9,158.3 393.1,160.1 C393.2,161.3 393.8,163.1 393.8,165.5 Z" fill="url(#gp)"/>
<ellipse cx="390.3" cy="153.5" rx="3.3" ry="3.1" fill="url(#gc)"/>
<path d="M350.2,165.5 C350.2,163.1 350.7,161.3 350.9,160.2 C351.0,158.4 352.4,158.5 352.4,155.2 L354.8,155.2 C354.8,158.5 356.2,158.4 356.3,160.2 C356.5,161.3 357.0,163.1 357.0,165.5 Z" fill="url(#gp)"/>
<ellipse cx="353.6" cy="153.6" rx="3.2" ry="3.1" fill="url(#gc)"/>
<path d="M318.6,165.5 C318.6,163.1 319.1,161.4 319.2,160.2 C319.4,158.4 320.6,157.3 320.6,154.9 L323.2,154.9 C323.2,157.3 324.4,158.4 324.5,160.2 C324.6,161.4 325.2,163.1 325.2,165.5 Z" fill="url(#gp)"/>
<ellipse cx="321.9" cy="153.6" rx="2.4" ry="2.3" fill="url(#gc)"/>
<path d="M245.2,165.5 C245.2,163.1 245.7,161.4 245.9,160.2 C246.0,158.4 246.8,157.7 246.8,155.0 L249.7,155.0 C249.7,157.7 250.6,158.4 250.7,160.2 C250.8,161.4 251.3,163.1 251.3,165.5 Z" fill="url(#gp)"/>
<ellipse cx="248.3" cy="153.7" rx="2.6" ry="2.5" fill="url(#gc)"/>
<path d="M280.4,165.5 C280.4,163.2 280.9,161.5 281.0,160.4 C281.2,158.6 282.0,158.5 282.0,155.5 L284.9,155.5 C284.9,158.5 285.8,158.6 285.9,160.4 C286.0,161.5 286.5,163.2 286.5,165.5 Z" fill="url(#gp)"/>
<ellipse cx="283.5" cy="154.1" rx="3.0" ry="2.8" fill="url(#gc)"/>
<path d="M310.3,165.5 C310.3,163.3 310.7,161.6 310.8,160.5 C310.9,158.8 311.3,158.2 311.3,155.6 L313.9,155.6 C313.9,158.2 314.4,158.8 314.5,160.5 C314.5,161.6 314.9,163.3 314.9,165.5 Z" fill="url(#gp)"/>
<ellipse cx="312.6" cy="154.3" rx="2.6" ry="2.5" fill="url(#gc)"/>
<path d="M286.4,165.5 C286.4,163.3 286.9,161.6 287.0,160.5 C287.2,158.8 288.4,158.3 288.4,155.6 L291.0,155.6 C291.0,158.3 292.2,158.8 292.3,160.5 C292.5,161.6 293.0,163.3 293.0,165.5 Z" fill="url(#gp)"/>
<ellipse cx="289.7" cy="154.3" rx="2.6" ry="2.5" fill="url(#gc)"/>
<path d="M246.6,165.5 C246.6,163.3 247.1,161.6 247.3,160.5 C247.4,158.8 248.7,158.4 248.7,155.7 L251.3,155.7 C251.3,158.4 252.5,158.8 252.7,160.5 C252.8,161.6 253.3,163.3 253.3,165.5 Z" fill="url(#gp)"/>
<ellipse cx="250.0" cy="154.4" rx="2.7" ry="2.5" fill="url(#gc)"/>
<path d="M355.8,165.5 C355.8,163.3 356.3,161.7 356.5,160.6 C356.6,159.0 357.7,159.6 357.7,156.3 L360.6,156.3 C360.6,159.6 361.6,159.0 361.7,160.6 C361.9,161.7 362.4,163.3 362.4,165.5 Z" fill="url(#gp)"/>
<ellipse cx="359.1" cy="154.6" rx="3.3" ry="3.1" fill="url(#gc)"/>
<path d="M282.3,165.5 C282.3,163.3 282.9,161.7 283.0,160.6 C283.1,159.0 284.4,159.3 284.4,156.2 L287.0,156.2 C287.0,159.3 288.2,159.0 288.4,160.6 C288.5,161.7 289.0,163.3 289.0,165.5 Z" fill="url(#gp)"/>
<ellipse cx="285.7" cy="154.7" rx="3.1" ry="2.9" fill="url(#gc)"/>
<path d="M284.9,165.5 C284.9,163.4 285.3,161.8 285.5,160.8 C285.6,159.2 286.6,160.0 286.6,156.7 L289.1,156.7 C289.1,160.0 290.1,159.2 290.3,160.8 C290.4,161.8 290.9,163.4 290.9,165.5 Z" fill="url(#gp)"/>
<ellipse cx="287.9" cy="155.0" rx="3.4" ry="3.2" fill="url(#gc)"/>
<path d="M339.0,165.5 C339.0,163.4 339.4,161.8 339.5,160.8 C339.6,159.2 340.6,159.7 340.6,156.6 L342.7,156.6 C342.7,159.7 343.7,159.2 343.8,160.8 C344.0,161.8 344.4,163.4 344.4,165.5 Z" fill="url(#gp)"/>
<ellipse cx="341.7" cy="155.1" rx="3.1" ry="2.9" fill="url(#gc)"/>
<path d="M334.2,165.5 C334.2,163.4 334.7,161.9 334.8,160.8 C334.9,159.2 335.8,159.5 335.8,156.6 L338.3,156.6 C338.3,159.5 339.2,159.2 339.4,160.8 C339.5,161.9 339.9,163.4 339.9,165.5 Z" fill="url(#gp)"/>
<ellipse cx="337.1" cy="155.1" rx="3.0" ry="2.8" fill="url(#gc)"/>
<path d="M386.1,165.5 C386.1,163.5 386.5,161.9 386.6,160.9 C386.7,159.4 387.6,158.9 387.6,156.5 L389.8,156.5 C389.8,158.9 390.6,159.4 390.7,160.9 C390.8,161.9 391.2,163.5 391.2,165.5 Z" fill="url(#gp)"/>
<ellipse cx="388.7" cy="155.3" rx="2.4" ry="2.3" fill="url(#gc)"/>
<path d="M391.7,165.5 C391.7,163.5 392.2,162.1 392.4,161.1 C392.5,159.6 393.5,160.3 393.5,157.2 L396.4,157.2 C396.4,160.3 397.4,159.6 397.5,161.1 C397.7,162.1 398.2,163.5 398.2,165.5 Z" fill="url(#gp)"/>
<ellipse cx="395.0" cy="155.7" rx="3.1" ry="2.9" fill="url(#gc)"/>
<path d="M244.3,165.5 C244.3,163.6 244.7,162.1 244.7,161.1 C244.8,159.7 245.2,160.6 245.2,157.4 L248.2,157.4 C248.2,160.6 248.5,159.7 248.6,161.1 C248.7,162.1 249.1,163.6 249.1,165.5 Z" fill="url(#gp)"/>
<ellipse cx="246.7" cy="155.8" rx="3.2" ry="3.0" fill="url(#gc)"/>
<path d="M379.0,165.5 C379.0,163.6 379.4,162.1 379.6,161.2 C379.7,159.7 380.9,160.7 380.9,157.5 L382.9,157.5 C382.9,160.7 384.1,159.7 384.2,161.2 C384.3,162.1 384.7,163.6 384.7,165.5 Z" fill="url(#gp)"/>
<ellipse cx="381.9" cy="155.9" rx="3.2" ry="3.1" fill="url(#gc)"/>
<path d="M371.8,165.5 C371.8,163.6 372.3,162.2 372.4,161.2 C372.5,159.8 373.5,159.5 373.5,157.2 L376.1,157.2 C376.1,159.5 377.1,159.8 377.3,161.2 C377.4,162.2 377.9,163.6 377.9,165.5 Z" fill="url(#gp)"/>
<ellipse cx="374.8" cy="156.0" rx="2.3" ry="2.2" fill="url(#gc)"/>
<path d="M244.1,165.5 C244.1,163.6 244.6,162.2 244.7,161.3 C244.9,159.8 246.3,160.3 246.3,157.5 L248.3,157.5 C248.3,160.3 249.7,159.8 249.8,161.3 C249.9,162.2 250.4,163.6 250.4,165.5 Z" fill="url(#gp)"/>
<ellipse cx="247.3" cy="156.1" rx="2.8" ry="2.7" fill="url(#gc)"/>
<path d="M230.5,165.5 C230.5,163.7 230.9,162.4 231.0,161.5 C231.1,160.2 231.8,161.5 231.8,158.2 L234.1,158.2 C234.1,161.5 234.8,160.2 234.9,161.5 C235.0,162.4 235.4,163.7 235.4,165.5 Z" fill="url(#gp)"/>
<ellipse cx="232.9" cy="156.6" rx="3.3" ry="3.1" fill="url(#gc)"/>
<path d="M328.7,165.5 C328.7,163.7 329.2,162.4 329.4,161.6 C329.5,160.2 330.5,160.7 330.5,158.0 L333.3,158.0 C333.3,160.7 334.3,160.2 334.5,161.6 C334.6,162.4 335.1,163.7 335.1,165.5 Z" fill="url(#gp)"/>
<ellipse cx="331.9" cy="156.7" rx="2.6" ry="2.5" fill="url(#gc)"/>
<path d="M250.8,165.5 C250.8,163.8 251.2,162.4 251.4,161.6 C251.5,160.3 252.2,160.3 252.2,157.9 L254.8,157.9 C254.8,160.3 255.6,160.3 255.7,161.6 C255.8,162.4 256.3,163.8 256.3,165.5 Z" fill="url(#gp)"/>
<ellipse cx="253.5" cy="156.8" rx="2.3" ry="2.2" fill="url(#gc)"/>
<path d="M221.5,165.5 C221.5,163.8 221.9,162.6 222.0,161.7 C222.1,160.5 222.8,161.8 222.8,158.7 L225.7,158.7 C225.7,161.8 226.3,160.5 226.5,161.7 C226.6,162.6 227.0,163.8 227.0,165.5 Z" fill="url(#gp)"/>
<ellipse cx="224.2" cy="157.1" rx="3.1" ry="3.0" fill="url(#gc)"/>
<path d="M367.3,165.5 C367.3,163.8 367.9,162.6 368.0,161.7 C368.1,160.5 369.5,161.7 369.5,158.7 L371.8,158.7 C371.8,161.7 373.2,160.5 373.3,161.7 C373.4,162.6 374.0,163.8 374.0,165.5 Z" fill="url(#gp)"/>
<ellipse cx="370.6" cy="157.1" rx="3.1" ry="2.9" fill="url(#gc)"/>
<path d="M359.9,165.5 C359.9,163.9 360.4,162.7 360.5,161.9 C360.6,160.6 361.7,161.6 361.7,158.8 L364.5,158.8 C364.5,161.6 365.6,160.6 365.7,161.9 C365.8,162.7 366.3,163.9 366.3,165.5 Z" fill="url(#gp)"/>
<ellipse cx="363.1" cy="157.4" rx="2.8" ry="2.6" fill="url(#gc)"/>
<path d="M334.6,165.5 C334.6,163.9 335.0,162.7 335.1,161.9 C335.2,160.7 336.1,162.4 336.1,159.1 L338.1,159.1 C338.1,162.4 339.0,160.7 339.1,161.9 C339.2,162.7 339.6,163.9 339.6,165.5 Z" fill="url(#gp)"/>
<ellipse cx="337.1" cy="157.5" rx="3.3" ry="3.1" fill="url(#gc)"/>
<ellipse cx="394.3" cy="160.9" rx="1.9" ry="0.6" fill="#8e97a6" opacity="0.55"/>
<ellipse cx="280.1" cy="162.6" rx="1.2" ry="0.7" fill="#d9a98e" opacity="0.55"/>
<ellipse cx="295.4" cy="162.5" rx="1.7" ry="0.8" fill="#c98f77" opacity="0.55"/>
<ellipse cx="236.2" cy="164.4" rx="1.0" ry="0.5" fill="#e0bda8" opacity="0.55"/>
<ellipse cx="394.7" cy="160.8" rx="1.1" ry="0.8" fill="#d9a98e" opacity="0.55"/>
<ellipse cx="340.7" cy="159.5" rx="1.6" ry="0.5" fill="#d9a98e" opacity="0.55"/>
<ellipse cx="265.7" cy="163.7" rx="1.0" ry="1.0" fill="#c98f77" opacity="0.55"/>
<ellipse cx="382.5" cy="162.4" rx="1.0" ry="0.8" fill="#e0bda8" opacity="0.55"/>
<ellipse cx="388.1" cy="163.2" rx="1.9" ry="0.9" fill="#e0bda8" opacity="0.55"/>
<ellipse cx="269.2" cy="162.5" rx="1.7" ry="0.8" fill="#c98f77" opacity="0.55"/>
<ellipse cx="404.4" cy="160.3" rx="1.9" ry="0.4" fill="#d9a98e" opacity="0.55"/>
<ellipse cx="397.9" cy="162.9" rx="2.2" ry="0.4" fill="#c98f77" opacity="0.55"/>
<ellipse cx="351.7" cy="162.8" rx="2.0" ry="0.5" fill="#e0bda8" opacity="0.55"/>
<ellipse cx="369.2" cy="161.5" rx="1.6" ry="0.7" fill="#c98f77" opacity="0.55"/>
<ellipse cx="287.7" cy="163.2" rx="2.0" ry="0.9" fill="#d9a98e" opacity="0.55"/>
<ellipse cx="253.9" cy="161.3" rx="1.2" ry="0.6" fill="#e0bda8" opacity="0.55"/>
<ellipse cx="395.6" cy="162.9" rx="1.3" ry="0.7" fill="#d9a98e" opacity="0.55"/>
<ellipse cx="396.6" cy="160.5" rx="1.3" ry="1.0" fill="#e0bda8" opacity="0.55"/>
<ellipse cx="224.0" cy="160.1" rx="1.2" ry="0.8" fill="#c98f77" opacity="0.55"/>
<ellipse cx="395.5" cy="162.0" rx="0.9" ry="0.6" fill="#8e97a6" opacity="0.55"/>
<ellipse cx="250.6" cy="164.5" rx="1.7" ry="0.6" fill="#d9a98e" opacity="0.55"/>
<ellipse cx="303.5" cy="160.2" rx="0.8" ry="0.9" fill="#8e97a6" opacity="0.55"/>
<ellipse cx="259.5" cy="161.2" rx="1.6" ry="0.4" fill="#d9a98e" opacity="0.55"/>
<ellipse cx="310.1" cy="164.4" rx="1.5" ry="0.5" fill="#e0bda8" opacity="0.55"/>
<ellipse cx="332.2" cy="162.5" rx="1.8" ry="0.4" fill="#8e97a6" opacity="0.55"/>
<ellipse cx="263.3" cy="162.4" rx="1.7" ry="0.5" fill="#c98f77" opacity="0.55"/>
<ellipse cx="263.7" cy="163.2" rx="1.6" ry="0.6" fill="#c98f77" opacity="0.55"/>
<ellipse cx="393.6" cy="163.7" rx="1.7" ry="0.7" fill="#c98f77" opacity="0.55"/>
<ellipse cx="268.2" cy="161.2" rx="1.6" ry="0.7" fill="#c98f77" opacity="0.55"/>
<ellipse cx="326.7" cy="163.8" rx="1.5" ry="0.9" fill="#d9a98e" opacity="0.55"/>
<ellipse cx="385.1" cy="162.5" rx="2.2" ry="0.5" fill="#e0bda8" opacity="0.55"/>
<ellipse cx="331.6" cy="159.8" rx="1.9" ry="0.9" fill="#d9a98e" opacity="0.55"/>
<ellipse cx="352.6" cy="159.7" rx="2.0" ry="0.5" fill="#e0bda8" opacity="0.55"/>
<ellipse cx="269.2" cy="159.8" rx="1.5" ry="0.9" fill="#e0bda8" opacity="0.55"/>
<ellipse cx="340.2" cy="163.3" rx="1.5" ry="0.9" fill="#d9a98e" opacity="0.55"/>
<ellipse cx="386.1" cy="160.9" rx="1.4" ry="0.4" fill="#c98f77" opacity="0.55"/>
<ellipse cx="233.5" cy="161.7" rx="0.9" ry="0.7" fill="#d9a98e" opacity="0.55"/>
<ellipse cx="376.8" cy="119.4" rx="4.1" ry="3.0" fill="url(#gd)"/>
<ellipse cx="390.0" cy="118.4" rx="4.0" ry="3.0" fill="url(#gd)"/>
<ellipse cx="222.7" cy="116.1" rx="2.6" ry="2.0" fill="url(#gd)"/>
<ellipse cx="238.9" cy="121.1" rx="3.4" ry="2.5" fill="url(#gd)"/>
<ellipse cx="315.4" cy="123.6" rx="3.2" ry="2.4" fill="url(#gd)"/>
<ellipse cx="301.8" cy="116.8" rx="2.3" ry="1.7" fill="url(#gd)"/>
<ellipse cx="281.4" cy="125.1" rx="2.7" ry="2.0" fill="url(#gd)"/>
<ellipse cx="243.6" cy="123.0" rx="3.4" ry="2.5" fill="url(#gm)"/>
<ellipse cx="362.5" cy="117.9" rx="3.2" ry="2.4" fill="url(#gd)"/>
<ellipse cx="287.8" cy="119.7" rx="3.7" ry="2.7" fill="url(#gd)"/>
<ellipse cx="267.3" cy="122.4" rx="3.4" ry="2.5" fill="url(#gd)"/>
<ellipse cx="341.2" cy="121.8" rx="3.2" ry="2.4" fill="url(#gd)"/>
<ellipse cx="257.5" cy="122.8" rx="4.1" ry="3.0" fill="url(#gd)"/>
<ellipse cx="396.8" cy="144.0" rx="3.0" ry="2.2" fill="url(#gg)"/>
<ellipse cx="276.9" cy="135.0" rx="2.7" ry="2.0" fill="url(#gg)"/>
<ellipse cx="289.4" cy="134.4" rx="3.5" ry="2.6" fill="url(#gm)"/>
<ellipse cx="282.1" cy="145.5" rx="3.8" ry="2.8" fill="url(#gg)"/>
<ellipse cx="228.0" cy="149.9" rx="2.0" ry="1.5" fill="url(#gg)"/>
<ellipse cx="323.7" cy="142.4" rx="2.5" ry="1.8" fill="url(#gm)"/>
<ellipse cx="266.2" cy="136.7" rx="3.0" ry="2.2" fill="url(#gg)"/>
<ellipse cx="366.7" cy="130.0" rx="2.2" ry="1.6" fill="url(#gg)"/>
<ellipse cx="301.5" cy="149.9" rx="3.6" ry="2.7" fill="url(#gm)"/>
<ellipse cx="285.9" cy="135.5" rx="3.5" ry="2.6" fill="url(#gg)"/>
<ellipse cx="326.8" cy="144.7" rx="3.1" ry="2.3" fill="url(#gd)"/>
<ellipse cx="355.7" cy="137.5" rx="2.9" ry="2.1" fill="url(#gg)"/>
<ellipse cx="227.0" cy="132.6" rx="2.6" ry="1.9" fill="url(#gg)"/>
<ellipse cx="360.7" cy="144.2" rx="3.9" ry="2.9" fill="url(#gm)"/>
<ellipse cx="294.4" cy="147.6" rx="4.0" ry="3.0" fill="url(#gm)"/>
<ellipse cx="401.3" cy="147.4" rx="3.8" ry="2.8" fill="url(#gg)"/>
<ellipse cx="382.8" cy="143.8" rx="3.3" ry="2.4" fill="url(#gm)"/>
<ellipse cx="283.3" cy="134.3" rx="2.1" ry="1.5" fill="url(#gm)"/>
<ellipse cx="265.6" cy="142.8" rx="2.4" ry="1.8" fill="url(#gm)"/>
<ellipse cx="299.2" cy="135.8" rx="2.9" ry="2.2" fill="url(#gg)"/>
<ellipse cx="224.1" cy="147.0" rx="3.5" ry="2.6" fill="url(#gg)"/>
<ellipse cx="273.3" cy="144.3" rx="2.3" ry="1.7" fill="url(#gg)"/>
<ellipse cx="325.2" cy="143.8" rx="3.5" ry="2.6" fill="url(#gd)"/>
<ellipse cx="366.9" cy="145.0" rx="4.1" ry="3.1" fill="url(#gd)"/>
<ellipse cx="285.7" cy="144.3" rx="3.1" ry="2.3" fill="url(#gm)"/>
<ellipse cx="357.9" cy="147.8" rx="3.5" ry="2.6" fill="url(#gm)"/>
<ellipse cx="340.4" cy="132.1" rx="2.4" ry="1.8" fill="url(#gm)"/>
<ellipse cx="277.8" cy="147.1" rx="2.1" ry="1.6" fill="url(#gm)"/>
<ellipse cx="371.5" cy="131.4" rx="3.8" ry="2.8" fill="url(#gg)"/>
<ellipse cx="233.6" cy="129.2" rx="3.0" ry="2.2" fill="url(#gm)"/>
<ellipse cx="368.1" cy="132.9" rx="2.1" ry="1.6" fill="url(#gg)"/>
<ellipse cx="257.4" cy="128.1" rx="3.8" ry="2.8" fill="url(#gg)"/>
<ellipse cx="285.9" cy="138.6" rx="3.3" ry="2.4" fill="url(#gm)"/>
<ellipse cx="283.9" cy="148.1" rx="3.4" ry="2.5" fill="url(#gg)"/>
<ellipse cx="379.8" cy="130.1" rx="2.7" ry="2.0" fill="url(#gm)"/>
<ellipse cx="259.9" cy="136.5" rx="2.5" ry="1.9" fill="url(#gg)"/>
<ellipse cx="377.6" cy="129.5" rx="3.4" ry="2.5" fill="url(#gm)"/>
<ellipse cx="372.8" cy="144.0" rx="3.5" ry="2.6" fill="url(#gm)"/>
<ellipse cx="241.7" cy="148.2" rx="2.3" ry="1.7" fill="url(#gg)"/>
<ellipse cx="318.4" cy="147.0" rx="3.9" ry="2.9" fill="url(#gm)"/>
<ellipse cx="339.1" cy="133.4" rx="2.6" ry="1.9" fill="url(#gg)"/>
<ellipse cx="383.3" cy="140.4" rx="2.6" ry="1.9" fill="url(#gd)"/>
<ellipse cx="250.8" cy="145.9" rx="3.7" ry="2.7" fill="url(#gd)"/>
<ellipse cx="348.6" cy="149.2" rx="2.9" ry="2.1" fill="url(#gm)"/>
<ellipse cx="256.6" cy="141.5" rx="3.9" ry="2.9" fill="url(#gg)"/>
<ellipse cx="236.8" cy="134.7" rx="3.0" ry="2.2" fill="url(#gm)"/>
<ellipse cx="373.4" cy="134.1" rx="3.7" ry="2.7" fill="url(#gm)"/>
<ellipse cx="271.4" cy="140.8" rx="4.0" ry="3.0" fill="url(#gg)"/>
<ellipse cx="251.8" cy="141.2" rx="3.1" ry="2.3" fill="url(#gg)"/>
<ellipse cx="256.8" cy="143.6" rx="4.1" ry="3.1" fill="url(#gd)"/>
<ellipse cx="361.9" cy="131.6" rx="2.7" ry="2.0" fill="url(#gg)"/>
<ellipse cx="307.1" cy="144.0" rx="3.2" ry="2.3" fill="url(#gg)"/>
<ellipse cx="316.0" cy="136.0" rx="3.8" ry="2.8" fill="url(#gg)"/>
<ellipse cx="348.3" cy="148.1" rx="3.7" ry="2.7" fill="url(#gg)"/>
<ellipse cx="242.5" cy="133.7" rx="3.4" ry="2.6" fill="url(#gm)"/>
<ellipse cx="314.2" cy="148.2" rx="3.1" ry="2.3" fill="url(#gd)"/>
<ellipse cx="290.6" cy="129.9" rx="3.2" ry="2.4" fill="url(#gm)"/>
<ellipse cx="315.0" cy="131.5" rx="2.4" ry="1.8" fill="url(#gg)"/>
<ellipse cx="336.7" cy="135.0" rx="2.9" ry="2.1" fill="url(#gg)"/>
<ellipse cx="277.1" cy="142.7" rx="2.6" ry="1.9" fill="url(#gm)"/>
<ellipse cx="345.1" cy="128.8" rx="2.1" ry="1.6" fill="url(#gg)"/>
<ellipse cx="228.2" cy="146.1" rx="3.1" ry="2.3" fill="url(#gm)"/>
<rect x="219.0" y="165.2" width="190.0" height="1.7" fill="#d81c14"/>
<text x="115.0" y="11.0" font-size="9.6" letter-spacing="0.1" word-spacing="0.5" text-anchor="middle" font-family='"Liberation Serif", serif'>Ca<tspan font-size="7.2" dy="2.2">e</tspan><tspan dy="-2.2"> = 1.6,T</tspan><tspan font-size="7" dy="2.1" font-style="italic">σ</tspan><tspan dy="-2.1"> = 6.4</tspan></text>
<text x="301.0" y="11.0" font-size="9.6" letter-spacing="0.1" word-spacing="0.5" text-anchor="middle" font-family='"Liberation Serif", serif'>Ca<tspan font-size="7.2" dy="2.2">e</tspan><tspan dy="-2.2"> = 1.6,T</tspan><tspan font-size="7" dy="2.1" font-style="italic">σ</tspan><tspan dy="-2.1"> = 12.8</tspan></text>
<text x="115.5" y="97.3" font-size="9.6" letter-spacing="0.1" word-spacing="0.5" text-anchor="middle" font-family='"Liberation Serif", serif'>Ca<tspan font-size="7.2" dy="2.2">e</tspan><tspan dy="-2.2"> = 1.6,T</tspan><tspan font-size="7" dy="2.1" font-style="italic">σ</tspan><tspan dy="-2.1"> = 32.0</tspan></text>
<text x="304.7" y="95.8" font-size="9.6" letter-spacing="0.1" word-spacing="0.5" text-anchor="middle" font-family='"Liberation Serif", serif'>Ca<tspan font-size="7.2" dy="2.2">e</tspan><tspan dy="-2.2"> = 1.6,T</tspan><tspan font-size="7" dy="2.1" font-style="italic">σ</tspan><tspan dy="-2.1"> = 160.0</tspan></text>
<rect x="10.2" y="173.1" width="62.7" height="6.1" fill="url(#gcb)"/>
<text x="2.3" y="177.8" font-size="6.6" font-style="italic" font-family='"Liberation Serif", serif'>T<tspan font-size="5.2" dy="0.9">s</tspan></text>
<text x="76.6" y="177.8" font-size="6.6" font-style="italic" font-family='"Liberation Serif", serif'>T<tspan font-size="5.2" dy="0.9">h</tspan></text>
<rect x="482.10" y="164.40" width="12.22" height="1.60" fill="url(#hatch)" stroke="#222" stroke-width="0.8"/>
<rect x="494.32" y="163.50" width="12.22" height="2.50" fill="url(#hatch)" stroke="#222" stroke-width="0.8"/>
<rect x="506.54" y="162.60" width="12.22" height="3.40" fill="url(#hatch)" stroke="#222" stroke-width="0.8"/>
<rect x="518.76" y="160.20" width="12.22" height="5.80" fill="url(#hatch)" stroke="#222" stroke-width="0.8"/>
<rect x="530.98" y="154.30" width="12.22" height="11.70" fill="url(#hatch)" stroke="#222" stroke-width="0.8"/>
<rect x="543.20" y="152.30" width="12.22" height="13.70" fill="url(#hatch)" stroke="#222" stroke-width="0.8"/>
<rect x="555.42" y="146.40" width="12.22" height="19.60" fill="url(#hatch)" stroke="#222" stroke-width="0.8"/>
<rect x="567.64" y="141.50" width="12.22" height="24.50" fill="url(#hatch)" stroke="#222" stroke-width="0.8"/>
<rect x="579.86" y="135.60" width="12.22" height="30.40" fill="url(#hatch)" stroke="#222" stroke-width="0.8"/>
<rect x="592.08" y="136.60" width="12.22" height="29.40" fill="url(#hatch)" stroke="#222" stroke-width="0.8"/>
<rect x="604.30" y="147.70" width="12.22" height="18.30" fill="url(#hatch)" stroke="#222" stroke-width="0.8"/>
<rect x="616.52" y="159.50" width="12.22" height="6.50" fill="url(#hatch)" stroke="#222" stroke-width="0.8"/>
<rect x="628.74" y="162.20" width="12.22" height="3.80" fill="url(#hatch)" stroke="#222" stroke-width="0.8"/>
<rect x="640.96" y="164.30" width="12.22" height="1.70" fill="url(#hatch)" stroke="#222" stroke-width="0.8"/>
<rect x="653.18" y="165.00" width="12.22" height="1.00" fill="url(#hatch)" stroke="#222" stroke-width="0.8"/>
<g fill="none">
<path d="M470.00,165.50 L470.70,165.64 L471.40,165.77 L472.10,165.89 L472.80,166.00 L473.50,166.11 L474.20,166.20 L474.90,166.28 L475.60,166.35 L476.30,166.40 L477.00,166.45 L477.70,166.49 L478.40,166.52 L479.10,166.54 L479.80,166.54 L480.50,166.54 L481.20,166.53 L481.90,166.50 L482.60,166.47 L483.30,166.42 L484.00,166.37 L484.70,166.30 L485.40,166.22 L486.10,166.14 L486.80,166.04 L487.50,165.93 L488.20,165.81 L488.90,165.68 L489.60,165.54 L490.30,165.39 L491.00,165.23 L491.70,165.05 L492.40,164.87 L493.10,164.68 L493.80,164.47 L494.50,164.26 L495.20,164.03 L495.90,163.80 L496.60,163.55 L497.30,163.29 L498.00,163.02 L498.70,162.74 L499.40,162.45 L500.10,162.15 L500.80,161.84 L501.50,161.52 L502.20,161.18 L502.90,160.84 L503.60,160.48 L504.30,160.12 L505.00,159.74 L505.70,159.35 L506.40,158.95 L507.10,158.54 L507.80,158.12 L508.50,157.69 L509.20,157.25 L509.90,156.79 L510.60,156.33 L511.30,155.85 L512.00,155.37 L512.70,154.87 L513.40,154.36 L514.10,153.84 L514.80,153.31 L515.50,152.77 L516.20,152.21 L516.90,151.65 L517.60,151.07 L518.30,150.49 L519.00,149.89 L519.70,149.28 L520.40,148.66 L521.10,148.03 L521.80,147.39 L522.50,146.74 L523.20,146.07 L523.90,145.39 L524.60,144.71 L525.30,144.01 L526.00,143.30 L526.70,142.58 L527.40,141.85 L528.10,141.10 L528.80,140.35 L529.50,139.58 L530.20,138.80 L530.90,138.01 L531.60,137.21 L532.30,136.40 L533.00,135.58 L533.70,134.74 L534.40,133.90 L535.10,133.04 L535.80,132.17 L536.50,131.29 L537.20,130.40 L537.90,129.50 L538.60,128.58 L539.30,127.66 L540.00,126.74 L540.70,125.81 L541.40,124.88 L542.10,123.95 L542.80,123.02 L543.50,122.10 L544.20,121.18 L544.90,120.28 L545.60,119.39 L546.30,118.51 L547.00,117.65 L547.70,116.80 L548.40,115.98 L549.10,115.18 L549.80,114.41 L550.50,113.66 L551.20,112.94 L551.90,112.25 L552.60,111.60 L553.30,110.98 L554.00,110.40 L554.70,109.86 L555.40,109.37 L556.10,108.92 L556.80,108.50 L557.50,108.14 L558.20,107.81 L558.90,107.52 L559.60,107.28 L560.30,107.08 L561.00,106.91 L561.70,106.79 L562.40,106.71 L563.10,106.66 L563.80,106.65 L564.50,106.68 L565.20,106.75 L565.90,106.86 L566.60,107.00 L567.30,107.18 L568.00,107.39 L568.70,107.64 L569.40,107.92 L570.10,108.24 L570.80,108.59 L571.50,108.98 L572.20,109.40 L572.90,109.85 L573.60,110.33 L574.30,110.84 L575.00,111.38 L575.70,111.94 L576.40,112.53 L577.10,113.15 L577.80,113.79 L578.50,114.45 L579.20,115.14 L579.90,115.85 L580.60,116.57 L581.30,117.32 L582.00,118.08 L582.70,118.86 L583.40,119.66 L584.10,120.47 L584.80,121.29 L585.50,122.13 L586.20,122.97 L586.90,123.83 L587.60,124.70 L588.30,125.57 L589.00,126.46 L589.70,127.34 L590.40,128.24 L591.10,129.14 L591.80,130.04 L592.50,130.94 L593.20,131.84 L593.90,132.75 L594.60,133.65 L595.30,134.55 L596.00,135.44 L596.70,136.33 L597.40,137.22 L598.10,138.10 L598.80,138.97 L599.50,139.84 L600.20,140.69 L600.90,141.53 L601.60,142.36 L602.30,143.18 L603.00,143.98 L603.70,144.77 L604.40,145.55 L605.10,146.30 L605.80,147.04 L606.50,147.76 L607.20,148.46 L607.90,149.13 L608.60,149.79 L609.30,150.42 L610.00,151.04 L610.70,151.63 L611.40,152.20 L612.10,152.75 L612.80,153.29 L613.50,153.80 L614.20,154.30 L614.90,154.77 L615.60,155.23 L616.30,155.67 L617.00,156.10 L617.70,156.51 L618.40,156.90 L619.10,157.28 L619.80,157.64 L620.50,157.99 L621.20,158.32 L621.90,158.64 L622.60,158.94 L623.30,159.23 L624.00,159.51 L624.70,159.77 L625.40,160.03 L626.10,160.27 L626.80,160.50 L627.50,160.72 L628.20,160.93 L628.90,161.13 L629.60,161.32 L630.30,161.50 L631.00,161.67 L631.70,161.83 L632.40,161.98 L633.10,162.13 L633.80,162.27 L634.50,162.40 L635.20,162.53 L635.90,162.65 L636.60,162.76 L637.30,162.87 L638.00,162.98 L638.70,163.08 L639.40,163.17 L640.10,163.27 L640.80,163.36 L641.50,163.44 L642.20,163.53 L642.90,163.61 L643.60,163.69 L644.30,163.77 L645.00,163.84 L645.70,163.92 L646.40,164.00 L647.10,164.08 L647.80,164.16 L648.50,164.24 L649.20,164.32 L649.90,164.40 L650.60,164.49 L651.30,164.58 L652.00,164.67 L652.70,164.76 L653.40,164.86 L654.10,164.97 L654.80,165.07 L655.50,165.19 L656.20,165.31 L656.90,165.43 L657.60,165.57 L658.30,165.70 L659.00,165.85 L659.70,166.00 L660.00,166.07" stroke="#a5cdea" stroke-width="1.1"/>
<path d="M480.00,165.16 L480.70,165.30 L481.40,165.44 L482.10,165.57 L482.80,165.69 L483.50,165.80 L484.20,165.89 L484.90,165.98 L485.60,166.06 L486.30,166.13 L487.00,166.19 L487.70,166.24 L488.40,166.28 L489.10,166.31 L489.80,166.34 L490.50,166.35 L491.20,166.35 L491.90,166.34 L492.60,166.33 L493.30,166.30 L494.00,166.26 L494.70,166.22 L495.40,166.16 L496.10,166.09 L496.80,166.02 L497.50,165.93 L498.20,165.84 L498.90,165.73 L499.60,165.62 L500.30,165.50 L501.00,165.36 L501.70,165.22 L502.40,165.07 L503.10,164.90 L503.80,164.73 L504.50,164.55 L505.20,164.36 L505.90,164.15 L506.60,163.94 L507.30,163.72 L508.00,163.49 L508.70,163.25 L509.40,163.00 L510.10,162.74 L510.80,162.47 L511.50,162.19 L512.20,161.90 L512.90,161.60 L513.60,161.29 L514.30,160.97 L515.00,160.64 L515.70,160.30 L516.40,159.96 L517.10,159.60 L517.80,159.23 L518.50,158.85 L519.20,158.46 L519.90,158.07 L520.60,157.66 L521.30,157.24 L522.00,156.81 L522.70,156.38 L523.40,155.93 L524.10,155.47 L524.80,155.01 L525.50,154.53 L526.20,154.05 L526.90,153.55 L527.60,153.04 L528.30,152.53 L529.00,152.00 L529.70,151.47 L530.40,150.92 L531.10,150.37 L531.80,149.80 L532.50,149.23 L533.20,148.64 L533.90,148.05 L534.60,147.44 L535.30,146.83 L536.00,146.21 L536.70,145.57 L537.40,144.93 L538.10,144.27 L538.80,143.61 L539.50,142.93 L540.20,142.25 L540.90,141.56 L541.60,140.85 L542.30,140.14 L543.00,139.42 L543.70,138.70 L544.40,137.97 L545.10,137.24 L545.80,136.51 L546.50,135.78 L547.20,135.05 L547.90,134.33 L548.60,133.61 L549.30,132.89 L550.00,132.18 L550.70,131.48 L551.40,130.80 L552.10,130.12 L552.80,129.45 L553.50,128.80 L554.20,128.17 L554.90,127.55 L555.60,126.95 L556.30,126.37 L557.00,125.82 L557.70,125.28 L558.40,124.77 L559.10,124.29 L559.80,123.83 L560.50,123.40 L561.20,123.00 L561.90,122.62 L562.60,122.28 L563.30,121.96 L564.00,121.67 L564.70,121.41 L565.40,121.19 L566.10,120.99 L566.80,120.83 L567.50,120.69 L568.20,120.59 L568.90,120.53 L569.60,120.49 L570.30,120.49 L571.00,120.52 L571.70,120.59 L572.40,120.69 L573.10,120.82 L573.80,120.99 L574.50,121.18 L575.20,121.40 L575.90,121.66 L576.60,121.94 L577.30,122.24 L578.00,122.58 L578.70,122.94 L579.40,123.32 L580.10,123.73 L580.80,124.15 L581.50,124.60 L582.20,125.08 L582.90,125.57 L583.60,126.08 L584.30,126.60 L585.00,127.15 L585.70,127.71 L586.40,128.29 L587.10,128.88 L587.80,129.48 L588.50,130.10 L589.20,130.73 L589.90,131.37 L590.60,132.02 L591.30,132.67 L592.00,133.34 L592.70,134.02 L593.40,134.70 L594.10,135.38 L594.80,136.07 L595.50,136.77 L596.20,137.46 L596.90,138.16 L597.60,138.86 L598.30,139.56 L599.00,140.26 L599.70,140.96 L600.40,141.65 L601.10,142.35 L601.80,143.03 L602.50,143.72 L603.20,144.39 L603.90,145.06 L604.60,145.72 L605.30,146.37 L606.00,147.02 L606.70,147.65 L607.40,148.27 L608.10,148.88 L608.80,149.47 L609.50,150.05 L610.20,150.62 L610.90,151.17 L611.60,151.71 L612.30,152.23 L613.00,152.74 L613.70,153.24 L614.40,153.72 L615.10,154.19 L615.80,154.64 L616.50,155.08 L617.20,155.51 L617.90,155.93 L618.60,156.33 L619.30,156.73 L620.00,157.11 L620.70,157.48 L621.40,157.83 L622.10,158.18 L622.80,158.52 L623.50,158.84 L624.20,159.15 L624.90,159.46 L625.60,159.75 L626.30,160.03 L627.00,160.30 L627.70,160.56 L628.40,160.82 L629.10,161.06 L629.80,161.30 L630.50,161.52 L631.20,161.74 L631.90,161.95 L632.60,162.15 L633.30,162.34 L634.00,162.52 L634.70,162.70 L635.40,162.87 L636.10,163.03 L636.80,163.18 L637.50,163.33 L638.20,163.47 L638.90,163.60 L639.60,163.73 L640.30,163.85 L641.00,163.97 L641.70,164.08 L642.40,164.18 L643.10,164.28 L643.80,164.37 L644.50,164.46 L645.20,164.55 L645.90,164.62 L646.60,164.70 L647.30,164.77 L648.00,164.84 L648.70,164.90 L649.40,164.96 L650.10,165.02 L650.80,165.07 L651.50,165.12 L652.20,165.17 L652.90,165.21 L653.60,165.26 L654.30,165.30 L655.00,165.33 L655.70,165.37 L656.40,165.41 L657.10,165.44 L657.80,165.47 L658.50,165.50 L659.20,165.54 L659.90,165.57 L660.60,165.60 L661.30,165.63 L662.00,165.66 L662.70,165.69 L663.40,165.72 L664.10,165.75 L664.80,165.78 L665.00,165.79" stroke="#5fa3e0" stroke-width="1.1"/>
<path d="M495.00,164.97 L495.70,164.98 L496.40,164.98 L497.10,164.97 L497.80,164.95 L498.50,164.93 L499.20,164.89 L499.90,164.84 L500.60,164.79 L501.30,164.72 L502.00,164.65 L502.70,164.56 L503.40,164.47 L504.10,164.37 L504.80,164.26 L505.50,164.14 L506.20,164.02 L506.90,163.88 L507.60,163.74 L508.30,163.59 L509.00,163.43 L509.70,163.26 L510.40,163.09 L511.10,162.90 L511.80,162.71 L512.50,162.52 L513.20,162.31 L513.90,162.10 L514.60,161.88 L515.30,161.65 L516.00,161.42 L516.70,161.18 L517.40,160.93 L518.10,160.68 L518.80,160.42 L519.50,160.16 L520.20,159.89 L520.90,159.61 L521.60,159.33 L522.30,159.04 L523.00,158.74 L523.70,158.44 L524.40,158.14 L525.10,157.82 L525.80,157.51 L526.50,157.19 L527.20,156.86 L527.90,156.53 L528.60,156.19 L529.30,155.85 L530.00,155.51 L530.70,155.16 L531.40,154.80 L532.10,154.44 L532.80,154.08 L533.50,153.71 L534.20,153.34 L534.90,152.97 L535.60,152.59 L536.30,152.21 L537.00,151.83 L537.70,151.44 L538.40,151.05 L539.10,150.65 L539.80,150.26 L540.50,149.86 L541.20,149.46 L541.90,149.06 L542.60,148.66 L543.30,148.25 L544.00,147.85 L544.70,147.45 L545.40,147.04 L546.10,146.64 L546.80,146.24 L547.50,145.84 L548.20,145.44 L548.90,145.05 L549.60,144.66 L550.30,144.27 L551.00,143.89 L551.70,143.50 L552.40,143.13 L553.10,142.76 L553.80,142.39 L554.50,142.03 L555.20,141.67 L555.90,141.32 L556.60,140.98 L557.30,140.65 L558.00,140.32 L558.70,140.00 L559.40,139.69 L560.10,139.38 L560.80,139.09 L561.50,138.80 L562.20,138.53 L562.90,138.26 L563.60,138.01 L564.30,137.76 L565.00,137.53 L565.70,137.31 L566.40,137.10 L567.10,136.90 L567.80,136.72 L568.50,136.55 L569.20,136.39 L569.90,136.25 L570.60,136.12 L571.30,136.00 L572.00,135.90 L572.70,135.82 L573.40,135.75 L574.10,135.70 L574.80,135.66 L575.50,135.64 L576.20,135.64 L576.90,135.66 L577.60,135.69 L578.30,135.75 L579.00,135.81 L579.70,135.90 L580.40,136.00 L581.10,136.12 L581.80,136.26 L582.50,136.41 L583.20,136.57 L583.90,136.75 L584.60,136.94 L585.30,137.15 L586.00,137.37 L586.70,137.60 L587.40,137.85 L588.10,138.10 L588.80,138.37 L589.50,138.65 L590.20,138.94 L590.90,139.24 L591.60,139.55 L592.30,139.87 L593.00,140.19 L593.70,140.53 L594.40,140.87 L595.10,141.22 L595.80,141.58 L596.50,141.95 L597.20,142.32 L597.90,142.70 L598.60,143.08 L599.30,143.47 L600.00,143.86 L600.70,144.26 L601.40,144.66 L602.10,145.07 L602.80,145.47 L603.50,145.88 L604.20,146.29 L604.90,146.71 L605.60,147.12 L606.30,147.54 L607.00,147.95 L607.70,148.37 L608.40,148.79 L609.10,149.20 L609.80,149.61 L610.50,150.03 L611.20,150.44 L611.90,150.84 L612.60,151.25 L613.30,151.65 L614.00,152.04 L614.70,152.44 L615.40,152.83 L616.10,153.21 L616.80,153.59 L617.50,153.96 L618.20,154.32 L618.90,154.69 L619.60,155.04 L620.30,155.39 L621.00,155.74 L621.70,156.07 L622.40,156.41 L623.10,156.73 L623.80,157.06 L624.50,157.37 L625.20,157.68 L625.90,157.99 L626.60,158.29 L627.30,158.58 L628.00,158.87 L628.70,159.15 L629.40,159.43 L630.10,159.70 L630.80,159.97 L631.50,160.23 L632.20,160.48 L632.90,160.73 L633.60,160.97 L634.30,161.21 L635.00,161.44 L635.70,161.67 L636.40,161.89 L637.10,162.10 L637.80,162.31 L638.50,162.51 L639.20,162.70 L639.90,162.89 L640.60,163.08 L641.30,163.26 L642.00,163.43 L642.70,163.60 L643.40,163.76 L644.10,163.91 L644.80,164.06 L645.50,164.20 L646.20,164.34 L646.90,164.47 L647.60,164.59 L648.30,164.71 L649.00,164.83 L649.70,164.93 L650.40,165.03 L651.10,165.13 L651.80,165.21 L652.50,165.30 L653.20,165.37 L653.90,165.44 L654.60,165.51 L655.30,165.56 L656.00,165.62 L656.70,165.66 L657.40,165.70 L658.10,165.73 L658.80,165.76 L659.50,165.78 L660.20,165.79 L660.90,165.80 L661.60,165.80 L662.30,165.80 L663.00,165.79 L663.70,165.77 L664.40,165.75 L665.10,165.72 L665.80,165.68 L666.50,165.64 L667.20,165.59 L667.90,165.53 L668.60,165.47 L668.70,165.46" stroke="#111" stroke-width="1.2" stroke-dasharray="4,3"/>
<path d="M458.00,165.85 L458.70,165.96 L459.40,166.05 L460.10,166.14 L460.80,166.21 L461.50,166.27 L462.20,166.33 L462.90,166.37 L463.60,166.40 L464.30,166.42 L465.00,166.43 L465.70,166.43 L466.40,166.42 L467.10,166.40 L467.80,166.37 L468.50,166.33 L469.20,166.28 L469.90,166.22 L470.60,166.15 L471.30,166.07 L472.00,165.98 L472.70,165.88 L473.40,165.76 L474.10,165.64 L474.80,165.51 L475.50,165.36 L476.20,165.21 L476.90,165.05 L477.60,164.88 L478.30,164.69 L479.00,164.50 L479.70,164.30 L480.40,164.08 L481.10,163.86 L481.80,163.62 L482.50,163.38 L483.20,163.13 L483.90,162.86 L484.60,162.59 L485.30,162.30 L486.00,162.01 L486.70,161.71 L487.40,161.39 L488.10,161.07 L488.80,160.74 L489.50,160.39 L490.20,160.04 L490.90,159.67 L491.60,159.30 L492.30,158.92 L493.00,158.53 L493.70,158.12 L494.40,157.71 L495.10,157.29 L495.80,156.85 L496.50,156.41 L497.20,155.96 L497.90,155.50 L498.60,155.03 L499.30,154.55 L500.00,154.06 L500.70,153.56 L501.40,153.04 L502.10,152.52 L502.80,151.99 L503.50,151.45 L504.20,150.90 L504.90,150.33 L505.60,149.75 L506.30,149.16 L507.00,148.55 L507.70,147.92 L508.40,147.28 L509.10,146.62 L509.80,145.94 L510.50,145.24 L511.20,144.53 L511.90,143.79 L512.60,143.03 L513.30,142.25 L514.00,141.45 L514.70,140.62 L515.40,139.77 L516.10,138.90 L516.80,138.00 L517.50,137.07 L518.20,136.12 L518.90,135.14 L519.60,134.12 L520.30,133.08 L521.00,132.01 L521.70,130.91 L522.40,129.78 L523.10,128.61 L523.80,127.42 L524.50,126.18 L525.20,124.91 L525.90,123.61 L526.60,122.27 L527.30,120.90 L528.00,119.48 L528.70,118.03 L529.40,116.54 L530.10,115.01 L530.80,113.45 L531.50,111.87 L532.20,110.26 L532.90,108.65 L533.60,107.02 L534.30,105.39 L535.00,103.77 L535.70,102.16 L536.40,100.55 L537.10,98.97 L537.80,97.42 L538.50,95.89 L539.20,94.39 L539.90,92.92 L540.60,91.48 L541.30,90.08 L542.00,88.71 L542.70,87.37 L543.40,86.08 L544.10,84.83 L544.80,83.62 L545.50,82.45 L546.20,81.32 L546.90,80.25 L547.60,79.23 L548.30,78.26 L549.00,77.35 L549.70,76.51 L550.40,75.74 L551.10,75.05 L551.80,74.43 L552.50,73.89 L553.20,73.43 L553.90,73.06 L554.60,72.76 L555.30,72.55 L556.00,72.40 L556.70,72.33 L557.40,72.34 L558.10,72.41 L558.80,72.55 L559.50,72.76 L560.20,73.04 L560.90,73.37 L561.60,73.77 L562.30,74.23 L563.00,74.75 L563.70,75.32 L564.40,75.95 L565.10,76.63 L565.80,77.36 L566.50,78.14 L567.20,78.97 L567.90,79.85 L568.60,80.77 L569.30,81.73 L570.00,82.74 L570.70,83.78 L571.40,84.86 L572.10,85.98 L572.80,87.13 L573.50,88.31 L574.20,89.52 L574.90,90.77 L575.60,92.04 L576.30,93.33 L577.00,94.66 L577.70,96.00 L578.40,97.36 L579.10,98.75 L579.80,100.15 L580.50,101.57 L581.20,103.00 L581.90,104.44 L582.60,105.90 L583.30,107.36 L584.00,108.83 L584.70,110.31 L585.40,111.79 L586.10,113.28 L586.80,114.77 L587.50,116.25 L588.20,117.74 L588.90,119.22 L589.60,120.69 L590.30,122.16 L591.00,123.62 L591.70,125.06 L592.40,126.50 L593.10,127.92 L593.80,129.33 L594.50,130.72 L595.20,132.09 L595.90,133.44 L596.60,134.77 L597.30,136.07 L598.00,137.35 L598.70,138.60 L599.40,139.83 L600.10,141.02 L600.80,142.18 L601.50,143.31 L602.20,144.40 L602.90,145.45 L603.60,146.47 L604.30,147.45 L605.00,148.40 L605.70,149.31 L606.40,150.18 L607.10,151.03 L607.80,151.83 L608.50,152.61 L609.20,153.35 L609.90,154.06 L610.60,154.75 L611.30,155.40 L612.00,156.02 L612.70,156.61 L613.40,157.18 L614.10,157.72 L614.80,158.23 L615.50,158.72 L616.20,159.18 L616.90,159.61 L617.60,160.03 L618.30,160.42 L619.00,160.78 L619.70,161.13 L620.40,161.45 L621.10,161.75 L621.80,162.03 L622.50,162.30 L623.20,162.54 L623.90,162.77 L624.60,162.98 L625.30,163.17 L626.00,163.35 L626.70,163.51 L627.40,163.66 L628.10,163.79 L628.80,163.91 L629.50,164.02 L630.20,164.11 L630.90,164.20 L631.60,164.27 L632.30,164.34 L633.00,164.39 L633.70,164.44 L634.40,164.47 L635.10,164.50 L635.80,164.53 L636.50,164.55 L637.20,164.56 L637.90,164.57 L638.60,164.57 L639.30,164.57 L640.00,164.57 L640.70,164.57 L641.40,164.57 L642.10,164.56 L642.80,164.56 L643.50,164.55 L644.20,164.55 L644.90,164.55 L645.60,164.55 L646.30,164.56 L647.00,164.57 L647.70,164.58 L648.40,164.60 L649.10,164.63 L649.80,164.66 L650.50,164.70 L651.20,164.75 L651.90,164.80 L652.60,164.87 L653.30,164.95 L654.00,165.04 L654.70,165.13 L655.40,165.25 L656.10,165.37 L656.80,165.51 L657.50,165.66 L658.20,165.82 L658.90,166.01 L659.60,166.20 L660.00,166.32" stroke="#f0708a" stroke-width="0.9"/>
<path d="M458.00,165.52 L458.70,165.63 L459.40,165.71 L460.10,165.76 L460.80,165.79 L461.50,165.80 L462.20,165.77 L462.90,165.72 L463.60,165.65 L464.30,165.54 L465.00,165.42 L465.70,165.26 L466.40,165.08 L467.10,164.87 L467.80,164.64 L468.50,164.38 L469.20,164.09 L469.90,163.78 L470.60,163.45 L471.30,163.08 L472.00,162.69 L472.70,162.28 L473.40,161.83 L474.10,161.37 L474.80,160.87 L475.50,160.35 L476.20,159.81 L476.90,159.24 L477.60,158.64 L478.30,158.01 L479.00,157.36 L479.70,156.69 L480.40,155.99 L481.10,155.26 L481.80,154.51 L482.50,153.73 L483.20,152.93 L483.90,152.10 L484.60,151.24 L485.30,150.36 L486.00,149.45 L486.70,148.52 L487.40,147.56 L488.10,146.58 L488.80,145.57 L489.50,144.53 L490.20,143.47 L490.90,142.39 L491.60,141.27 L492.30,140.13 L493.00,138.95 L493.70,137.74 L494.40,136.49 L495.10,135.19 L495.80,133.84 L496.50,132.44 L497.20,130.99 L497.90,129.48 L498.60,127.91 L499.30,126.26 L500.00,124.55 L500.70,122.77 L501.40,120.91 L502.10,118.96 L502.80,116.94 L503.50,114.82 L504.20,112.61 L504.90,110.31 L505.60,107.91 L506.30,105.42 L507.00,102.84 L507.70,100.19 L508.40,97.48 L509.10,94.70 L509.80,91.88 L510.50,89.02 L511.20,86.13 L511.90,83.22 L512.60,80.30 L513.30,77.37 L514.00,74.45 L514.70,71.54 L515.40,68.66 L516.10,65.80 L516.80,62.99 L517.50,60.23 L518.20,57.53 L518.90,54.89 L519.60,52.33 L520.30,49.84 L521.00,47.43 L521.70,45.09 L522.40,42.83 L523.10,40.66 L523.80,38.56 L524.50,36.55 L525.20,34.62 L525.90,32.77 L526.60,31.01 L527.30,29.33 L528.00,27.74 L528.70,26.25 L529.40,24.84 L530.10,23.52 L530.80,22.29 L531.50,21.16 L532.20,20.12 L532.90,19.18 L533.60,18.33 L534.30,17.58 L535.00,16.93 L535.70,16.38 L536.40,15.94 L537.10,15.59 L537.80,15.35 L538.50,15.21 L539.20,15.18 L539.90,15.25 L540.60,15.43 L541.30,15.73 L542.00,16.13 L542.70,16.64 L543.40,17.27 L544.10,18.01 L544.80,18.86 L545.50,19.83 L546.20,20.92 L546.90,22.12 L547.60,23.45 L548.30,24.90 L549.00,26.46 L549.70,28.15 L550.40,29.97 L551.10,31.91 L551.80,33.97 L552.50,36.16 L553.20,38.48 L553.90,40.92 L554.60,43.45 L555.30,46.06 L556.00,48.73 L556.70,51.44 L557.40,54.17 L558.10,56.91 L558.80,59.63 L559.50,62.32 L560.20,64.95 L560.90,67.52 L561.60,69.99 L562.30,72.36 L563.00,74.60 L563.70,76.70 L564.40,78.70 L565.10,80.60 L565.80,82.44 L566.50,84.23 L567.20,85.99 L567.90,87.76 L568.60,89.54 L569.30,91.36 L570.00,93.24 L570.70,95.21 L571.40,97.26 L572.10,99.39 L572.80,101.58 L573.50,103.82 L574.20,106.10 L574.90,108.40 L575.60,110.72 L576.30,113.04 L577.00,115.35 L577.70,117.64 L578.40,119.89 L579.10,122.10 L579.80,124.25 L580.50,126.32 L581.20,128.33 L581.90,130.26 L582.60,132.12 L583.30,133.91 L584.00,135.63 L584.70,137.28 L585.40,138.88 L586.10,140.40 L586.80,141.87 L587.50,143.27 L588.20,144.62 L588.90,145.90 L589.60,147.13 L590.30,148.31 L591.00,149.43 L591.70,150.50 L592.40,151.52 L593.10,152.49 L593.80,153.41 L594.50,154.29 L595.20,155.12 L595.90,155.90 L596.60,156.65 L597.30,157.35 L598.00,158.02 L598.70,158.64 L599.40,159.23 L600.10,159.79 L600.80,160.31 L601.50,160.80 L602.20,161.26 L602.90,161.69 L603.60,162.09 L604.30,162.47 L605.00,162.82 L605.70,163.15 L606.40,163.45 L607.10,163.73 L607.80,163.99 L608.50,164.23 L609.20,164.44 L609.90,164.64 L610.60,164.82 L611.30,164.98 L612.00,165.12 L612.70,165.25 L613.40,165.36 L614.10,165.45 L614.80,165.53 L615.50,165.60 L616.20,165.66 L616.90,165.70 L617.60,165.73 L618.30,165.75 L619.00,165.76 L619.70,165.76 L620.40,165.75 L621.10,165.74 L621.80,165.72 L622.50,165.69 L623.20,165.65 L623.90,165.62 L624.60,165.58 L625.30,165.53 L626.00,165.48 L626.70,165.44 L627.40,165.39 L628.10,165.34 L628.80,165.29 L629.50,165.24 L630.20,165.20 L630.90,165.15 L631.60,165.12 L632.30,165.08 L633.00,165.05 L633.70,165.03 L634.40,165.02 L635.10,165.01 L635.80,165.01 L636.50,165.02 L637.20,165.04 L637.90,165.06 L638.60,165.11 L639.30,165.16 L640.00,165.22 L640.70,165.30 L641.40,165.40 L642.10,165.50 L642.80,165.63 L643.50,165.77 L644.20,165.93 L644.90,166.10 L645.00,166.13" stroke="#ee1c33" stroke-width="1.15"/>
<line x1="537.4" y1="7" x2="537.4" y2="67" stroke="#ef6f86" stroke-width="0.9" stroke-dasharray="4,3"/>
<line x1="553.5" y1="67" x2="553.5" y2="112" stroke="#f07f92" stroke-width="0.9" stroke-dasharray="4,3"/>
<line x1="565" y1="84" x2="565" y2="125" stroke="#9ccbea" stroke-width="0.9" stroke-dasharray="4,3"/>
<line x1="573.6" y1="108" x2="573.6" y2="140" stroke="#8cc0ec" stroke-width="0.9" stroke-dasharray="4,3"/>
<line x1="577.9" y1="125" x2="577.9" y2="166" stroke="#222" stroke-width="1" stroke-dasharray="4,2,1,2"/>
<path d="M592,68.9 L548,41.6 M592,68.9 L564,65.2 M592,68.9 L592,93" stroke="#111" stroke-width="1.2" stroke-dasharray="4,2.6"/>
</g>
<path d="M542.80,38.80 L551.50,39.90 L547.75,46.05 Z" fill="#111"/>
<path d="M558.60,64.40 L567.01,61.90 L566.05,69.04 Z" fill="#111"/>
<path d="M592.00,100.00 L588.40,92.00 L595.60,92.00 Z" fill="#111"/>
<text x="597.6" y="79" font-size="11.8" font-family='"Liberation Serif", serif'>Eq. (2)</text>
<rect x="457.7" y="2" width="219.9" height="164" fill="none" stroke="#262626" stroke-width="1.2"/>
<line x1="453.7" y1="166.00" x2="457.7" y2="166.00" stroke="#262626" stroke-width="1"/>
<text x="452.00" y="168.90" font-size="8.20" text-anchor="end" font-family='"Liberation Sans", sans-serif' >0</text>
<line x1="453.7" y1="140.77" x2="457.7" y2="140.77" stroke="#262626" stroke-width="1"/>
<text x="452.00" y="143.67" font-size="8.20" text-anchor="end" font-family='"Liberation Sans", sans-serif' >100</text>
<line x1="453.7" y1="115.54" x2="457.7" y2="115.54" stroke="#262626" stroke-width="1"/>
<text x="452.00" y="118.44" font-size="8.20" text-anchor="end" font-family='"Liberation Sans", sans-serif' >200</text>
<line x1="453.7" y1="90.31" x2="457.7" y2="90.31" stroke="#262626" stroke-width="1"/>
<text x="452.00" y="93.21" font-size="8.20" text-anchor="end" font-family='"Liberation Sans", sans-serif' >300</text>
<line x1="453.7" y1="65.08" x2="457.7" y2="65.08" stroke="#262626" stroke-width="1"/>
<text x="452.00" y="67.98" font-size="8.20" text-anchor="end" font-family='"Liberation Sans", sans-serif' >400</text>
<line x1="453.7" y1="39.85" x2="457.7" y2="39.85" stroke="#262626" stroke-width="1"/>
<text x="452.00" y="42.75" font-size="8.20" text-anchor="end" font-family='"Liberation Sans", sans-serif' >500</text>
<line x1="453.7" y1="14.62" x2="457.7" y2="14.62" stroke="#262626" stroke-width="1"/>
<text x="452.00" y="17.52" font-size="8.20" text-anchor="end" font-family='"Liberation Sans", sans-serif' >600</text>
<line x1="455.2" y1="153.38" x2="457.7" y2="153.38" stroke="#262626" stroke-width="1"/>
<line x1="455.2" y1="128.16" x2="457.7" y2="128.16" stroke="#262626" stroke-width="1"/>
<line x1="455.2" y1="102.92" x2="457.7" y2="102.92" stroke="#262626" stroke-width="1"/>
<line x1="455.2" y1="77.69" x2="457.7" y2="77.69" stroke="#262626" stroke-width="1"/>
<line x1="455.2" y1="52.46" x2="457.7" y2="52.46" stroke="#262626" stroke-width="1"/>
<line x1="455.2" y1="27.23" x2="457.7" y2="27.23" stroke="#262626" stroke-width="1"/>
<line x1="455.2" y1="2.00" x2="457.7" y2="2.00" stroke="#262626" stroke-width="1"/>
<line x1="482.10" y1="166" x2="482.10" y2="169.5" stroke="#262626" stroke-width="1"/>
<text x="482.10" y="180.10" font-size="8.30" text-anchor="middle" font-family='"Liberation Sans", sans-serif' >0.0</text>
<line x1="530.98" y1="166" x2="530.98" y2="169.5" stroke="#262626" stroke-width="1"/>
<text x="530.98" y="180.10" font-size="8.30" text-anchor="middle" font-family='"Liberation Sans", sans-serif' >0.4</text>
<line x1="579.86" y1="166" x2="579.86" y2="169.5" stroke="#262626" stroke-width="1"/>
<text x="579.86" y="180.10" font-size="8.30" text-anchor="middle" font-family='"Liberation Sans", sans-serif' >0.8</text>
<line x1="628.74" y1="166" x2="628.74" y2="169.5" stroke="#262626" stroke-width="1"/>
<text x="628.74" y="180.10" font-size="8.30" text-anchor="middle" font-family='"Liberation Sans", sans-serif' >1.2</text>
<line x1="677.62" y1="166" x2="677.62" y2="169.5" stroke="#262626" stroke-width="1"/>
<text x="677.62" y="180.10" font-size="8.30" text-anchor="middle" font-family='"Liberation Sans", sans-serif' >1.6</text>
<line x1="506.54" y1="166" x2="506.54" y2="168" stroke="#262626" stroke-width="1"/>
<line x1="555.42" y1="166" x2="555.42" y2="168" stroke="#262626" stroke-width="1"/>
<line x1="604.30" y1="166" x2="604.30" y2="168" stroke="#262626" stroke-width="1"/>
<line x1="653.18" y1="166" x2="653.18" y2="168" stroke="#262626" stroke-width="1"/>
<text transform="translate(430.5,83.5) rotate(-90)" font-size="12" text-anchor="middle" font-family='"Liberation Sans", sans-serif'>Droplet numebers</text>
<text x="548" y="198.3" font-size="13.5" font-family='"Liberation Sans", sans-serif'>R<tspan font-size="8" dy="-6">*</tspan><tspan dy="6">&lt;&gt;</tspan></text>
<line x1="608.7" y1="8.70" x2="625" y2="8.70" stroke="#f0708a" stroke-width="1.2" stroke-dasharray="5,6"/>
<text x="632" y="11.70" font-size="8.9" font-family='"Liberation Sans", sans-serif'>T<tspan font-size="6" dy="2">σ</tspan><tspan dy="-2"> = 6.4</tspan></text>
<line x1="608.7" y1="21.80" x2="625" y2="21.80" stroke="#f38c9a" stroke-width="1.2" stroke-dasharray="5,6"/>
<text x="632" y="24.80" font-size="8.9" font-family='"Liberation Sans", sans-serif'>T<tspan font-size="6" dy="2">σ</tspan><tspan dy="-2"> = 12.8</tspan></text>
<line x1="608.7" y1="34.90" x2="625" y2="34.90" stroke="#b3d7ee" stroke-width="1.2" stroke-dasharray="5,6"/>
<text x="632" y="37.90" font-size="8.9" font-family='"Liberation Sans", sans-serif'>T<tspan font-size="6" dy="2">σ</tspan><tspan dy="-2"> = 32.0</tspan></text>
<line x1="608.7" y1="48.00" x2="625" y2="48.00" stroke="#98c6ef" stroke-width="1.2" stroke-dasharray="5,6"/>
<text x="632" y="51.00" font-size="8.9" font-family='"Liberation Sans", sans-serif'>T<tspan font-size="6" dy="2">σ</tspan><tspan dy="-2"> = 160.0</tspan></text>
<line x1="608.7" y1="61.10" x2="625" y2="61.10" stroke="#111" stroke-width="1.2" stroke-dasharray="5,6"/>
<text x="632" y="64.10" font-size="8.9" font-family='"Liberation Sans", sans-serif'>Ca<tspan font-size="6" dy="2">e</tspan><tspan dy="-2"> = 0</tspan></text>
<defs><clipPath id="clc"><rect x="51.3" y="215.2" width="208.9" height="164"/></clipPath></defs>
<g fill="none" clip-path="url(#clc)">
<path d="M51.30,364.72 L52.00,365.22 L52.70,365.59 L53.40,365.82 L54.10,365.93 L54.80,365.93 L55.50,365.83 L56.20,365.63 L56.90,365.34 L57.60,364.97 L58.30,364.52 L59.00,364.01 L59.70,363.45 L60.40,362.83 L61.10,362.18 L61.80,361.49 L62.50,360.77 L63.20,360.04 L63.90,359.31 L64.60,358.57 L65.30,357.84 L66.00,357.12 L66.70,356.43 L67.40,355.76 L68.10,355.14 L68.80,354.57 L69.50,354.05 L70.20,353.59 L70.90,353.19 L71.60,352.85 L72.30,352.56 L73.00,352.32 L73.70,352.12 L74.40,351.97 L75.10,351.87 L75.80,351.80 L76.50,351.76 L77.20,351.76 L77.90,351.79 L78.60,351.84 L79.30,351.91 L80.00,352.01 L80.70,352.12 L81.40,352.25 L82.10,352.39 L82.80,352.54 L83.50,352.69 L84.20,352.84 L84.90,353.00 L85.60,353.15 L86.30,353.29 L87.00,353.43 L87.70,353.55 L88.40,353.66 L89.10,353.74 L89.80,353.81 L90.50,353.86 L91.20,353.89 L91.90,353.90 L92.60,353.89 L93.30,353.86 L94.00,353.81 L94.70,353.75 L95.40,353.66 L96.10,353.56 L96.80,353.44 L97.50,353.30 L98.20,353.15 L98.90,352.98 L99.60,352.79 L100.30,352.59 L101.00,352.37 L101.70,352.14 L102.40,351.89 L103.10,351.62 L103.80,351.34 L104.50,351.05 L105.20,350.74 L105.90,350.41 L106.60,350.08 L107.30,349.72 L108.00,349.36 L108.70,348.98 L109.40,348.59 L110.10,348.19 L110.80,347.77 L111.50,347.34 L112.20,346.90 L112.90,346.45 L113.60,345.99 L114.30,345.52 L115.00,345.03 L115.70,344.54 L116.40,344.03 L117.10,343.51 L117.80,342.99 L118.50,342.45 L119.20,341.91 L119.90,341.35 L120.60,340.79 L121.30,340.22 L122.00,339.64 L122.70,339.05 L123.40,338.46 L124.10,337.86 L124.80,337.25 L125.50,336.63 L126.20,336.01 L126.90,335.38 L127.60,334.74 L128.30,334.10 L129.00,333.45 L129.70,332.80 L130.40,332.14 L131.10,331.48 L131.80,330.81 L132.50,330.14 L133.20,329.47 L133.90,328.81 L134.60,328.14 L135.30,327.48 L136.00,326.82 L136.70,326.16 L137.40,325.52 L138.10,324.87 L138.80,324.24 L139.50,323.62 L140.20,323.00 L140.90,322.40 L141.60,321.81 L142.30,321.24 L143.00,320.67 L143.70,320.13 L144.40,319.60 L145.10,319.09 L145.80,318.60 L146.50,318.13 L147.20,317.68 L147.90,317.25 L148.60,316.85 L149.30,316.47 L150.00,316.12 L150.70,315.79 L151.40,315.49 L152.10,315.22 L152.80,314.98 L153.50,314.78 L154.20,314.60 L154.90,314.46 L155.60,314.35 L156.30,314.28 L157.00,314.25 L157.70,314.25 L158.40,314.29 L159.10,314.38 L159.80,314.50 L160.50,314.65 L161.20,314.84 L161.90,315.06 L162.60,315.31 L163.30,315.58 L164.00,315.89 L164.70,316.21 L165.40,316.56 L166.10,316.93 L166.80,317.31 L167.50,317.72 L168.20,318.13 L168.90,318.56 L169.60,319.00 L170.30,319.45 L171.00,319.90 L171.70,320.36 L172.40,320.82 L173.10,321.28 L173.80,321.74 L174.50,322.19 L175.20,322.65 L175.90,323.09 L176.60,323.52 L177.30,323.95 L178.00,324.36 L178.70,324.75 L179.40,325.13 L180.10,325.49 L180.80,325.83 L181.50,326.15 L182.20,326.44 L182.90,326.71 L183.60,326.94 L184.30,327.15 L185.00,327.32 L185.70,327.46 L186.40,327.57 L187.10,327.64 L187.80,327.68 L188.50,327.69 L189.20,327.67 L189.90,327.62 L190.60,327.55 L191.30,327.45 L192.00,327.32 L192.70,327.17 L193.40,326.99 L194.10,326.80 L194.80,326.58 L195.50,326.35 L196.20,326.09 L196.90,325.82 L197.60,325.54 L198.30,325.24 L199.00,324.92 L199.70,324.60 L200.40,324.26 L201.10,323.91 L201.80,323.56 L202.50,323.19 L203.20,322.82 L203.90,322.45 L204.60,322.07 L205.30,321.69 L206.00,321.31 L206.70,320.92 L207.40,320.54 L208.10,320.16 L208.80,319.78 L209.50,319.41 L210.20,319.04 L210.90,318.68 L211.60,318.32 L212.30,317.98 L213.00,317.64 L213.70,317.32 L214.40,317.01 L215.10,316.71 L215.80,316.43 L216.50,316.16 L217.20,315.91 L217.90,315.68 L218.60,315.47 L219.30,315.27 L220.00,315.10 L220.70,314.94 L221.40,314.80 L222.10,314.68 L222.80,314.57 L223.50,314.49 L224.20,314.41 L224.90,314.35 L225.60,314.31 L226.30,314.28 L227.00,314.27 L227.70,314.27 L228.40,314.28 L229.10,314.30 L229.80,314.34 L230.50,314.38 L231.20,314.44 L231.90,314.51 L232.60,314.59 L233.30,314.68 L234.00,314.77 L234.70,314.88 L235.40,314.99 L236.10,315.11 L236.80,315.24 L237.50,315.37 L238.20,315.51 L238.90,315.66 L239.60,315.81 L240.30,315.96 L241.00,316.12 L241.70,316.29 L242.40,316.45 L243.10,316.62 L243.80,316.79 L244.50,316.96 L245.20,317.14 L245.90,317.31 L246.60,317.49 L247.30,317.66 L248.00,317.83 L248.70,318.01 L249.40,318.18 L250.10,318.34 L250.80,318.51 L251.50,318.67 L252.20,318.83 L252.90,318.98 L253.60,319.13 L254.30,319.28 L255.00,319.42 L255.70,319.55 L256.40,319.67 L257.10,319.79 L257.80,319.90 L258.50,320.01 L259.20,320.10 L259.90,320.19 L260.00,320.20" stroke="#111" stroke-width="1.2"/>
<path d="M51.30,362.64 L52.00,362.14 L52.70,361.61 L53.40,361.03 L54.10,360.42 L54.80,359.78 L55.50,359.12 L56.20,358.43 L56.90,357.71 L57.60,356.99 L58.30,356.25 L59.00,355.50 L59.70,354.74 L60.40,353.98 L61.10,353.22 L61.80,352.46 L62.50,351.71 L63.20,350.97 L63.90,350.24 L64.60,349.54 L65.30,348.85 L66.00,348.19 L66.70,347.55 L67.40,346.94 L68.10,346.37 L68.80,345.84 L69.50,345.35 L70.20,344.90 L70.90,344.49 L71.60,344.13 L72.30,343.80 L73.00,343.50 L73.70,343.24 L74.40,343.01 L75.10,342.80 L75.80,342.63 L76.50,342.48 L77.20,342.35 L77.90,342.24 L78.60,342.15 L79.30,342.08 L80.00,342.03 L80.70,341.99 L81.40,341.97 L82.10,341.95 L82.80,341.95 L83.50,341.96 L84.20,341.98 L84.90,342.00 L85.60,342.02 L86.30,342.05 L87.00,342.08 L87.70,342.11 L88.40,342.13 L89.10,342.15 L89.80,342.17 L90.50,342.18 L91.20,342.18 L91.90,342.18 L92.60,342.16 L93.30,342.13 L94.00,342.08 L94.70,342.02 L95.40,341.94 L96.10,341.84 L96.80,341.71 L97.50,341.57 L98.20,341.40 L98.90,341.21 L99.60,340.99 L100.30,340.74 L101.00,340.47 L101.70,340.16 L102.40,339.82 L103.10,339.45 L103.80,339.06 L104.50,338.64 L105.20,338.20 L105.90,337.73 L106.60,337.23 L107.30,336.72 L108.00,336.18 L108.70,335.62 L109.40,335.05 L110.10,334.45 L110.80,333.83 L111.50,333.20 L112.20,332.55 L112.90,331.89 L113.60,331.21 L114.30,330.52 L115.00,329.82 L115.70,329.10 L116.40,328.38 L117.10,327.64 L117.80,326.90 L118.50,326.15 L119.20,325.39 L119.90,324.63 L120.60,323.86 L121.30,323.08 L122.00,322.31 L122.70,321.53 L123.40,320.75 L124.10,319.97 L124.80,319.19 L125.50,318.41 L126.20,317.64 L126.90,316.87 L127.60,316.12 L128.30,315.39 L129.00,314.68 L129.70,314.00 L130.40,313.35 L131.10,312.73 L131.80,312.15 L132.50,311.61 L133.20,311.12 L133.90,310.68 L134.60,310.29 L135.30,309.96 L136.00,309.69 L136.70,309.48 L137.40,309.32 L138.10,309.22 L138.80,309.15 L139.50,309.14 L140.20,309.16 L140.90,309.21 L141.60,309.30 L142.30,309.43 L143.00,309.57 L143.70,309.74 L144.40,309.94 L145.10,310.14 L145.80,310.37 L146.50,310.60 L147.20,310.84 L147.90,311.08 L148.60,311.32 L149.30,311.56 L150.00,311.79 L150.70,312.02 L151.40,312.23 L152.10,312.42 L152.80,312.60 L153.50,312.77 L154.20,312.93 L154.90,313.08 L155.60,313.22 L156.30,313.37 L157.00,313.51 L157.70,313.65 L158.40,313.80 L159.10,313.96 L159.80,314.12 L160.50,314.30 L161.20,314.49 L161.90,314.69 L162.60,314.91 L163.30,315.14 L164.00,315.37 L164.70,315.62 L165.40,315.87 L166.10,316.13 L166.80,316.38 L167.50,316.64 L168.20,316.90 L168.90,317.16 L169.60,317.41 L170.30,317.66 L171.00,317.89 L171.70,318.12 L172.40,318.34 L173.10,318.55 L173.80,318.74 L174.50,318.92 L175.20,319.08 L175.90,319.22 L176.60,319.33 L177.30,319.43 L178.00,319.50 L178.70,319.55 L179.40,319.56 L180.10,319.55 L180.80,319.51 L181.50,319.44 L182.20,319.34 L182.90,319.21 L183.60,319.06 L184.30,318.89 L185.00,318.69 L185.70,318.47 L186.40,318.23 L187.10,317.97 L187.80,317.69 L188.50,317.39 L189.20,317.08 L189.90,316.76 L190.60,316.42 L191.30,316.07 L192.00,315.70 L192.70,315.33 L193.40,314.95 L194.10,314.57 L194.80,314.17 L195.50,313.77 L196.20,313.37 L196.90,312.97 L197.60,312.56 L198.30,312.16 L199.00,311.76 L199.70,311.35 L200.40,310.96 L201.10,310.56 L201.80,310.18 L202.50,309.80 L203.20,309.43 L203.90,309.07 L204.60,308.72 L205.30,308.38 L206.00,308.05 L206.70,307.74 L207.40,307.45 L208.10,307.17 L208.80,306.91 L209.50,306.67 L210.20,306.45 L210.90,306.26 L211.60,306.08 L212.30,305.93 L213.00,305.81 L213.70,305.71 L214.40,305.64 L215.10,305.60 L215.80,305.59 L216.50,305.60 L217.20,305.63 L217.90,305.69 L218.60,305.77 L219.30,305.88 L220.00,306.00 L220.70,306.15 L221.40,306.31 L222.10,306.49 L222.80,306.69 L223.50,306.90 L224.20,307.13 L224.90,307.38 L225.60,307.63 L226.30,307.90 L227.00,308.18 L227.70,308.47 L228.40,308.77 L229.10,309.08 L229.80,309.39 L230.50,309.71 L231.20,310.04 L231.90,310.37 L232.60,310.71 L233.30,311.04 L234.00,311.38 L234.70,311.72 L235.40,312.06 L236.10,312.40 L236.80,312.73 L237.50,313.06 L238.20,313.39 L238.90,313.71 L239.60,314.03 L240.30,314.34 L241.00,314.64 L241.70,314.93 L242.40,315.21 L243.10,315.48 L243.80,315.74 L244.50,315.98 L245.20,316.21 L245.90,316.43 L246.60,316.63 L247.30,316.82 L248.00,316.98 L248.70,317.13 L249.40,317.26 L250.10,317.36 L250.80,317.45 L251.50,317.51 L252.20,317.55 L252.90,317.56 L253.60,317.55 L254.30,317.51 L255.00,317.45 L255.70,317.35 L256.40,317.23 L257.10,317.08 L257.80,316.89 L258.50,316.68 L259.20,316.42 L259.90,316.14 L260.00,316.10" stroke="#5aa0e6" stroke-width="1"/>
<path d="M51.30,361.28 L52.00,360.51 L52.70,359.72 L53.40,358.92 L54.10,358.09 L54.80,357.26 L55.50,356.41 L56.20,355.55 L56.90,354.69 L57.60,353.82 L58.30,352.94 L59.00,352.07 L59.70,351.20 L60.40,350.33 L61.10,349.46 L61.80,348.61 L62.50,347.76 L63.20,346.92 L63.90,346.10 L64.60,345.30 L65.30,344.51 L66.00,343.74 L66.70,343.00 L67.40,342.28 L68.10,341.58 L68.80,340.92 L69.50,340.29 L70.20,339.68 L70.90,339.12 L71.60,338.59 L72.30,338.10 L73.00,337.66 L73.70,337.25 L74.40,336.90 L75.10,336.59 L75.80,336.33 L76.50,336.11 L77.20,335.94 L77.90,335.81 L78.60,335.72 L79.30,335.65 L80.00,335.61 L80.70,335.60 L81.40,335.60 L82.10,335.62 L82.80,335.65 L83.50,335.68 L84.20,335.72 L84.90,335.75 L85.60,335.79 L86.30,335.81 L87.00,335.81 L87.70,335.80 L88.40,335.77 L89.10,335.71 L89.80,335.63 L90.50,335.51 L91.20,335.38 L91.90,335.21 L92.60,335.02 L93.30,334.81 L94.00,334.58 L94.70,334.32 L95.40,334.05 L96.10,333.75 L96.80,333.44 L97.50,333.10 L98.20,332.75 L98.90,332.38 L99.60,332.00 L100.30,331.60 L101.00,331.18 L101.70,330.76 L102.40,330.31 L103.10,329.86 L103.80,329.38 L104.50,328.90 L105.20,328.39 L105.90,327.87 L106.60,327.33 L107.30,326.77 L108.00,326.20 L108.70,325.60 L109.40,324.99 L110.10,324.36 L110.80,323.70 L111.50,323.03 L112.20,322.34 L112.90,321.62 L113.60,320.89 L114.30,320.13 L115.00,319.34 L115.70,318.54 L116.40,317.71 L117.10,316.86 L117.80,315.98 L118.50,315.08 L119.20,314.16 L119.90,313.20 L120.60,312.23 L121.30,311.25 L122.00,310.25 L122.70,309.26 L123.40,308.28 L124.10,307.30 L124.80,306.36 L125.50,305.44 L126.20,304.55 L126.90,303.71 L127.60,302.92 L128.30,302.19 L129.00,301.52 L129.70,300.92 L130.40,300.40 L131.10,299.96 L131.80,299.62 L132.50,299.38 L133.20,299.24 L133.90,299.20 L134.60,299.26 L135.30,299.40 L136.00,299.61 L136.70,299.88 L137.40,300.20 L138.10,300.56 L138.80,300.95 L139.50,301.35 L140.20,301.76 L140.90,302.19 L141.60,302.62 L142.30,303.06 L143.00,303.50 L143.70,303.95 L144.40,304.40 L145.10,304.85 L145.80,305.30 L146.50,305.74 L147.20,306.18 L147.90,306.61 L148.60,307.03 L149.30,307.45 L150.00,307.85 L150.70,308.24 L151.40,308.61 L152.10,308.97 L152.80,309.32 L153.50,309.64 L154.20,309.95 L154.90,310.23 L155.60,310.49 L156.30,310.73 L157.00,310.94 L157.70,311.12 L158.40,311.28 L159.10,311.40 L159.80,311.50 L160.50,311.56 L161.20,311.59 L161.90,311.59 L162.60,311.56 L163.30,311.51 L164.00,311.43 L164.70,311.33 L165.40,311.20 L166.10,311.05 L166.80,310.88 L167.50,310.69 L168.20,310.48 L168.90,310.25 L169.60,310.00 L170.30,309.74 L171.00,309.47 L171.70,309.18 L172.40,308.88 L173.10,308.57 L173.80,308.25 L174.50,307.92 L175.20,307.59 L175.90,307.25 L176.60,306.90 L177.30,306.55 L178.00,306.20 L178.70,305.84 L179.40,305.49 L180.10,305.14 L180.80,304.79 L181.50,304.44 L182.20,304.10 L182.90,303.76 L183.60,303.43 L184.30,303.11 L185.00,302.80 L185.70,302.49 L186.40,302.20 L187.10,301.92 L187.80,301.65 L188.50,301.39 L189.20,301.14 L189.90,300.90 L190.60,300.67 L191.30,300.45 L192.00,300.25 L192.70,300.05 L193.40,299.86 L194.10,299.68 L194.80,299.50 L195.50,299.34 L196.20,299.19 L196.90,299.05 L197.60,298.91 L198.30,298.79 L199.00,298.67 L199.70,298.56 L200.40,298.46 L201.10,298.37 L201.80,298.29 L202.50,298.21 L203.20,298.15 L203.90,298.09 L204.60,298.03 L205.30,297.99 L206.00,297.95 L206.70,297.92 L207.40,297.90 L208.10,297.89 L208.80,297.88 L209.50,297.88 L210.20,297.88 L210.90,297.90 L211.60,297.91 L212.30,297.94 L213.00,297.97 L213.70,298.01 L214.40,298.05 L215.10,298.10 L215.80,298.16 L216.50,298.22 L217.20,298.29 L217.90,298.36 L218.60,298.44 L219.30,298.52 L220.00,298.61 L220.70,298.70 L221.40,298.80 L222.10,298.90 L222.80,299.01 L223.50,299.12 L224.20,299.23 L224.90,299.35 L225.60,299.48 L226.30,299.61 L227.00,299.74 L227.70,299.87 L228.40,300.01 L229.10,300.15 L229.80,300.29 L230.50,300.43 L231.20,300.57 L231.90,300.71 L232.60,300.85 L233.30,300.99 L234.00,301.12 L234.70,301.25 L235.40,301.38 L236.10,301.50 L236.80,301.62 L237.50,301.73 L238.20,301.84 L238.90,301.93 L239.60,302.02 L240.30,302.11 L241.00,302.18 L241.70,302.24 L242.40,302.30 L243.10,302.34 L243.80,302.37 L244.50,302.39 L245.20,302.39 L245.90,302.38 L246.60,302.36 L247.30,302.33 L248.00,302.27 L248.70,302.21 L249.40,302.12 L250.10,302.02 L250.80,301.90 L251.50,301.76 L252.20,301.61 L252.90,301.43 L253.60,301.23 L254.30,301.01 L255.00,300.77 L255.70,300.51 L256.40,300.22 L257.10,299.91 L257.80,299.58 L258.50,299.22 L259.20,298.84 L259.90,298.43 L260.00,298.37" stroke="#95c7ea" stroke-width="1"/>
<path d="M51.30,357.70 L52.00,356.20 L52.70,354.74 L53.40,353.32 L54.10,351.95 L54.80,350.62 L55.50,349.33 L56.20,348.08 L56.90,346.87 L57.60,345.70 L58.30,344.56 L59.00,343.47 L59.70,342.41 L60.40,341.38 L61.10,340.39 L61.80,339.44 L62.50,338.52 L63.20,337.63 L63.90,336.78 L64.60,335.95 L65.30,335.16 L66.00,334.40 L66.70,333.66 L67.40,332.96 L68.10,332.28 L68.80,331.64 L69.50,331.01 L70.20,330.42 L70.90,329.85 L71.60,329.30 L72.30,328.78 L73.00,328.28 L73.70,327.80 L74.40,327.35 L75.10,326.91 L75.80,326.50 L76.50,326.10 L77.20,325.73 L77.90,325.37 L78.60,325.03 L79.30,324.70 L80.00,324.38 L80.70,324.08 L81.40,323.78 L82.10,323.49 L82.80,323.21 L83.50,322.92 L84.20,322.64 L84.90,322.36 L85.60,322.07 L86.30,321.78 L87.00,321.48 L87.70,321.18 L88.40,320.86 L89.10,320.53 L89.80,320.19 L90.50,319.82 L91.20,319.45 L91.90,319.05 L92.60,318.62 L93.30,318.18 L94.00,317.71 L94.70,317.21 L95.40,316.68 L96.10,316.12 L96.80,315.52 L97.50,314.89 L98.20,314.22 L98.90,313.52 L99.60,312.77 L100.30,311.99 L101.00,311.17 L101.70,310.33 L102.40,309.46 L103.10,308.57 L103.80,307.65 L104.50,306.72 L105.20,305.77 L105.90,304.81 L106.60,303.84 L107.30,302.87 L108.00,301.89 L108.70,300.92 L109.40,299.94 L110.10,298.98 L110.80,298.02 L111.50,297.07 L112.20,296.14 L112.90,295.23 L113.60,294.34 L114.30,293.47 L115.00,292.63 L115.70,291.82 L116.40,291.04 L117.10,290.30 L117.80,289.59 L118.50,288.92 L119.20,288.30 L119.90,287.70 L120.60,287.15 L121.30,286.63 L122.00,286.16 L122.70,285.72 L123.40,285.31 L124.10,284.95 L124.80,284.63 L125.50,284.34 L126.20,284.09 L126.90,283.88 L127.60,283.71 L128.30,283.58 L129.00,283.47 L129.70,283.41 L130.40,283.37 L131.10,283.36 L131.80,283.38 L132.50,283.42 L133.20,283.49 L133.90,283.57 L134.60,283.68 L135.30,283.80 L136.00,283.94 L136.70,284.10 L137.40,284.26 L138.10,284.43 L138.80,284.62 L139.50,284.80 L140.20,284.99 L140.90,285.19 L141.60,285.38 L142.30,285.57 L143.00,285.76 L143.70,285.94 L144.40,286.11 L145.10,286.28 L145.80,286.43 L146.50,286.57 L147.20,286.70 L147.90,286.80 L148.60,286.89 L149.30,286.96 L150.00,287.00 L150.70,287.02 L151.40,287.02 L152.10,286.98 L152.80,286.92 L153.50,286.84 L154.20,286.73 L154.90,286.60 L155.60,286.45 L156.30,286.28 L157.00,286.09 L157.70,285.88 L158.40,285.66 L159.10,285.42 L159.80,285.17 L160.50,284.91 L161.20,284.64 L161.90,284.36 L162.60,284.06 L163.30,283.77 L164.00,283.46 L164.70,283.16 L165.40,282.85 L166.10,282.54 L166.80,282.22 L167.50,281.91 L168.20,281.60 L168.90,281.29 L169.60,280.98 L170.30,280.68 L171.00,280.38 L171.70,280.09 L172.40,279.81 L173.10,279.53 L173.80,279.26 L174.50,279.01 L175.20,278.76 L175.90,278.52 L176.60,278.30 L177.30,278.09 L178.00,277.90 L178.70,277.72 L179.40,277.56 L180.10,277.41 L180.80,277.29 L181.50,277.18 L182.20,277.09 L182.90,277.03 L183.60,276.98 L184.30,276.95 L185.00,276.94 L185.70,276.95 L186.40,276.97 L187.10,277.00 L187.80,277.04 L188.50,277.10 L189.20,277.16 L189.90,277.23 L190.60,277.30 L191.30,277.38 L192.00,277.46 L192.70,277.55 L193.40,277.63 L194.10,277.71 L194.80,277.79 L195.50,277.87 L196.20,277.94 L196.90,278.00 L197.60,278.05 L198.30,278.09 L199.00,278.13 L199.70,278.15 L200.40,278.15 L201.10,278.14 L201.80,278.11 L202.50,278.07 L203.20,278.00 L203.90,277.92 L204.60,277.81 L205.30,277.69 L206.00,277.55 L206.70,277.39 L207.40,277.22 L208.10,277.04 L208.80,276.84 L209.50,276.63 L210.20,276.41 L210.90,276.18 L211.60,275.94 L212.30,275.69 L213.00,275.44 L213.70,275.19 L214.40,274.92 L215.10,274.66 L215.80,274.39 L216.50,274.12 L217.20,273.86 L217.90,273.59 L218.60,273.33 L219.30,273.06 L220.00,272.81 L220.70,272.56 L221.40,272.31 L222.10,272.07 L222.80,271.84 L223.50,271.62 L224.20,271.42 L224.90,271.22 L225.60,271.03 L226.30,270.86 L227.00,270.71 L227.70,270.57 L228.40,270.45 L229.10,270.34 L229.80,270.26 L230.50,270.19 L231.20,270.15 L231.90,270.12 L232.60,270.11 L233.30,270.12 L234.00,270.15 L234.70,270.19 L235.40,270.24 L236.10,270.30 L236.80,270.38 L237.50,270.47 L238.20,270.57 L238.90,270.68 L239.60,270.80 L240.30,270.92 L241.00,271.05 L241.70,271.19 L242.40,271.33 L243.10,271.47 L243.80,271.62 L244.50,271.77 L245.20,271.92 L245.90,272.07 L246.60,272.22 L247.30,272.36 L248.00,272.51 L248.70,272.65 L249.40,272.78 L250.10,272.91 L250.80,273.03 L251.50,273.15 L252.20,273.25 L252.90,273.35 L253.60,273.43 L254.30,273.51 L255.00,273.57 L255.70,273.62 L256.40,273.65 L257.10,273.67 L257.80,273.67 L258.50,273.65 L259.20,273.62 L259.90,273.57 L260.00,273.56" stroke="#eb6f6c" stroke-width="1"/>
<path d="M51.30,352.42 L52.00,350.28 L52.70,348.21 L53.40,346.20 L54.10,344.25 L54.80,342.36 L55.50,340.53 L56.20,338.76 L56.90,337.05 L57.60,335.39 L58.30,333.79 L59.00,332.24 L59.70,330.74 L60.40,329.29 L61.10,327.90 L61.80,326.55 L62.50,325.25 L63.20,323.99 L63.90,322.78 L64.60,321.62 L65.30,320.49 L66.00,319.41 L66.70,318.37 L67.40,317.37 L68.10,316.41 L68.80,315.48 L69.50,314.59 L70.20,313.73 L70.90,312.91 L71.60,312.11 L72.30,311.34 L73.00,310.60 L73.70,309.87 L74.40,309.17 L75.10,308.49 L75.80,307.81 L76.50,307.16 L77.20,306.51 L77.90,305.86 L78.60,305.23 L79.30,304.59 L80.00,303.96 L80.70,303.32 L81.40,302.68 L82.10,302.03 L82.80,301.37 L83.50,300.69 L84.20,300.00 L84.90,299.30 L85.60,298.57 L86.30,297.83 L87.00,297.06 L87.70,296.26 L88.40,295.43 L89.10,294.58 L89.80,293.70 L90.50,292.80 L91.20,291.87 L91.90,290.93 L92.60,289.97 L93.30,288.99 L94.00,288.00 L94.70,287.00 L95.40,285.98 L96.10,284.95 L96.80,283.92 L97.50,282.87 L98.20,281.83 L98.90,280.77 L99.60,279.72 L100.30,278.67 L101.00,277.62 L101.70,276.57 L102.40,275.52 L103.10,274.49 L103.80,273.45 L104.50,272.43 L105.20,271.42 L105.90,270.43 L106.60,269.44 L107.30,268.48 L108.00,267.53 L108.70,266.60 L109.40,265.69 L110.10,264.81 L110.80,263.95 L111.50,263.13 L112.20,262.34 L112.90,261.60 L113.60,260.90 L114.30,260.24 L115.00,259.64 L115.70,259.08 L116.40,258.57 L117.10,258.10 L117.80,257.67 L118.50,257.27 L119.20,256.91 L119.90,256.58 L120.60,256.28 L121.30,256.01 L122.00,255.75 L122.70,255.52 L123.40,255.31 L124.10,255.12 L124.80,254.94 L125.50,254.77 L126.20,254.62 L126.90,254.48 L127.60,254.36 L128.30,254.24 L129.00,254.14 L129.70,254.04 L130.40,253.96 L131.10,253.88 L131.80,253.81 L132.50,253.75 L133.20,253.69 L133.90,253.64 L134.60,253.59 L135.30,253.54 L136.00,253.50 L136.70,253.46 L137.40,253.42 L138.10,253.38 L138.80,253.34 L139.50,253.29 L140.20,253.25 L140.90,253.20 L141.60,253.15 L142.30,253.09 L143.00,253.04 L143.70,252.98 L144.40,252.92 L145.10,252.85 L145.80,252.79 L146.50,252.72 L147.20,252.65 L147.90,252.57 L148.60,252.50 L149.30,252.43 L150.00,252.35 L150.70,252.27 L151.40,252.19 L152.10,252.11 L152.80,252.03 L153.50,251.95 L154.20,251.87 L154.90,251.79 L155.60,251.70 L156.30,251.62 L157.00,251.53 L157.70,251.45 L158.40,251.37 L159.10,251.28 L159.80,251.20 L160.50,251.12 L161.20,251.04 L161.90,250.96 L162.60,250.87 L163.30,250.80 L164.00,250.72 L164.70,250.64 L165.40,250.56 L166.10,250.49 L166.80,250.42 L167.50,250.35 L168.20,250.28 L168.90,250.21 L169.60,250.15 L170.30,250.08 L171.00,250.02 L171.70,249.96 L172.40,249.91 L173.10,249.86 L173.80,249.81 L174.50,249.76 L175.20,249.72 L175.90,249.67 L176.60,249.64 L177.30,249.60 L178.00,249.57 L178.70,249.55 L179.40,249.52 L180.10,249.50 L180.80,249.49 L181.50,249.48 L182.20,249.47 L182.90,249.46 L183.60,249.46 L184.30,249.46 L185.00,249.46 L185.70,249.47 L186.40,249.48 L187.10,249.49 L187.80,249.51 L188.50,249.53 L189.20,249.56 L189.90,249.58 L190.60,249.61 L191.30,249.65 L192.00,249.68 L192.70,249.72 L193.40,249.76 L194.10,249.81 L194.80,249.86 L195.50,249.91 L196.20,249.96 L196.90,250.02 L197.60,250.08 L198.30,250.14 L199.00,250.20 L199.70,250.27 L200.40,250.34 L201.10,250.42 L201.80,250.49 L202.50,250.57 L203.20,250.65 L203.90,250.74 L204.60,250.82 L205.30,250.91 L206.00,251.01 L206.70,251.10 L207.40,251.20 L208.10,251.30 L208.80,251.40 L209.50,251.50 L210.20,251.61 L210.90,251.72 L211.60,251.83 L212.30,251.95 L213.00,252.06 L213.70,252.18 L214.40,252.30 L215.10,252.42 L215.80,252.55 L216.50,252.68 L217.20,252.81 L217.90,252.94 L218.60,253.07 L219.30,253.21 L220.00,253.35 L220.70,253.49 L221.40,253.63 L222.10,253.77 L222.80,253.92 L223.50,254.07 L224.20,254.22 L224.90,254.37 L225.60,254.52 L226.30,254.68 L227.00,254.83 L227.70,254.99 L228.40,255.15 L229.10,255.31 L229.80,255.48 L230.50,255.64 L231.20,255.81 L231.90,255.98 L232.60,256.15 L233.30,256.32 L234.00,256.50 L234.70,256.67 L235.40,256.85 L236.10,257.03 L236.80,257.21 L237.50,257.39 L238.20,257.57 L238.90,257.75 L239.60,257.94 L240.30,258.13 L241.00,258.31 L241.70,258.50 L242.40,258.69 L243.10,258.89 L243.80,259.08 L244.50,259.27 L245.20,259.47 L245.90,259.66 L246.60,259.86 L247.30,260.06 L248.00,260.26 L248.70,260.46 L249.40,260.66 L250.10,260.86 L250.80,261.07 L251.50,261.27 L252.20,261.48 L252.90,261.68 L253.60,261.89 L254.30,262.10 L255.00,262.30 L255.70,262.51 L256.40,262.72 L257.10,262.93 L257.80,263.15 L258.50,263.36 L259.20,263.57 L259.90,263.78 L260.00,263.81" stroke="#ec2a45" stroke-width="1.1"/>
</g>
<circle cx="123.0" cy="255.0" r="2" fill="#111"/>
<circle cx="126.7" cy="283.7" r="2" fill="#111"/>
<circle cx="132.8" cy="299.0" r="2" fill="#111"/>
<circle cx="139.6" cy="309.2" r="2" fill="#111"/>
<circle cx="146.6" cy="317.7" r="2" fill="#111"/>
<path d="M171.7,318.3 Q145,290 136.5,252" fill="none" stroke="#111" stroke-width="1.2"/>
<path d="M135.20,246.30 L139.81,252.36 L133.99,253.82 Z" fill="#111"/>
<text x="147" y="270" font-size="12.5" font-family='"Liberation Serif", serif'>σ<tspan font-size="8.5" dy="2" font-style="italic">l</tspan><tspan dy="-2" font-size="15">↑</tspan></text>
<rect x="51.3" y="215.2" width="208.9" height="164" fill="none" stroke="#262626" stroke-width="1.2"/>
<line x1="47.5" y1="379.20" x2="51.3" y2="379.20" stroke="#262626" stroke-width="1"/>
<text x="45.00" y="382.70" font-size="10.00" text-anchor="end" font-family='"Liberation Sans", sans-serif' >2.31</text>
<line x1="47.5" y1="324.33" x2="51.3" y2="324.33" stroke="#262626" stroke-width="1"/>
<text x="45.00" y="327.83" font-size="10.00" text-anchor="end" font-family='"Liberation Sans", sans-serif' >4.63</text>
<line x1="47.5" y1="269.70" x2="51.3" y2="269.70" stroke="#262626" stroke-width="1"/>
<text x="45.00" y="273.20" font-size="10.00" text-anchor="end" font-family='"Liberation Sans", sans-serif' >6.94</text>
<line x1="47.5" y1="215.07" x2="51.3" y2="215.07" stroke="#262626" stroke-width="1"/>
<text x="45.00" y="218.57" font-size="10.00" text-anchor="end" font-family='"Liberation Sans", sans-serif' >9.25</text>
<line x1="49" y1="351.77" x2="51.3" y2="351.77" stroke="#262626" stroke-width="1"/>
<line x1="49" y1="297.02" x2="51.3" y2="297.02" stroke="#262626" stroke-width="1"/>
<line x1="49" y1="242.38" x2="51.3" y2="242.38" stroke="#262626" stroke-width="1"/>
<line x1="51.60" y1="379.2" x2="51.60" y2="382.8" stroke="#262626" stroke-width="1"/>
<text x="51.60" y="393.80" font-size="10.00" text-anchor="middle" font-family='"Liberation Sans", sans-serif' >10</text>
<line x1="96.11" y1="379.2" x2="96.11" y2="382.8" stroke="#262626" stroke-width="1"/>
<text x="96.11" y="393.80" font-size="10.00" text-anchor="middle" font-family='"Liberation Sans", sans-serif' >20</text>
<line x1="140.62" y1="379.2" x2="140.62" y2="382.8" stroke="#262626" stroke-width="1"/>
<text x="140.62" y="393.80" font-size="10.00" text-anchor="middle" font-family='"Liberation Sans", sans-serif' >30</text>
<line x1="185.13" y1="379.2" x2="185.13" y2="382.8" stroke="#262626" stroke-width="1"/>
<text x="185.13" y="393.80" font-size="10.00" text-anchor="middle" font-family='"Liberation Sans", sans-serif' >40</text>
<line x1="229.64" y1="379.2" x2="229.64" y2="382.8" stroke="#262626" stroke-width="1"/>
<text x="229.64" y="393.80" font-size="10.00" text-anchor="middle" font-family='"Liberation Sans", sans-serif' >50</text>
<line x1="73.86" y1="379.2" x2="73.86" y2="381.5" stroke="#262626" stroke-width="1"/>
<line x1="118.37" y1="379.2" x2="118.37" y2="381.5" stroke="#262626" stroke-width="1"/>
<line x1="162.88" y1="379.2" x2="162.88" y2="381.5" stroke="#262626" stroke-width="1"/>
<line x1="207.38" y1="379.2" x2="207.38" y2="381.5" stroke="#262626" stroke-width="1"/>
<line x1="251.89" y1="379.2" x2="251.89" y2="381.5" stroke="#262626" stroke-width="1"/>
<text x="150" y="409.8" font-size="12.5" font-family='"Liberation Sans", sans-serif'>T<tspan font-size="7.5" dy="-6">*</tspan></text>
<text transform="translate(20.8,299.2) rotate(-90)" font-size="11.5" font-style="italic" text-anchor="middle" font-family='"Liberation Serif", serif'>q</text>
<text transform="translate(11,295.8) rotate(-90)" font-size="8.5" text-anchor="middle" font-family='"Liberation Serif", serif'>~</text>
<line x1="54.5" y1="222.8" x2="74.0" y2="222.8" stroke="#111" stroke-width="1.1"/>
<text x="78.9" y="225.9" font-size="8.6" font-family='"Liberation Sans", sans-serif'>Ca<tspan font-size="6" dy="2">e</tspan><tspan dy="-2"> = 0</tspan></text>
<line x1="121.5" y1="222.8" x2="141.5" y2="222.8" stroke="#ec2a45" stroke-width="1.1"/>
<text x="144.0" y="225.9" font-size="8.6" font-family='"Liberation Sans", sans-serif'>T<tspan font-size="6" dy="2">σ</tspan><tspan dy="-2"> = 6.4</tspan></text>
<line x1="186.3" y1="222.8" x2="206.0" y2="222.8" stroke="#eb6f6c" stroke-width="1.1"/>
<text x="208.1" y="225.9" font-size="8.6" font-family='"Liberation Sans", sans-serif'>T<tspan font-size="6" dy="2">σ</tspan><tspan dy="-2"> = 12.8</tspan></text>
<line x1="54.5" y1="235.8" x2="74.0" y2="235.8" stroke="#95c7ea" stroke-width="1.1"/>
<text x="76.6" y="238.9" font-size="8.6" font-family='"Liberation Sans", sans-serif'>T<tspan font-size="6" dy="2">σ</tspan><tspan dy="-2"> = 32.0</tspan></text>
<line x1="121.5" y1="235.8" x2="141.5" y2="235.8" stroke="#5aa0e6" stroke-width="1.1"/>
<text x="144.0" y="238.9" font-size="8.6" font-family='"Liberation Sans", sans-serif'>T<tspan font-size="6" dy="2">σ</tspan><tspan dy="-2"> = 160.0</tspan></text>
<rect x="330.5" y="339.6" width="94.9" height="33.9" fill="url(#gband)"/>
<defs><clipPath id="cl330"><rect x="330.5" y="209.5" width="94.9" height="164.0"/></clipPath></defs>
<g fill="none" clip-path="url(#cl330)">
<path d="M424.90,210.00 C424.88,213.33 425.05,224.53 424.80,230.00 C424.55,235.47 423.82,237.02 423.40,242.80 C422.98,248.58 422.83,259.23 422.30,264.70 C421.77,270.17 421.10,271.95 420.20,275.60 C419.30,279.25 418.55,282.58 416.90,286.60 C415.25,290.62 412.68,295.50 410.30,299.70 C407.92,303.90 405.33,308.57 402.60,311.80 C399.87,315.03 397.05,317.03 393.90,319.10 C390.75,321.17 387.83,322.50 383.70,324.20 C379.57,325.90 373.47,327.72 369.10,329.30 C364.73,330.88 360.53,332.23 357.50,333.70 C354.47,335.17 352.32,336.77 350.90,338.10 C349.48,339.43 348.88,340.37 349.00,341.70 C349.12,343.03 350.18,344.77 351.60,346.10 C353.02,347.43 353.80,347.97 357.50,349.70 C361.20,351.43 367.43,353.90 373.80,356.50 C380.17,359.10 389.13,362.50 395.70,365.30 C402.27,368.10 409.48,371.52 413.20,373.30 C416.92,375.08 417.20,375.55 418.00,376.00" stroke="#e8627a" stroke-width="1.10"/>
<path d="M424.90,210.00 C424.88,215.00 424.90,232.50 424.80,240.00 C424.70,247.50 424.55,249.67 424.30,255.00 C424.05,260.33 423.77,267.17 423.30,272.00 C422.83,276.83 422.28,281.00 421.50,284.00 C420.72,287.00 420.05,287.07 418.60,290.00 C417.15,292.93 414.98,297.97 412.80,301.60 C410.62,305.23 408.17,308.88 405.50,311.80 C402.83,314.72 399.35,316.67 396.80,319.10 C394.25,321.53 391.78,323.97 390.20,326.40 C388.62,328.83 387.65,331.52 387.30,333.70 C386.95,335.88 387.25,337.57 388.10,339.50 C388.95,341.43 390.47,343.60 392.40,345.30 C394.33,347.00 396.47,347.35 399.70,349.70 C402.93,352.05 408.22,355.47 411.80,359.40 C415.38,363.33 419.33,370.53 421.20,373.30 C423.07,376.07 422.70,375.55 423.00,376.00" stroke="#f5b8a4" stroke-width="0.90"/>
<path d="M424.90,210.00 C424.88,215.00 424.95,230.00 424.80,240.00 C424.65,250.00 424.38,262.83 424.00,270.00 C423.62,277.17 423.15,279.67 422.50,283.00 C421.85,286.33 421.23,286.40 420.10,290.00 C418.97,293.60 417.03,299.75 415.70,304.60 C414.37,309.45 412.82,315.47 412.10,319.10 C411.38,322.73 411.28,323.97 411.40,326.40 C411.52,328.83 412.08,331.27 412.80,333.70 C413.52,336.13 414.48,338.33 415.70,341.00 C416.92,343.67 418.82,345.90 420.10,349.70 C421.38,353.50 422.67,359.75 423.40,363.80 C424.13,367.85 424.32,372.30 424.50,374.00" stroke="#c3def0" stroke-width="0.90"/>
<path d="M424.90,210.00 C424.88,225.00 424.92,281.67 424.80,300.00 C424.68,318.33 424.53,314.33 424.20,320.00 C423.87,325.67 422.97,329.00 422.80,334.00 C422.63,339.00 422.90,344.83 423.20,350.00 C423.50,355.17 424.33,361.00 424.60,365.00 C424.87,369.00 424.77,372.50 424.80,374.00" stroke="#4f98df" stroke-width="1.00"/>
</g>
<line x1="340.9" y1="345.6" x2="340.9" y2="367.5" stroke="#1a1a1a" stroke-width="1.1"/>
<path d="M340.90,342.60 L343.10,347.60 L338.70,347.60 Z" fill="#111"/>
<path d="M340.90,373.50 L338.70,368.50 L343.10,368.50 Z" fill="#111"/>
<text x="343.8" y="360.7" font-size="7.4" fill="#3c3c46" font-family='"Liberation Sans", sans-serif'>Interface</text>
<text x="343.8" y="369.7" font-size="7.4" fill="#3c3c46" font-family='"Liberation Sans", sans-serif'>thickness</text>
<rect x="330.5" y="209.5" width="94.9" height="164.0" fill="none" stroke="#262626" stroke-width="1.2"/>
<line x1="377.9" y1="373.5" x2="377.9" y2="375.5" stroke="#262626" stroke-width="1"/>
<text x="323.00" y="211.00" font-size="12.20" text-anchor="end" font-family='"Liberation Sans", sans-serif' >0.1</text>
<text x="323.00" y="375.20" font-size="12.20" text-anchor="end" font-family='"Liberation Sans", sans-serif' >0.0</text>
<text x="329.50" y="390.50" font-size="12.20" text-anchor="middle" font-family='"Liberation Sans", sans-serif' >−2500</text>
<text x="423.90" y="390.50" font-size="12.20" text-anchor="middle" font-family='"Liberation Sans", sans-serif' >0</text>
<text x="368.9" y="405.0" font-size="13" font-family='"Liberation Sans", sans-serif'>Σ<tspan>ρ</tspan><tspan font-size="8.5" dy="3">e,z</tspan></text>
<line x1="376.4" y1="394.8" x2="382.9" y2="394.8" stroke="#111" stroke-width="0.9"/>
<line x1="333.0" y1="217.3" x2="351.0" y2="217.3" stroke="#e8627a" stroke-width="1.6"/>
<text x="352.7" y="219.8" font-size="7.6" font-family='"Liberation Sans", sans-serif'>T<tspan font-size="5.3" dy="1.8">σ</tspan><tspan dy="-1.8"> = 6.4</tspan></text>
<line x1="333.0" y1="228.6" x2="351.0" y2="228.6" stroke="#f5b8a4" stroke-width="1.2"/>
<text x="352.7" y="231.1" font-size="7.6" font-family='"Liberation Sans", sans-serif'>T<tspan font-size="5.3" dy="1.8">σ</tspan><tspan dy="-1.8"> = 12.8</tspan></text>
<line x1="333.0" y1="239.9" x2="351.0" y2="239.9" stroke="#c3def0" stroke-width="1.2"/>
<text x="352.7" y="242.4" font-size="7.6" font-family='"Liberation Sans", sans-serif'>T<tspan font-size="5.3" dy="1.8">σ</tspan><tspan dy="-1.8"> = 32.0</tspan></text>
<line x1="333.0" y1="251.2" x2="351.0" y2="251.2" stroke="#4f98df" stroke-width="1.2"/>
<text x="352.7" y="253.7" font-size="7.6" font-family='"Liberation Sans", sans-serif'>T<tspan font-size="5.3" dy="1.8">σ</tspan><tspan dy="-1.8"> = 160.0</tspan></text>
<rect x="457.6" y="340.9" width="94.7" height="33.4" fill="url(#gband)"/>
<defs><clipPath id="cl457"><rect x="457.6" y="210.3" width="94.7" height="164.0"/></clipPath></defs>
<g fill="none" clip-path="url(#cl457)">
<path d="M552.00,210.00 C551.97,214.17 551.93,227.50 551.80,235.00 C551.67,242.50 551.63,249.17 551.20,255.00 C550.77,260.83 550.05,265.07 549.20,270.00 C548.35,274.93 547.38,280.05 546.10,284.60 C544.82,289.15 543.48,293.35 541.50,297.30 C539.52,301.25 537.23,304.95 534.20,308.30 C531.17,311.65 527.85,314.68 523.30,317.40 C518.75,320.12 512.37,322.33 506.90,324.60 C501.43,326.87 494.75,329.17 490.50,331.00 C486.25,332.83 483.68,334.10 481.40,335.60 C479.12,337.10 477.62,338.85 476.80,340.00 C475.98,341.15 475.97,341.33 476.50,342.50 C477.03,343.67 476.28,344.92 480.00,347.00 C483.72,349.08 492.02,352.20 498.80,355.00 C505.58,357.80 513.88,360.75 520.70,363.80 C527.52,366.85 536.15,371.27 539.70,373.30 C543.25,375.33 541.62,375.55 542.00,376.00" stroke="#e8627a" stroke-width="1.10"/>
<path d="M552.00,210.00 C551.97,215.00 551.92,231.33 551.80,240.00 C551.68,248.67 551.50,257.00 551.30,262.00 C551.10,267.00 551.32,265.63 550.60,270.00 C549.88,274.37 548.52,283.03 547.00,288.20 C545.48,293.37 543.93,296.75 541.50,301.00 C539.07,305.25 536.05,309.77 532.40,313.70 C528.75,317.63 522.93,321.57 519.60,324.60 C516.27,327.63 513.92,329.75 512.40,331.90 C510.88,334.05 510.40,335.65 510.50,337.50 C510.60,339.35 511.55,341.05 513.00,343.00 C514.45,344.95 515.23,346.22 519.20,349.20 C523.17,352.18 532.05,356.88 536.80,360.90 C541.55,364.92 545.67,370.78 547.70,373.30 C549.73,375.82 548.78,375.55 549.00,376.00" stroke="#f5c4ad" stroke-width="0.90"/>
<path d="M552.20,210.00 C552.17,220.00 552.27,255.45 552.00,270.00 C551.73,284.55 551.43,290.32 550.60,297.30 C549.77,304.28 548.52,307.35 547.00,311.90 C545.48,316.45 542.72,321.27 541.50,324.60 C540.28,327.93 539.90,329.33 539.70,331.90 C539.50,334.47 539.82,337.60 540.30,340.00 C540.78,342.40 541.25,342.82 542.60,346.30 C543.95,349.78 546.93,356.52 548.40,360.90 C549.87,365.28 550.90,370.65 551.40,372.60" stroke="#4f98df" stroke-width="1.00"/>
</g>
<line x1="468.0" y1="346.9" x2="468.0" y2="368.3" stroke="#1a1a1a" stroke-width="1.1"/>
<path d="M468.00,343.90 L470.20,348.90 L465.80,348.90 Z" fill="#111"/>
<path d="M468.00,374.30 L465.80,369.30 L470.20,369.30 Z" fill="#111"/>
<text x="470.9" y="360.7" font-size="7.4" fill="#3c3c46" font-family='"Liberation Sans", sans-serif'>Interface</text>
<text x="470.9" y="369.7" font-size="7.4" fill="#3c3c46" font-family='"Liberation Sans", sans-serif'>thickness</text>
<rect x="457.6" y="210.3" width="94.7" height="164.0" fill="none" stroke="#262626" stroke-width="1.2"/>
<line x1="504.9" y1="374.3" x2="504.9" y2="376.3" stroke="#262626" stroke-width="1"/>
<text x="450.10" y="211.80" font-size="12.20" text-anchor="end" font-family='"Liberation Sans", sans-serif' >0.1</text>
<text x="450.10" y="376.00" font-size="12.20" text-anchor="end" font-family='"Liberation Sans", sans-serif' >0.0</text>
<text x="456.60" y="391.30" font-size="12.20" text-anchor="middle" font-family='"Liberation Sans", sans-serif' >−2500</text>
<text x="550.80" y="391.30" font-size="12.20" text-anchor="middle" font-family='"Liberation Sans", sans-serif' >0</text>
<text x="495.9" y="405.8" font-size="13" font-family='"Liberation Sans", sans-serif'>Σ<tspan>ρ</tspan><tspan font-size="8.5" dy="3">e,z</tspan></text>
<line x1="503.4" y1="395.6" x2="509.9" y2="395.6" stroke="#111" stroke-width="0.9"/>
<line x1="460.1" y1="217.6" x2="478.1" y2="217.6" stroke="#4f98df" stroke-width="1.2"/>
<text x="482.6" y="220.1" font-size="7.6" font-family='"Liberation Sans", sans-serif'>Ca<tspan font-size="5.3" dy="1.8">e</tspan><tspan dy="-1.8"> = 0.064</tspan></text>
<line x1="460.1" y1="229.0" x2="478.1" y2="229.0" stroke="#f5c4ad" stroke-width="1.2"/>
<text x="482.6" y="231.5" font-size="7.6" font-family='"Liberation Sans", sans-serif'>Ca<tspan font-size="5.3" dy="1.8">e</tspan><tspan dy="-1.8"> = 0.576</tspan></text>
<line x1="460.1" y1="240.4" x2="478.1" y2="240.4" stroke="#e8627a" stroke-width="1.2"/>
<text x="482.6" y="242.9" font-size="7.6" font-family='"Liberation Sans", sans-serif'>Ca = 1.60</text>
<rect x="587.6" y="342.6" width="94.5" height="33.2" fill="url(#gband)"/>
<defs><clipPath id="cl587"><rect x="587.6" y="212.8" width="94.5" height="163.0"/></clipPath></defs>
<g fill="none" clip-path="url(#cl587)">
<path d="M682.00,212.00 C681.97,215.83 681.97,228.67 681.80,235.00 C681.63,241.33 681.27,245.83 681.00,250.00 C680.73,254.17 680.88,255.42 680.20,260.00 C679.52,264.58 678.53,272.03 676.90,277.50 C675.27,282.97 672.95,287.88 670.40,292.80 C667.85,297.72 664.42,302.63 661.60,307.00 C658.78,311.37 656.23,315.55 653.50,319.00 C650.77,322.45 648.22,324.78 645.20,327.70 C642.18,330.62 637.77,333.95 635.40,336.50 C633.03,339.05 631.80,341.25 631.00,343.00 C630.20,344.75 630.18,345.58 630.60,347.00 C631.02,348.42 631.37,349.92 633.50,351.50 C635.63,353.08 638.58,354.20 643.40,356.50 C648.22,358.80 657.42,362.18 662.40,365.30 C667.38,368.42 671.20,373.25 673.30,375.20 C675.40,377.15 674.72,376.70 675.00,377.00" stroke="#e5506a" stroke-width="1.00"/>
<path d="M682.00,212.00 C681.97,216.67 681.93,232.33 681.80,240.00 C681.67,247.67 681.65,251.75 681.20,258.00 C680.75,264.25 680.37,271.70 679.10,277.50 C677.83,283.30 675.97,287.88 673.60,292.80 C671.23,297.72 668.17,302.72 664.90,307.00 C661.63,311.28 657.47,315.23 654.00,318.50 C650.53,321.77 647.93,324.15 644.10,326.60 C640.27,329.05 635.18,331.20 631.00,333.20 C626.82,335.20 621.80,336.78 619.00,338.60 C616.20,340.42 614.92,342.45 614.20,344.10 C613.48,345.75 613.73,347.18 614.70,348.50 C615.67,349.82 614.45,349.45 620.00,352.00 C625.55,354.55 639.48,360.02 648.00,363.80 C656.52,367.58 667.10,372.50 671.10,374.70 C675.10,376.90 671.85,376.62 672.00,377.00" stroke="#f5b8a4" stroke-width="0.90"/>
<path d="M682.00,212.00 C681.97,216.67 681.92,232.83 681.80,240.00 C681.68,247.17 681.50,251.67 681.30,255.00 C681.10,258.33 681.15,256.25 680.60,260.00 C680.05,263.75 679.35,272.03 678.00,277.50 C676.65,282.97 674.87,287.88 672.50,292.80 C670.13,297.72 666.88,302.72 663.80,307.00 C660.72,311.28 657.45,315.42 654.00,318.50 C650.55,321.58 647.47,323.42 643.10,325.50 C638.73,327.58 632.53,329.17 627.80,331.00 C623.07,332.83 618.05,334.68 614.70,336.50 C611.35,338.32 608.90,340.32 607.70,341.90 C606.50,343.48 606.95,344.73 607.50,346.00 C608.05,347.27 608.67,348.23 611.00,349.50 C613.33,350.77 615.62,351.22 621.50,353.60 C627.38,355.98 638.27,360.28 646.30,363.80 C654.33,367.32 665.58,372.50 669.70,374.70 C673.82,376.90 670.78,376.62 671.00,377.00" stroke="#5ea6e8" stroke-width="1.00"/>
</g>
<line x1="592.4" y1="348.6" x2="592.4" y2="369.8" stroke="#1a1a1a" stroke-width="1.1"/>
<path d="M592.40,345.60 L594.60,350.60 L590.20,350.60 Z" fill="#111"/>
<path d="M592.40,375.80 L590.20,370.80 L594.60,370.80 Z" fill="#111"/>
<text x="595.3" y="360.7" font-size="7.4" fill="#3c3c46" font-family='"Liberation Sans", sans-serif'>Interface</text>
<text x="595.3" y="369.7" font-size="7.4" fill="#3c3c46" font-family='"Liberation Sans", sans-serif'>thickness</text>
<rect x="587.6" y="212.8" width="94.5" height="163.0" fill="none" stroke="#262626" stroke-width="1.2"/>
<line x1="634.9" y1="375.8" x2="634.9" y2="377.8" stroke="#262626" stroke-width="1"/>
<text x="580.10" y="214.30" font-size="12.20" text-anchor="end" font-family='"Liberation Sans", sans-serif' >0.1</text>
<text x="580.10" y="377.50" font-size="12.20" text-anchor="end" font-family='"Liberation Sans", sans-serif' >0.0</text>
<text x="586.60" y="392.80" font-size="12.20" text-anchor="middle" font-family='"Liberation Sans", sans-serif' >−2500</text>
<text x="680.60" y="392.80" font-size="12.20" text-anchor="middle" font-family='"Liberation Sans", sans-serif' >0</text>
<text x="625.9" y="407.3" font-size="13" font-family='"Liberation Sans", sans-serif'>Σ<tspan>ρ</tspan><tspan font-size="8.5" dy="3">e,z</tspan></text>
<line x1="633.4" y1="397.1" x2="639.9" y2="397.1" stroke="#111" stroke-width="0.9"/>
<line x1="590.1" y1="220.3" x2="608.1" y2="220.3" stroke="#5ea6e8" stroke-width="1.2"/>
<text x="611.9" y="222.8" font-size="7.6" font-family='"Liberation Sans", sans-serif'>Ja =0.30</text>
<line x1="590.1" y1="229.7" x2="608.1" y2="229.7" stroke="#f5b8a4" stroke-width="1.2"/>
<text x="611.9" y="232.2" font-size="7.6" font-family='"Liberation Sans", sans-serif'>Ja =0.35</text>
<line x1="590.1" y1="239.1" x2="608.1" y2="239.1" stroke="#e5506a" stroke-width="1.2"/>
<text x="611.9" y="241.6" font-size="7.6" font-family='"Liberation Sans", sans-serif'>Ja =0.40</text>
<text transform="translate(301,290.5) rotate(-90)" font-size="13" text-anchor="middle" font-family='"Liberation Sans", sans-serif'>dH</text>
</svg></body></html>
